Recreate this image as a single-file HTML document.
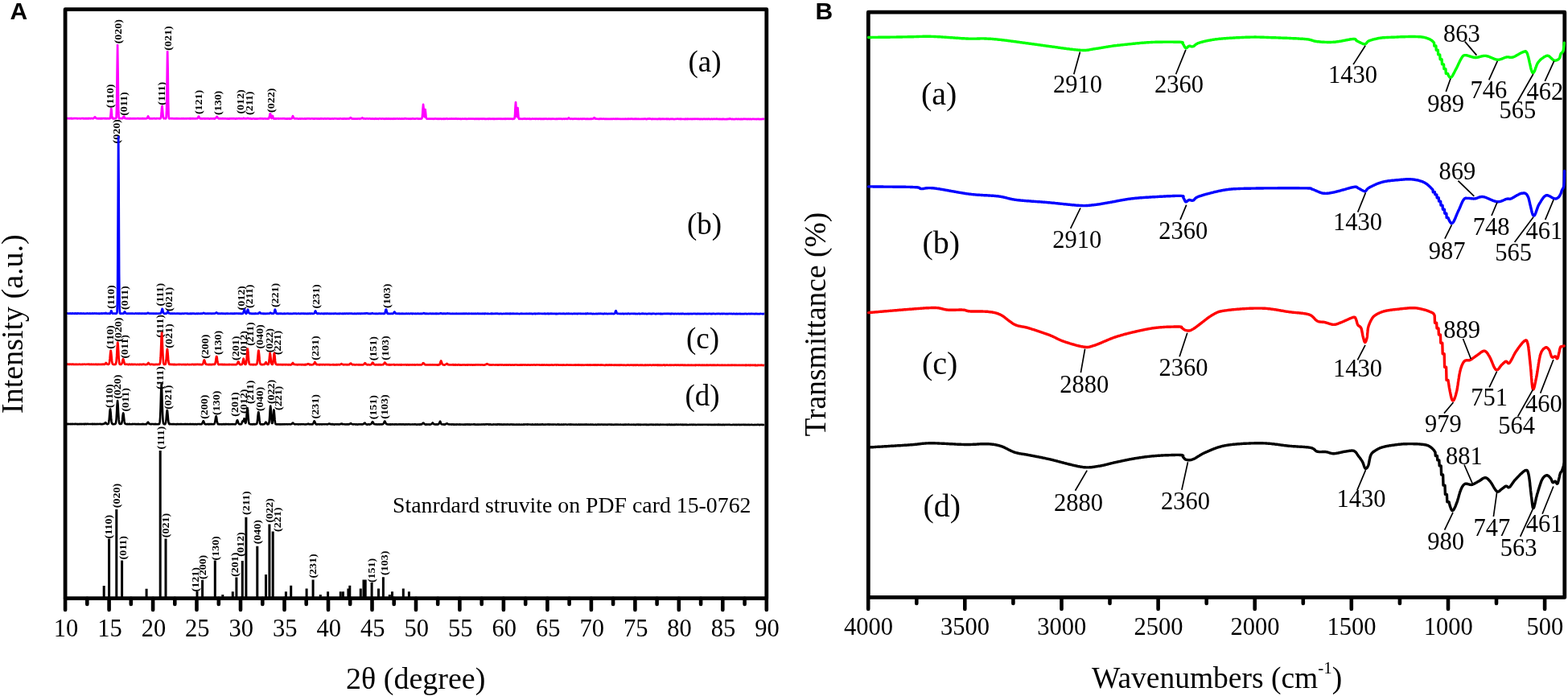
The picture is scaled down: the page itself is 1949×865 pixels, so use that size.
<!DOCTYPE html>
<html><head><meta charset="utf-8"><title>XRD and FTIR</title><style>html,body{margin:0;padding:0;background:#fff;overflow:hidden}svg{display:block}</style></head><body>
<svg width="1949" height="865" viewBox="0 0 1949 865">
<rect width="100%" height="100%" fill="#fff"/>
<g style="font-family:'Liberation Serif','Times New Roman',serif;font-size:14px;font-weight:bold" fill="#000"><text transform="translate(141 134.2) rotate(-90) scale(1 0.9)">(110)</text><text transform="translate(150.8 54.3) rotate(-90) scale(1 0.9)">(020)</text><text transform="translate(158.2 143.8) rotate(-90) scale(1 0.9)">(011)</text><text transform="translate(204.6 130.7) rotate(-90) scale(1 0.9)">(111)</text><text transform="translate(212.6 62.7) rotate(-90) scale(1 0.9)">(021)</text><text transform="translate(251.4 142.1) rotate(-90) scale(1 0.9)">(121)</text><text transform="translate(274.6 143) rotate(-90) scale(1 0.9)">(130)</text><text transform="translate(302.9 141.6) rotate(-90) scale(1 0.9)">(012)</text><text transform="translate(314.2 143) rotate(-90) scale(1 0.9)">(211)</text><text transform="translate(340.6 139.9) rotate(-90) scale(1 0.9)">(022)</text><text transform="translate(148.9 178.5) rotate(-90) scale(1 0.9)">(020)</text><text transform="translate(142.3 383.8) rotate(-90) scale(1 0.9)">(110)</text><text transform="translate(159.3 384.9) rotate(-90) scale(1 0.9)">(011)</text><text transform="translate(203.1 380.5) rotate(-90) scale(1 0.9)">(111)</text><text transform="translate(214.1 387) rotate(-90) scale(1 0.9)">(021)</text><text transform="translate(303.7 385.5) rotate(-90) scale(1 0.9)">(012)</text><text transform="translate(314.3 383) rotate(-90) scale(1 0.9)">(211)</text><text transform="translate(345.6 382.1) rotate(-90) scale(1 0.9)">(221)</text><text transform="translate(397.3 383.5) rotate(-90) scale(1 0.9)">(231)</text><text transform="translate(485 382.9) rotate(-90) scale(1 0.9)">(103)</text><text transform="translate(141.3 433.8) rotate(-90) scale(1 0.9)">(110)</text><text transform="translate(151.2 424.8) rotate(-90) scale(1 0.9)">(020)</text><text transform="translate(159.3 445.6) rotate(-90) scale(1 0.9)">(011)</text><text transform="translate(203.3 419.8) rotate(-90) scale(1 0.9)">(111)</text><text transform="translate(214.2 432.7) rotate(-90) scale(1 0.9)">(021)</text><text transform="translate(258.5 445.8) rotate(-90) scale(1 0.9)">(200)</text><text transform="translate(274.6 441.1) rotate(-90) scale(1 0.9)">(130)</text><text transform="translate(297 447.9) rotate(-90) scale(1 0.9)">(201)</text><text transform="translate(306.8 441.4) rotate(-90) scale(1 0.9)">(012)</text><text transform="translate(315.4 429.8) rotate(-90) scale(1 0.9)">(211)</text><text transform="translate(327.1 433.6) rotate(-90) scale(1 0.9)">(040)</text><text transform="translate(339.1 438.3) rotate(-90) scale(1 0.9)">(022)</text><text transform="translate(348.5 441.1) rotate(-90) scale(1 0.9)">(221)</text><text transform="translate(396 447.7) rotate(-90) scale(1 0.9)">(231)</text><text transform="translate(468.4 448.3) rotate(-90) scale(1 0.9)">(151)</text><text transform="translate(483.4 447.7) rotate(-90) scale(1 0.9)">(103)</text><text transform="translate(140.3 506.9) rotate(-90) scale(1 0.9)">(110)</text><text transform="translate(150.4 495.8) rotate(-90) scale(1 0.9)">(020)</text><text transform="translate(159.8 511.6) rotate(-90) scale(1 0.9)">(011)</text><text transform="translate(203 484.1) rotate(-90) scale(1 0.9)">(111)</text><text transform="translate(213.1 508.8) rotate(-90) scale(1 0.9)">(021)</text><text transform="translate(258.4 520.8) rotate(-90) scale(1 0.9)">(200)</text><text transform="translate(272.8 515.9) rotate(-90) scale(1 0.9)">(130)</text><text transform="translate(296.2 517.7) rotate(-90) scale(1 0.9)">(201)</text><text transform="translate(306.6 513.9) rotate(-90) scale(1 0.9)">(012)</text><text transform="translate(315.3 502.1) rotate(-90) scale(1 0.9)">(211)</text><text transform="translate(326.7 511.1) rotate(-90) scale(1 0.9)">(040)</text><text transform="translate(341.3 502.1) rotate(-90) scale(1 0.9)">(022)</text><text transform="translate(349.9 510) rotate(-90) scale(1 0.9)">(221)</text><text transform="translate(396.1 520.4) rotate(-90) scale(1 0.9)">(231)</text><text transform="translate(467.8 521.3) rotate(-90) scale(1 0.9)">(151)</text><text transform="translate(481.9 520.7) rotate(-90) scale(1 0.9)">(103)</text><text transform="translate(139.3 669.4) rotate(-90) scale(1 0.9)">(110)</text><text transform="translate(148.6 631.2) rotate(-90) scale(1 0.9)">(020)</text><text transform="translate(157.2 695.5) rotate(-90) scale(1 0.9)">(011)</text><text transform="translate(203.8 558.5) rotate(-90) scale(1 0.9)">(111)</text><text transform="translate(210.2 668.2) rotate(-90) scale(1 0.9)">(021)</text><text transform="translate(247.4 735.4) rotate(-90) scale(1 0.9)">(121)</text><text transform="translate(255.9 720) rotate(-90) scale(1 0.9)">(200)</text><text transform="translate(271.7 696.5) rotate(-90) scale(1 0.9)">(130)</text><text transform="translate(296 716.8) rotate(-90) scale(1 0.9)">(201)</text><text transform="translate(302.9 691.7) rotate(-90) scale(1 0.9)">(012)</text><text transform="translate(309.8 639.9) rotate(-90) scale(1 0.9)">(211)</text><text transform="translate(324.3 676.3) rotate(-90) scale(1 0.9)">(040)</text><text transform="translate(339.3 649.6) rotate(-90) scale(1 0.9)">(022)</text><text transform="translate(348.6 660.9) rotate(-90) scale(1 0.9)">(221)</text><text transform="translate(393.3 718.6) rotate(-90) scale(1 0.9)">(231)</text><text transform="translate(466.3 724.1) rotate(-90) scale(1 0.9)">(151)</text><text transform="translate(482.1 714.9) rotate(-90) scale(1 0.9)">(103)</text></g>
<polyline fill="none" stroke="#ff00ff" stroke-width="2.7" stroke-linejoin="round" points="81.6,147.2 82.1,147.2 82.6,147.4 83.1,147.2 83.6,147.2 84.1,147.2 84.6,147.1 85.1,147.2 85.6,147.3 86.1,147.3 86.6,147 87.1,147.1 87.6,147 88.1,147.3 88.6,147.3 89.1,147 89.6,147.4 90.1,147.4 90.6,147.3 91.1,147.3 91.6,147.1 92.1,147 92.6,147.2 93.1,147 93.6,147.1 94.1,147.1 94.6,147 95.1,147.2 95.6,147.2 96.1,147.4 96.6,147.2 97.1,147.3 97.6,147.2 98.1,147.3 98.6,147.2 99.1,147.1 99.6,147.4 100.1,147.4 100.6,147.4 101.1,147.3 101.6,147.1 102.1,147.1 102.6,147.1 103.1,147 103.6,147.3 104.1,147.2 104.6,147.4 105.1,147.2 105.6,147.4 106.1,147.4 106.6,147 107.1,147.1 107.6,147.4 108.1,147.2 108.6,147.4 109.1,147.2 109.6,147 110.1,147.3 110.6,147.3 111.1,147.1 111.6,147 112.1,147.2 112.6,147.4 113.1,147.3 113.6,147.1 114.1,147.1 114.6,147.1 115.1,147 115.6,147.4 116.1,147 116.6,147 117.1,146.4 117.6,145.6 118,145.6 118.1,145.4 118.6,146.1 119.1,146.5 119.6,147.1 120.1,147.1 120.6,147.1 121.1,147.4 121.6,147.4 122.1,147.2 122.6,147.4 123.1,147.1 123.6,147.2 124.1,147.4 124.6,147.3 125.1,147.1 125.6,147.5 126.1,147.1 126.6,147.1 127.1,147.4 127.6,147.2 128.1,147.2 128.6,147.1 129.1,147.1 129.6,147.3 130.1,147.1 130.6,147.3 131.1,147.2 131.5,147.2 131.6,147.4 132.1,147.2 132.6,147.3 133.1,147.4 133.6,147.1 134.1,147.1 134.6,147.4 135.1,147.4 135.6,147.1 136.1,147.1 136.6,147.3 137.1,146.8 137.6,142.6 138.1,136.1 138.3,135.1 138.6,137 139.1,143.9 139.6,146.7 140.1,147 140.6,147.5 141.1,147.1 141.6,147.3 142.1,147.1 142.6,147.4 143.1,147.3 143.6,147.2 144.1,147.1 144.6,145.9 145.1,132.5 145.6,89.4 146.1,56 146.6,89.7 147.1,132.7 147.6,145.7 148.1,147.4 148.6,147.1 149.1,147 149.6,147.2 150.1,147.2 150.6,147.1 151.1,147.1 151.6,147.2 152.1,147.3 152.6,146.8 153.1,146.1 153.6,145 153.9,144.7 154.1,144.7 154.6,145.9 155.1,146.9 155.6,147.1 156.1,147.1 156.6,147.1 157.1,147.5 157.6,147.4 158.1,147.5 158.6,147.1 159.1,147.3 159.6,147.3 160.1,147.4 160.6,147.2 161.1,147.5 161.6,147.1 162.1,147.3 162.6,147.4 163.1,147.5 163.6,147.4 164.1,147.4 164.6,147.4 165.1,147.5 165.6,147.2 166.1,147.4 166.6,147.5 167.1,147.4 167.6,147.2 168.1,147.4 168.6,147.4 169.1,147.3 169.6,147.3 170.1,147.2 170.6,147.3 171.1,147.3 171.6,147.1 172.1,147.3 172.6,147.5 173.1,147.5 173.6,147.4 174.1,147.2 174.6,147.4 175.1,147.3 175.6,147.3 176.1,147.4 176.6,147.1 177.1,147.4 177.6,147.1 178.1,147.3 178.6,147.3 179.1,147.2 179.6,147.4 180.1,147.3 180.6,147.3 181.1,147.5 181.6,147.2 182.1,147.1 182.6,147.1 183.1,146.8 183.6,145.3 184.1,144.4 184.6,145.6 185.1,146.8 185.6,147.2 186.1,147.5 186.6,147.2 187.1,147.4 187.6,147.2 188.1,147.3 188.6,147.4 189.1,147.5 189.6,147.5 190.1,147.2 190.6,147.3 191.1,147.2 191.6,147.1 192.1,147.3 192.6,147.5 193.1,147.5 193.6,147.4 194.1,147.5 194.6,147.2 195.1,147.2 195.6,147.3 196.1,147.2 196.6,147.2 197.1,147.3 197.6,147.4 198.1,147.3 198.6,147.2 199.1,147.4 199.6,147.3 200.1,145.7 200.6,141 201.1,134.2 201.5,132 201.6,131.8 202.1,137.1 202.6,143.5 203.1,146.4 203.6,147.3 204.1,147.1 204.6,147.2 205.1,147.3 205.6,147.1 206.1,147.4 206.6,146 207.1,135.9 207.6,101.2 208.1,65.5 208.2,64.1 208.6,83.5 209.1,125.6 209.6,144.2 210.1,147.3 210.6,147.4 211.1,147.2 211.6,147.3 212.1,147.2 212.6,147.1 213.1,147.3 213.6,147.4 214.1,147.2 214.6,147.2 215.1,147.3 215.6,147.4 216.1,147.3 216.6,147.4 217.1,147.4 217.6,147.3 218.1,147.5 218.6,147.5 219.1,147.1 219.6,147.5 220.1,147.4 220.6,147.2 221.1,147.3 221.6,147.4 222.1,147.5 222.6,147.3 223.1,147.4 223.6,147.5 224.1,147.5 224.6,147.5 225.1,147.3 225.6,147.4 226.1,147.2 226.6,147.4 227.1,147.5 227.6,147.4 228.1,147.4 228.6,147.2 229.1,147.5 229.6,147.5 230.1,147.5 230.6,147.4 231.1,147.5 231.6,147.3 232.1,147.5 232.6,147.5 233.1,147.3 233.6,147.2 234.1,147.3 234.6,147.4 235.1,147.5 235.6,147.3 236.1,147.1 236.6,147.5 237.1,147.2 237.6,147.5 238.1,147.2 238.6,147.3 239.1,147.5 239.6,147.2 240.1,147.2 240.6,147.4 241.1,147.4 241.6,147.5 242.1,147.4 242.6,147.5 243.1,147.3 243.6,147.5 244.1,147.2 244.6,147.2 245.1,147.3 245.6,147 246.1,146.4 246.6,145.1 247,144.6 247.1,144.8 247.6,145.6 248.1,146.6 248.6,147.2 249.1,147.5 249.6,147.5 250.1,147.2 250.6,147.5 251.1,147.6 251.6,147.4 252.1,147.4 252.6,147.2 253.1,147.4 253.6,147.4 254.1,147.4 254.6,147.2 255.1,147.6 255.6,147.4 256.1,147.3 256.6,147.5 257.1,147.4 257.6,147.4 258.1,147.4 258.6,147.2 259.1,147.4 259.6,147.3 260.1,147.6 260.6,147.6 261.1,147.3 261.6,147.4 262.1,147.2 262.6,147.3 263.1,147.5 263.6,147.5 264.1,147.4 264.6,147.3 265.1,147.2 265.6,147.4 266.1,147.6 266.6,147.2 267.1,147.5 267.6,147.1 268.1,146.9 268.6,146.3 269.1,145.6 269.6,145 270.1,145.5 270.6,146.4 271.1,146.9 271.6,147.4 272.1,147.2 272.6,147.4 273.1,147.3 273.6,147.2 274.1,147.4 274.6,147.3 275.1,147.3 275.6,147.3 276.1,147.4 276.6,147.2 277.1,147.2 277.6,147.4 278.1,147.4 278.6,147.4 279.1,147.5 279.6,147.4 280.1,147.5 280.6,147.3 281.1,147.5 281.6,147.5 282.1,147.6 282.6,147.3 283.1,147.3 283.6,147.6 284.1,147.3 284.6,147.6 285.1,147.6 285.6,147.2 286.1,147.3 286.6,147.5 287.1,147.3 287.6,147.2 288.1,147.5 288.6,147.4 289.1,147.5 289.6,147.2 290.1,147.3 290.6,147.5 291.1,147.2 291.6,147.3 292.1,147.5 292.6,147.6 293.1,147.6 293.6,147.2 294.1,147.4 294.6,147.5 295.1,147.4 295.6,147.5 296.1,147.3 296.6,147.2 297.1,147.2 297.6,147.2 298.1,147.4 298.6,147.4 299.1,147.4 299.6,147.2 300.1,147.3 300.6,147.3 301.1,147.5 301.6,147.5 302.1,147.4 302.6,146.9 303,146.8 303.1,147.2 303.6,147.1 304.1,147.4 304.6,147.3 305.1,147.4 305.6,147.4 306.1,147.3 306.6,147.4 307.1,147 307.6,147.1 308,147.2 308.1,146.9 308.6,147.1 309.1,147.3 309.6,147.3 310.1,147.3 310.6,147.3 311.1,147.4 311.6,147.2 312.1,147.6 312.6,147.5 313.1,147.5 313.6,147.6 314.1,147.5 314.6,147.4 315.1,147.5 315.6,147.4 316.1,147.6 316.6,147.6 317.1,147.3 317.6,147.6 318.1,147.5 318.6,147.5 319.1,147.6 319.6,147.4 320,147.6 320.1,147.6 320.6,147.5 321.1,147.5 321.6,147.5 322.1,147.4 322.6,147.5 323.1,147.2 323.6,147.4 324.1,147.4 324.6,147.2 325.1,147.4 325.6,147.5 326.1,147.5 326.6,147.3 327.1,147.6 327.6,147.5 328.1,147.4 328.6,147.5 329.1,147.5 329.6,147.4 330.1,147.4 330.6,147.6 331.1,147.5 331.6,147.5 332.1,147.5 332.6,147.6 333.1,147.2 333.6,147.5 334.1,147.4 334.6,146.4 335.1,144.4 335.6,141.6 335.9,141.1 336.1,141.4 336.6,143.7 337.1,146.1 337.6,147 338.1,145.8 338.6,143.9 338.8,143.9 339.1,144.2 339.6,146.4 340.1,147.3 340.6,147.6 341.1,147.3 341.6,147.5 342.1,147.6 342.6,147.2 343.1,147.6 343.6,147.3 344.1,147.4 344.6,147.3 345.1,147.4 345.6,147.5 346.1,147.2 346.6,147.6 347.1,147.4 347.6,147.5 348.1,147.5 348.6,147.4 349.1,147.4 349.6,147.5 350.1,147.5 350.6,147.4 351.1,147.5 351.6,147.4 352.1,147.2 352.6,147.3 353.1,147.2 353.6,147.3 354.1,147.6 354.6,147.4 355.1,147.6 355.6,147.6 356.1,147.3 356.6,147.7 357.1,147.6 357.6,147.3 358.1,147.6 358.6,147.4 359.1,147.4 359.6,147.7 360.1,147.3 360.6,147.5 361.1,147.6 361.6,147.6 362.1,147.4 362.6,147.3 363.1,146.4 363.6,145 364,144.2 364.1,144.5 364.6,145.4 365.1,146.6 365.6,147.1 366.1,147.5 366.6,147.3 367.1,147.4 367.6,147.5 368.1,147.4 368.6,147.4 369.1,147.5 369.6,147.4 370.1,147.6 370.6,147.5 371.1,147.7 371.6,147.7 372.1,147.6 372.6,147.4 373.1,147.3 373.6,147.6 374.1,147.6 374.6,147.5 375.1,147.4 375.6,147.4 376.1,147.6 376.6,147.5 377.1,147.5 377.6,147.5 378.1,147.6 378.6,147.3 379.1,147.4 379.6,147.7 380.1,147.7 380.6,147.6 381.1,147.3 381.6,147.3 382.1,147.4 382.6,147.4 383.1,147.5 383.6,147.3 384.1,147.5 384.6,147.3 385.1,147.3 385.6,147.6 386.1,147.5 386.6,147.5 387.1,147.4 387.6,147.5 388.1,147.4 388.6,147.4 389.1,147.6 389.6,147.6 390.1,147.3 390.6,147.3 391,147.6 391.1,147.5 391.6,147.6 392.1,147.4 392.6,147.5 393.1,147.4 393.6,147.6 394.1,147.4 394.6,147.6 395.1,147.7 395.6,147.4 396.1,147.5 396.6,147.6 397.1,147.7 397.6,147.5 398.1,147.4 398.6,147.3 399.1,147.7 399.6,147.3 400.1,147.3 400.6,147.5 401.1,147.5 401.6,147.6 402.1,147.4 402.6,147.6 403.1,147.3 403.6,147.4 404.1,147.6 404.6,147.3 405.1,147.4 405.6,147.6 406.1,147.6 406.6,147.4 407.1,147.3 407.6,147.4 408.1,147.6 408.6,147.4 409.1,147.3 409.6,147.6 410,147.5 410.1,147.7 410.6,147.7 411.1,147.7 411.6,147.5 412.1,147.6 412.6,147.4 413.1,147.4 413.6,147.5 414.1,147.7 414.6,147.7 415.1,147.4 415.6,147.4 416.1,147.4 416.6,147.4 417.1,147.5 417.6,147.5 418.1,147.4 418.6,147.5 419.1,147.6 419.6,147.5 420.1,147.7 420.6,147.5 421.1,147.4 421.6,147.6 422.1,147.7 422.6,147.4 423.1,147.3 423.6,147.5 424.1,147.5 424.6,147.5 425.1,147.7 425.6,147.6 426.1,147.7 426.6,147.3 427.1,147.5 427.6,147.6 428.1,147.3 428.6,147.3 429.1,147.6 429.6,147.7 430.1,147.3 430.6,147.6 431.1,147.4 431.6,147.6 432.1,147.6 432.6,147.4 433.1,147.4 433.6,147.6 434.1,147.5 434.6,147.3 435.1,146.7 435.6,146.2 435.8,146.4 436.1,146.4 436.6,146.8 437.1,147.3 437.6,147.6 438.1,147.6 438.6,147.7 439.1,147.5 439.6,147.7 440.1,147.6 440.6,147.7 441.1,147.7 441.6,147.7 442.1,147.7 442.6,147.7 443.1,147.6 443.6,147.5 444.1,147.6 444.6,147.7 445.1,147.5 445.6,147.5 446.1,147.4 446.6,147.6 447.1,147.8 447.6,147.5 448.1,147.4 448.6,147.4 449.1,147.4 449.6,146.9 450.1,146.8 450.4,146.3 450.6,146.5 451.1,146.8 451.6,147.4 452.1,147.6 452.6,147.4 453.1,147.3 453.6,147.5 454.1,147.6 454.6,147.7 455.1,147.3 455.6,147.4 456.1,147.4 456.6,147.4 457.1,147.4 457.6,147.6 458.1,147.6 458.6,147.4 459.1,147.4 459.6,147.5 460.1,147.4 460.6,147.7 461.1,147.5 461.6,147.6 462.1,147.7 462.6,147.5 463.1,147.4 463.6,147.7 464.1,147.7 464.6,147.5 465.1,147.6 465.6,147.8 466.1,147.5 466.6,147.4 467.1,147.4 467.6,147.8 468.1,147.7 468.6,147.5 469.1,147.6 469.6,147.6 470.1,147.5 470.6,147.8 471.1,147.6 471.6,147.4 472.1,147.3 472.6,147.5 473.1,147.5 473.6,147.7 474.1,147.7 474.6,147.6 475,147.4 475.1,147.4 475.6,147.5 476.1,147.5 476.6,147.7 477.1,147.6 477.6,147.6 478.1,147.8 478.6,147.5 479.1,147.6 479.6,147.4 480.1,147.7 480.6,147.3 481.1,147.7 481.6,147.7 482.1,147.7 482.6,147.4 483.1,147.5 483.6,147.7 484.1,147.4 484.6,147.6 485.1,147.6 485.6,147.8 486.1,147.6 486.6,147.7 487.1,147.5 487.6,147.7 488.1,147.5 488.6,147.8 489.1,147.4 489.6,147.7 490.1,147.4 490.6,147.6 491.1,147.6 491.6,147.4 492.1,147.7 492.6,147.5 493.1,147.5 493.6,147.4 494.1,147.5 494.6,147.6 495.1,147.7 495.6,147.5 496.1,147.7 496.6,147.4 497.1,147.5 497.6,147.6 498.1,147.8 498.6,147.7 499.1,147.7 499.6,147.4 500.1,147.5 500.6,147.7 501.1,147.5 501.6,147.6 502.1,147.5 502.6,147.3 503.1,147.6 503.6,147.3 503.8,147.1 504.1,147.3 504.6,147.3 505.1,147.5 505.6,147.6 506.1,147.5 506.6,147.5 507.1,147.5 507.6,147.7 508.1,147.5 508.6,147.5 509.1,147.7 509.6,147.5 510.1,147.8 510.6,147.6 511.1,147.7 511.6,147.5 512.1,147.7 512.6,147.4 513.1,147.4 513.6,147.4 514.1,147.7 514.6,147.7 515.1,147.5 515.6,147.6 516.1,147.7 516.6,147.6 517.1,147.4 517.6,147.5 518.1,147.5 518.6,147.4 519.1,147.6 519.6,147.4 520.1,147.8 520.6,147.6 521.1,147.6 521.6,147.7 522.1,147.7 522.6,147.7 523.1,147.6 523.6,147.5 524.1,147.5 524.6,146.6 525.1,143 525.6,134.9 526.1,129.8 526.6,134.9 527.1,143 527.6,145.3 528.1,140.5 528.6,136.1 529.1,140.7 529.6,146.2 530.1,147.3 530.6,147.6 531.1,147.6 531.6,147.7 532.1,147.8 532.6,147.7 533.1,147.5 533.6,147.7 534.1,147.8 534.6,147.6 535.1,147.6 535.6,147.6 536.1,147.5 536.6,147.7 537.1,147.8 537.6,147.6 538.1,147.7 538.6,147.8 539.1,147.5 539.6,147.8 540.1,147.7 540.6,147.5 541.1,147.4 541.6,147.5 542.1,147.7 542.6,147.7 543.1,147.5 543.6,147.8 544.1,147.6 544.6,147.6 545,147.5 545.1,147.8 545.6,147.5 546.1,147.8 546.6,147.6 547.1,147.7 547.6,147.7 548.1,147.5 548.6,147.8 549.1,147.8 549.6,147.8 550.1,147.7 550.6,147.5 551.1,147.8 551.6,147.5 552.1,147.8 552.6,147.5 553.1,147.7 553.6,147.8 554.1,147.5 554.6,147.7 555.1,147.4 555.6,147.4 556.1,147.5 556.6,147.9 557.1,147.8 557.6,147.7 558.1,147.6 558.6,147.7 559.1,147.7 559.6,147.6 560.1,147.7 560.6,147.8 561.1,147.4 561.6,147.5 562.1,147.6 562.6,147.5 563.1,147.6 563.6,147.7 564.1,147.5 564.6,147.7 565.1,147.5 565.6,147.7 566.1,147.6 566.6,147.7 567.1,147.4 567.6,147.7 568.1,147.5 568.6,147.8 569.1,147.7 569.6,147.6 570.1,147.6 570.6,147.7 571.1,147.7 571.6,147.8 572.1,147.8 572.6,147.6 573.1,147.9 573.6,147.8 574.1,147.8 574.6,147.6 575.1,147.6 575.6,147.7 576.1,147.8 576.6,147.7 577.1,147.7 577.6,147.6 578.1,147.8 578.6,147.6 579.1,147.5 579.6,147.8 580.1,147.8 580.6,147.8 581.1,147.7 581.6,147.8 582,147.6 582.1,147.7 582.6,147.5 583.1,147.5 583.6,147.6 584.1,147.7 584.6,147.6 585.1,147.5 585.6,147.7 586.1,147.7 586.6,147.5 587.1,147.6 587.6,147.6 588.1,147.5 588.6,147.5 589.1,147.8 589.6,147.9 590.1,147.7 590.6,147.8 591.1,147.6 591.6,147.8 592.1,147.5 592.6,147.8 593.1,147.7 593.6,147.8 594.1,147.5 594.6,147.8 595.1,147.5 595.6,147.7 596.1,147.9 596.6,147.5 597.1,147.6 597.6,147.6 598.1,147.6 598.6,147.5 599.1,147.8 599.6,147.8 600.1,147.6 600.6,147.6 601.1,147.7 601.6,147.5 602.1,147.5 602.6,147.9 603.1,147.6 603.6,147.7 604.1,147.9 604.6,147.9 605.1,147.7 605.6,147.6 606.1,147.6 606.6,147.9 607.1,147.9 607.6,147.5 608.1,147.8 608.6,147.6 609.1,147.7 609.6,147.5 610.1,147.9 610.6,147.9 611.1,147.6 611.6,147.7 612.1,147.6 612.6,147.9 613.1,147.5 613.6,147.5 614.1,147.8 614.6,147.6 615.1,147.9 615.6,147.9 616.1,147.8 616.6,147.5 617.1,147.8 617.6,147.9 618.1,147.7 618.6,147.5 619.1,147.6 619.6,147.6 620.1,147.8 620.6,147.6 621.1,147.6 621.6,147.6 622.1,147.8 622.6,147.8 623.1,147.6 623.6,147.8 624.1,147.9 624.6,147.7 625.1,147.6 625.6,147.6 626.1,147.9 626.6,147.8 627.1,147.6 627.6,147.8 628.1,147.5 628.6,147.9 629.1,147.7 629.6,147.7 630.1,147.7 630.6,147.5 631.1,147.7 631.6,147.6 632.1,147.6 632.6,147.8 633.1,147.5 633.6,147.6 634.1,147.8 634.6,147.6 635.1,147.6 635.6,147.7 636.1,147.6 636.6,147.9 637.1,147.9 637.6,147.5 638.1,147.7 638.6,147.8 639.1,147.6 639.6,147.1 640.1,142.3 640.6,131.8 641,127.2 641.1,127.6 641.6,136.3 642.1,144.8 642.6,145 643.1,138 643.5,134.2 643.6,134.6 644.1,141.3 644.6,146.6 645.1,147.8 645.6,147.6 646.1,147.8 646.6,147.6 647.1,147.8 647.6,147.6 648.1,147.7 648.6,147.8 649.1,147.8 649.6,147.8 650.1,147.6 650.6,147.7 651.1,147.5 651.6,147.6 652,147.5 652.1,147.3 652.6,147.6 653.1,147.7 653.6,147.7 654.1,147.9 654.6,147.6 655.1,147.6 655.6,147.5 656.1,147.7 656.6,147.7 657.1,147.7 657.6,147.6 658.1,147.9 658.6,147.5 659.1,147.9 659.6,147.8 660.1,147.8 660.6,147.9 661.1,147.6 661.6,147.6 662.1,147.7 662.6,147.5 663.1,147.7 663.6,147.8 664.1,147.7 664.6,147.6 665.1,147.8 665.6,147.6 666.1,147.9 666.6,147.6 667.1,147.6 667.6,147.6 668.1,147.8 668.6,147.9 669.1,147.9 669.6,147.5 670.1,147.7 670.6,147.7 671.1,147.6 671.6,147.9 672.1,147.5 672.6,147.7 673.1,147.9 673.6,148 674.1,147.6 674.6,147.7 675.1,147.9 675.6,147.5 676.1,147.6 676.6,147.9 677.1,147.6 677.6,147.7 678.1,147.7 678.6,147.7 679.1,147.6 679.6,147.5 680.1,148 680.6,147.9 681.1,147.9 681.6,147.6 682.1,147.6 682.6,147.8 683.1,147.6 683.6,147.7 684.1,147.9 684.6,147.7 685.1,147.7 685.6,148 686.1,147.8 686.6,147.6 687.1,147.7 687.6,147.8 688.1,147.6 688.6,147.7 689.1,147.8 689.6,147.9 690.1,147.8 690.6,147.9 691.1,147.7 691.6,147.7 692.1,147.9 692.6,147.7 693.1,147.9 693.6,147.6 694.1,147.7 694.6,147.6 695.1,147.8 695.6,147.6 696.1,147.6 696.6,147.6 697.1,147.8 697.6,147.7 698.1,147.7 698.6,148 699.1,147.8 699.6,147.9 700.1,147.6 700.6,147.7 701.1,147.6 701.6,147.9 702.1,147.7 702.6,147.7 703.1,147.6 703.6,147.6 704.1,147.7 704.6,147.7 705.1,147.9 705.6,147.8 706.1,147.2 706.6,146.8 707,146.5 707.1,146.9 707.6,147 708.1,147.6 708.6,147.8 709.1,147.9 709.6,147.6 710.1,147.7 710.6,147.7 711.1,147.6 711.6,147.9 712.1,147.7 712.6,147.9 713.1,147.8 713.6,147.6 714.1,147.7 714.6,147.7 715.1,147.6 715.6,147.6 716.1,147.8 716.6,147.6 717.1,147.7 717.6,147.8 718.1,147.8 718.6,147.6 719.1,147.9 719.6,147.7 720.1,147.9 720.6,147.9 721.1,147.6 721.6,147.7 722.1,147.7 722.6,147.9 723.1,147.7 723.6,147.7 724.1,148 724.6,147.7 725.1,147.7 725.6,147.7 726.1,147.7 726.6,147.6 727.1,147.6 727.6,147.9 728.1,147.8 728.6,147.9 729.1,148 729.6,147.7 730.1,147.9 730.6,148 731.1,147.7 731.6,147.9 732.1,147.9 732.6,148 733.1,148 733.6,147.7 734.1,147.9 734.6,147.6 735.1,147.8 735.6,147.8 736.1,147.6 736.6,147.7 737.1,147.6 737.6,147.5 738.1,146.8 738.6,146.3 738.8,146.4 739.1,146.5 739.6,146.9 740.1,147.6 740.6,147.6 741.1,147.6 741.6,147.7 742.1,147.8 742.6,147.7 743.1,147.8 743.6,147.9 744.1,147.8 744.6,147.9 745.1,147.6 745.6,147.8 746.1,147.8 746.6,147.6 747.1,147.8 747.6,147.6 748.1,147.8 748.6,147.9 749.1,147.8 749.6,147.7 750.1,147.7 750.6,147.6 751.1,147.7 751.6,148 752.1,147.8 752.6,147.7 753.1,147.9 753.6,147.7 754.1,147.8 754.6,147.9 755.1,148 755.6,147.8 756.1,147.9 756.6,148 757.1,147.9 757.6,147.9 758.1,147.9 758.6,147.8 759.1,147.8 759.6,147.7 760.1,148 760.6,148 761.1,147.8 761.6,148 762.1,147.6 762.6,147.7 763.1,147.8 763.6,147.7 764.1,147.8 764.6,148 765.1,147.7 765.6,147.7 766.1,147.7 766.6,147.9 767.1,147.7 767.6,147.6 768.1,147.8 768.6,147.8 769.1,147.7 769.6,147.8 770.1,147.9 770.6,147.9 771.1,147.9 771.6,147.9 772.1,148 772.6,148 773.1,147.8 773.6,147.8 774.1,148 774.6,147.8 775.1,147.9 775.6,147.9 776.1,147.9 776.6,148 777.1,148 777.6,147.7 778.1,147.9 778.6,147.8 779.1,147.9 779.6,147.8 780.1,147.7 780.6,148 781.1,147.9 781.6,147.7 782.1,147.7 782.6,147.8 783.1,147.7 783.6,147.9 784.1,147.7 784.6,147.7 785.1,147.7 785.6,147.7 786.1,147.9 786.6,147.7 787.1,147.8 787.6,148 788.1,147.8 788.6,147.7 789.1,148 789.6,148 790.1,147.7 790.6,147.7 791.1,147.9 791.6,148 792.1,147.8 792.6,147.9 793.1,147.7 793.6,147.9 794.1,147.8 794.6,147.8 795.1,148 795.6,148 796.1,148 796.6,147.9 797.1,147.8 797.6,147.9 798.1,147.9 798.6,148 799.1,148 799.6,147.7 800.1,147.8 800.6,147.9 801.1,147.7 801.6,147.7 802.1,147.6 802.6,147.9 803.1,148.1 803.6,148.1 804.1,147.7 804.6,147.9 805.1,147.7 805.6,147.7 806.1,147.5 806.4,147.7 806.6,147.7 807.1,147.4 807.6,147.8 808.1,147.7 808.6,147.7 809.1,147.8 809.6,148 810.1,148.1 810.6,147.7 811.1,147.8 811.6,147.7 812.1,147.9 812.6,147.9 813.1,147.8 813.6,147.8 814.1,148 814.6,148 815.1,147.8 815.6,147.8 816.1,147.9 816.6,148 817.1,148.1 817.6,147.8 818.1,148 818.6,147.9 819.1,148 819.6,147.7 820.1,147.7 820.6,147.7 821.1,148.1 821.6,147.8 822.1,147.9 822.6,147.7 823.1,147.8 823.6,147.7 824.1,147.9 824.6,147.7 825.1,147.9 825.6,147.8 826.1,147.8 826.6,147.9 827.1,147.8 827.6,147.8 828.1,147.7 828.6,147.7 829.1,148.1 829.6,147.8 830.1,147.7 830.6,147.7 831.1,147.9 831.6,148.1 832.1,147.8 832.6,148.1 833.1,147.9 833.6,147.9 834.1,148 834.6,147.8 835.1,147.7 835.6,147.9 836.1,148 836.6,147.9 837.1,147.8 837.6,148.1 838.1,148.1 838.6,148.1 839.1,147.9 839.6,148 840.1,148 840.6,147.8 841.1,147.7 841.6,147.8 842.1,147.7 842.6,147.7 843.1,147.8 843.6,148 844.1,147.8 844.6,147.9 845.1,147.7 845.6,147.8 846.1,148.1 846.6,147.7 847.1,147.9 847.6,148 848.1,148 848.6,148 849.1,147.9 849.6,148 850.1,148 850.6,148 851.1,148.1 851.6,147.7 852.1,148.1 852.6,147.9 853.1,148 853.6,147.8 854.1,148.1 854.6,147.7 855.1,147.9 855.6,147.8 856.1,147.9 856.6,147.9 857.1,148 857.6,148 858.1,147.9 858.6,148 859.1,147.8 859.6,147.8 860.1,148.1 860.6,147.8 861.1,147.7 861.6,147.8 862.1,148 862.6,147.8 863.1,148 863.6,147.9 864.1,148 864.6,147.8 865.1,147.7 865.6,147.8 866.1,147.9 866.6,147.9 867.1,147.7 867.6,147.9 868.1,147.9 868.6,147.8 869.1,147.9 869.6,148.1 870.1,147.8 870.6,148.1 871.1,147.8 871.6,148 872.1,147.8 872.6,148.1 873.1,147.9 873.6,148.1 874.1,147.8 874.6,147.9 875.1,148 875.6,147.8 876.1,147.8 876.6,148 877.1,148.1 877.6,147.9 878.1,147.8 878.6,147.9 879.1,148.1 879.6,147.8 880.1,148 880.6,147.9 881.1,148 881.6,147.8 882.1,148 882.6,148.1 883.1,148.1 883.6,148 884.1,147.9 884.6,148 885.1,147.8 885.6,148.1 886.1,148 886.6,147.9 887.1,148 887.6,147.9 888.1,147.9 888.6,147.8 889.1,148 889.6,148 890.1,147.9 890.6,147.7 891.1,148 891.6,147.9 892.1,148 892.6,148 893.1,148.1 893.6,147.8 894.1,147.9 894.6,148.2 895.1,148.1 895.6,147.9 896.1,148.1 896.6,148.2 897.1,147.9 897.6,148.1 898.1,147.8 898.6,148.2 899.1,147.9 899.6,147.8 900.1,148.1 900.6,148 901.1,148.1 901.6,148.1 902.1,148.1 902.6,148 903.1,148.2 903.6,147.8 904.1,148.1 904.6,148 905.1,147.8 905.6,148 906.1,147.7 906.6,147.5 906.8,147.7 907.1,147.4 907.6,147.6 908.1,147.9 908.6,147.8 909.1,148 909.6,148.1 910.1,148 910.6,147.8 911.1,148.1 911.6,148.1 912.1,148.1 912.6,148 913.1,148.1 913.6,148.1 914.1,147.8 914.6,147.9 915.1,147.8 915.6,147.8 916.1,147.9 916.6,148.1 917.1,148.1 917.6,147.8 918.1,147.8 918.6,147.9 919.1,148.1 919.6,148 920.1,148.1 920.6,147.8 921.1,148.2 921.6,147.8 922.1,148 922.6,148.1 923.1,148.1 923.6,147.8 924.1,148 924.6,147.9 925.1,147.8 925.6,147.9 926.1,147.9 926.6,148 927.1,147.9 927.6,148 928.1,148.1 928.6,147.8 929.1,147.8 929.6,148.1 930.1,148 930.6,147.8 931.1,147.8 931.6,148.2 932.1,148 932.6,147.9 933.1,147.8 933.6,148.2 934.1,148.1 934.6,148.1 935.1,147.9 935.6,147.9 936.1,147.9 936.6,147.8 937.1,148 937.6,148 938.1,148.1 938.6,147.9 939.1,148 939.6,148 940.1,148.2 940.6,147.9 941.1,148.1 941.6,147.9 942.1,148 942.6,147.9 943.1,148.2 943.6,147.9 944.1,148.1 944.6,148.1 945.1,148 945.6,148.2 946.1,147.9 946.6,148.1 947.1,148 947.6,148 948.1,147.8 948.6,148 949.1,147.9 949.6,148 950.1,148.2"/>
<polyline fill="none" stroke="#0000ff" stroke-width="2.7" stroke-linejoin="round" points="81.6,389.6 82.1,389.7 82.6,389.7 83.1,389.4 83.6,389.4 84.1,389.5 84.6,389.5 85.1,389.7 85.6,389.7 86.1,389.6 86.6,389.6 87.1,389.7 87.6,389.4 88.1,389.6 88.6,389.5 89.1,389.8 89.6,389.4 90.1,389.7 90.6,389.4 91.1,389.7 91.6,389.5 92.1,389.6 92.6,389.8 93.1,389.4 93.6,389.4 94.1,389.8 94.6,389.6 95.1,389.4 95.6,389.8 96.1,389.8 96.6,389.4 97.1,389.6 97.6,389.4 98.1,389.5 98.6,389.7 99.1,389.5 99.6,389.7 100.1,389.4 100.6,389.5 101.1,389.7 101.6,389.6 102.1,389.6 102.6,389.7 103.1,389.6 103.6,389.6 104.1,389.4 104.6,389.7 105.1,389.8 105.6,389.8 106.1,389.7 106.6,389.5 107.1,389.6 107.6,389.7 108.1,389.7 108.6,389.4 109.1,389.5 109.6,389.6 110.1,389.6 110.6,389.7 111.1,389.6 111.6,389.4 112.1,389.8 112.6,389.6 113.1,389.6 113.6,389.5 114.1,389.6 114.6,389.6 115.1,389.7 115.6,389.4 116.1,389.6 116.6,389.5 117.1,389.7 117.6,389.4 118.1,389.5 118.6,389.5 119.1,389.7 119.6,389.4 120.1,389.6 120.6,389.5 121.1,389.5 121.6,389.6 122.1,389.8 122.6,389.6 123.1,389.8 123.6,389.5 124.1,389.8 124.6,389.6 125.1,389.5 125.6,389.7 126.1,389.8 126.6,389.4 127.1,389.5 127.6,389.7 128.1,389.6 128.6,389.5 129.1,389.4 129.6,389.4 130.1,389.7 130.6,389.7 131.1,389.5 131.5,389.2 131.6,389 132.1,389.3 132.6,389.7 133.1,389.8 133.6,389.7 134.1,389.5 134.6,389.6 135.1,389.6 135.6,389.7 136.1,389.5 136.6,389.8 137.1,389.5 137.6,388 138.1,386.3 138.3,386.4 138.6,386.6 139.1,388.6 139.6,389.4 140.1,389.7 140.6,389.7 141.1,389.5 141.6,389.5 142.1,389.5 142.6,389.7 143.1,389.7 143.6,389.5 144.1,389.8 144.6,389.6 145.1,389.4 145.6,387.6 146.1,365.9 146.6,276 147.1,173.8 147.2,170 147.6,225.8 148.1,339.9 148.6,383.5 149.1,389.4 149.6,389.8 150.1,389.8 150.6,389.7 151.1,389.6 151.6,389.6 152.1,389.7 152.6,389.7 153.1,389.4 153.6,389.6 154.1,389 154.6,387.8 155,387.4 155.1,387.4 155.6,388.2 156.1,389.3 156.6,389.5 157.1,389.5 157.6,389.6 158.1,389.6 158.6,389.8 159.1,389.7 159.6,389.7 160.1,389.7 160.6,389.5 161.1,389.7 161.6,389.7 162.1,389.6 162.6,389.5 163.1,389.6 163.6,389.6 164.1,389.7 164.6,389.5 165.1,389.5 165.6,389.6 166.1,389.7 166.6,389.8 167.1,389.7 167.6,389.8 168.1,389.6 168.6,389.4 169.1,389.6 169.6,389.6 170.1,389.5 170.6,389.7 171.1,389.6 171.6,389.5 172.1,389.6 172.6,389.8 173.1,389.4 173.6,389.6 174.1,389.5 174.6,389.5 175.1,389.6 175.6,389.5 176.1,389.8 176.6,389.6 177.1,389.7 177.6,389.5 178.1,389.6 178.6,389.7 179.1,389.8 179.6,389.5 180.1,389.6 180.6,389.8 181.1,389.8 181.6,389.5 182.1,389.7 182.6,389.7 183.1,389.4 183.6,389 184,388.8 184.1,388.9 184.6,389.1 185.1,389.6 185.6,389.6 186.1,389.7 186.6,389.6 187.1,389.6 187.6,389.6 188.1,389.6 188.6,389.5 189.1,389.5 189.6,389.7 190.1,389.5 190.6,389.5 191.1,389.8 191.6,389.6 192.1,389.8 192.6,389.7 193.1,389.6 193.6,389.8 194.1,389.8 194.6,389.6 195.1,389.5 195.6,389.7 196.1,389.8 196.6,389.7 197.1,389.8 197.6,389.6 198.1,389.7 198.6,389.5 199.1,389.6 199.6,389.5 200.1,389.1 200.6,387.8 201.1,385.7 201.6,383.8 201.7,383.8 202.1,384.6 202.6,387.3 203.1,388.8 203.6,389.3 204.1,389.8 204.6,389.8 205.1,389.8 205.6,389.6 206.1,389.8 206.6,389.6 207.1,389.4 207.6,389.2 208.1,388.1 208.6,387.1 209.1,388.1 209.6,388.8 210.1,389.5 210.6,389.4 211.1,389.5 211.6,389.5 212.1,389.8 212.6,389.6 213.1,389.5 213.6,389.5 214.1,389.6 214.6,389.8 215.1,389.7 215.6,389.5 216.1,389.7 216.6,389.7 217.1,389.6 217.6,389.7 218.1,389.7 218.6,389.8 219.1,389.7 219.6,389.7 220.1,389.6 220.6,389.7 221.1,389.6 221.6,389.6 222.1,389.7 222.6,389.8 223.1,389.6 223.6,389.9 224.1,389.7 224.6,389.8 225.1,389.7 225.6,389.9 226.1,389.7 226.6,389.6 227.1,389.6 227.6,389.7 228.1,389.8 228.6,389.8 229.1,389.5 229.6,389.5 230.1,389.5 230.6,389.5 231.1,389.5 231.6,389.5 232.1,389.6 232.6,389.5 233.1,389.8 233.6,389.7 234.1,389.9 234.6,389.9 235.1,389.8 235.6,389.9 236.1,389.5 236.6,389.6 237.1,389.9 237.6,389.7 238.1,389.5 238.6,389.8 239.1,389.6 239.6,389.7 240.1,389.6 240.6,389.6 241.1,389.5 241.6,389.7 242.1,389.9 242.6,389.9 243.1,389.8 243.6,389.9 244.1,389.6 244.6,389.6 245.1,389.9 245.6,389.7 246.1,389.8 246.6,389.5 247.1,389.6 247.6,389.7 248.1,389.8 248.6,389.8 249.1,389.8 249.6,389.6 250.1,389.6 250.6,389.8 251.1,389.9 251.6,389.6 252.1,389.3 252.6,389.2 253,389 253.1,388.9 253.6,389.1 254.1,389.5 254.6,389.7 255.1,389.5 255.6,389.7 256.1,389.9 256.6,389.8 257.1,389.6 257.6,389.6 258.1,389.5 258.6,389.8 259.1,389.7 259.6,389.5 260.1,389.7 260.6,389.7 261.1,389.7 261.6,389.6 262.1,389.6 262.6,389.6 263.1,389.9 263.6,389.6 264.1,389.7 264.6,389.7 265.1,389.5 265.6,389.6 266.1,389.6 266.6,389.6 267.1,389.6 267.6,389.4 268.1,389.3 268.6,388.6 269,388.4 269.1,388.6 269.6,388.8 270.1,389.3 270.6,389.7 271.1,389.5 271.6,389.8 272.1,389.5 272.6,389.6 273.1,389.8 273.6,389.9 274.1,389.8 274.6,389.5 275.1,389.7 275.6,389.6 276.1,389.8 276.6,389.6 277.1,389.6 277.6,389.8 278.1,389.8 278.6,389.7 279.1,389.7 279.6,389.9 280.1,389.7 280.6,389.9 281.1,389.6 281.6,389.7 282.1,389.6 282.6,389.8 283.1,389.8 283.6,389.6 284.1,389.7 284.6,389.8 285.1,389.7 285.6,389.8 286.1,389.7 286.6,389.8 287.1,389.6 287.6,389.6 288.1,389.5 288.6,389.9 289.1,389.8 289.6,389.6 290.1,389.9 290.6,389.9 291.1,389.5 291.6,389.8 292.1,389.7 292.6,389.6 293.1,389.6 293.6,389.7 294.1,389.5 294.6,389.5 295.1,389.5 295.6,389.6 296.1,389.5 296.6,389.5 297.1,389.8 297.6,389.6 298.1,389.7 298.6,389.7 299.1,389.9 299.6,389.5 300.1,389.6 300.6,389.9 301.1,389.9 301.6,389.8 302.1,389.4 302.6,388.4 303.1,386.4 303.6,385 303.8,384.7 304.1,385.1 304.6,387.1 305.1,388.6 305.6,389.5 306.1,389.8 306.6,389.1 307.1,388.1 307.6,385.7 308.1,384.7 308.6,386 309.1,388.1 309.6,389.3 310.1,389.4 310.6,389.7 311.1,389.6 311.6,389.7 312.1,389.5 312.6,389.9 313.1,389.7 313.6,389.7 314.1,389.9 314.6,389.9 315.1,389.7 315.6,389.7 316.1,389.9 316.6,389.7 317.1,389.9 317.6,389.5 318.1,389.8 318.6,389.7 319.1,389.8 319.6,389.9 320.1,389.6 320.6,389.7 321.1,389.8 321.6,389.4 322.1,388.6 322.6,388.1 322.7,388.1 323.1,388.4 323.6,389.1 324.1,389.5 324.6,389.6 325.1,389.5 325.6,389.5 326.1,389.5 326.6,389.9 327.1,389.6 327.6,389.8 328.1,389.6 328.6,389.9 329.1,389.7 329.6,389.6 330.1,389.9 330.6,389.9 331.1,389.9 331.6,389.6 332.1,389.7 332.6,389.8 333.1,389.6 333.6,389.7 334.1,389.8 334.6,389.7 335.1,389.5 335.6,389 336,388.6 336.1,388.8 336.6,389 337.1,389.3 337.6,389.5 338.1,389.8 338.6,389.7 339.1,389.5 339.6,389.7 340.1,389.6 340.6,388.9 341.1,387.3 341.6,385.1 341.9,384.6 342.1,385 342.6,387 343.1,388.7 343.6,389.7 344.1,389.6 344.6,389.9 345.1,389.5 345.6,389.6 346.1,389.9 346.6,389.8 347.1,389.8 347.6,389.6 348.1,389.6 348.6,389.9 349.1,389.5 349.6,389.6 350.1,389.7 350.6,389.9 351.1,389.8 351.6,389.9 352.1,389.8 352.6,389.7 353.1,389.9 353.6,389.6 354.1,389.5 354.6,389.9 355.1,389.9 355.6,389.8 356.1,389.7 356.6,389.6 357.1,389.6 357.6,389.5 358.1,389.5 358.6,389.7 359.1,389.9 359.6,389.9 360.1,389.7 360.6,389.8 361.1,389.7 361.6,389.9 362.1,389.8 362.6,389.9 363.1,389.9 363.6,389.8 364.1,389.8 364.6,389.6 365.1,389.7 365.6,389.7 366.1,389.6 366.6,389.6 367.1,389.7 367.6,389.6 368.1,389.8 368.6,389.7 369.1,389.9 369.6,389.8 370.1,389.7 370.6,389.7 371.1,389.7 371.6,389.6 372.1,389.9 372.6,389.9 373.1,389.8 373.6,389.8 374.1,389.6 374.6,389.8 375.1,389.6 375.6,389.7 376.1,389.8 376.6,389.6 377.1,389.6 377.6,389.8 378.1,389.7 378.6,389.9 379.1,389.6 379.6,389.6 380.1,389.9 380.6,389.8 381.1,389.8 381.6,389.8 382.1,389.6 382.6,389.9 383.1,389.7 383.6,389.9 384.1,389.6 384.6,389.6 385.1,389.8 385.6,389.6 386.1,389.9 386.6,389.6 387.1,389.6 387.6,389.6 388.1,389.6 388.6,389.9 389.1,389.9 389.6,389.8 390.1,389.7 390.6,389.3 391.1,388.9 391.6,387.1 392.1,386.4 392.6,387.3 393.1,388.9 393.6,389.4 394.1,389.5 394.6,389.9 395.1,389.5 395.6,389.8 396.1,389.6 396.6,389.7 397.1,389.6 397.6,389.7 398.1,389.9 398.6,389.9 399.1,389.8 399.6,389.6 400.1,389.6 400.6,389.7 401.1,389.9 401.6,389.9 402.1,389.5 402.6,389.7 403.1,390 403.6,389.6 404.1,389.6 404.6,389.6 405.1,389.9 405.6,389.6 406.1,389.8 406.6,389.6 407.1,389.8 407.6,389.6 408.1,389.8 408.6,389.9 409.1,389.9 409.6,389.7 410.1,390 410.6,389.7 411.1,389.9 411.6,389.9 412.1,390 412.6,389.6 413.1,389.7 413.6,389.8 414.1,389.9 414.6,389.6 415.1,389.9 415.6,389.7 416.1,389.5 416.6,389.6 417.1,389.5 417.6,389.6 418.1,389.9 418.6,389.8 419.1,389.9 419.6,389.9 420.1,389.7 420.6,389.8 421.1,389.8 421.6,389.8 422.1,389.6 422.6,389.9 423.1,389.6 423.6,389.7 424.1,389.8 424.6,389.9 425.1,389.9 425.6,389.7 426.1,389.7 426.6,389.9 427.1,389.6 427.6,389.9 428.1,389.7 428.6,389.7 429.1,389.7 429.6,389.9 430.1,389.6 430.6,389.6 431.1,389.6 431.6,389.6 432.1,389.8 432.6,390 433.1,389.5 433.6,389.7 434.1,389.7 434.6,389.7 435.1,389.7 435.6,389.6 436.1,389.7 436.6,389.7 437.1,389.6 437.6,389.6 438.1,390 438.6,389.9 439.1,390 439.6,389.9 440.1,389.9 440.6,389.6 441.1,389.6 441.6,390 442.1,389.8 442.6,389.9 443.1,389.6 443.6,389.9 444.1,389.8 444.6,389.6 445.1,389.6 445.6,390 446.1,389.8 446.6,389.6 447.1,389.6 447.6,389.9 448.1,389.7 448.6,389.8 449.1,389.6 449.6,389.6 450.1,389.8 450.6,389.7 451.1,389.6 451.6,389.6 452.1,389.7 452.6,389.6 453.1,389.6 453.6,389.7 454.1,389.4 454.6,389.6 455.1,389.4 455.5,389.3 455.6,389.4 456.1,389.2 456.6,389.5 457.1,389.6 457.6,389.6 458.1,389.9 458.6,389.6 459.1,390 459.6,389.9 460.1,390 460.6,389.6 461.1,389.9 461.6,389.7 462.1,389.5 462.6,389.2 462.7,389.3 463.1,389.3 463.6,389.6 464.1,389.7 464.6,389.8 465.1,389.7 465.6,389.8 466.1,389.8 466.6,390 467.1,389.9 467.6,389.7 468.1,389.9 468.6,389.7 469.1,389.8 469.6,389.8 470.1,389.9 470.6,389.6 471.1,389.6 471.6,389.6 472.1,389.8 472.6,389.6 473.1,389.8 473.6,389.9 474.1,389.7 474.6,389.7 475.1,389.8 475.6,389.7 476.1,389.8 476.6,389.6 477.1,389.9 477.6,389.7 478.1,389.7 478.6,388.4 479.1,386.5 479.6,384.7 479.8,384.5 480.1,384.6 480.6,387 481.1,388.6 481.6,389.8 482.1,389.9 482.6,389.7 483.1,389.9 483.6,389.8 484.1,389.8 484.6,389.8 485.1,389.8 485.6,389.9 486.1,389.9 486.6,389.6 487.1,389.8 487.6,389.9 488.1,389.9 488.6,389.7 489.1,389.4 489.6,388.4 490.1,387.7 490.3,387.9 490.6,387.7 491.1,389 491.6,389.3 492.1,389.7 492.6,389.8 493.1,389.6 493.6,389.8 494.1,389.9 494.6,389.7 495.1,389.6 495.6,389.6 496.1,390 496.6,389.6 497.1,389.9 497.6,389.9 498.1,389.7 498.6,389.8 499.1,389.9 499.6,389.7 500.1,389.7 500.6,390 501.1,389.7 501.6,389.8 502.1,389.8 502.6,389.9 503.1,390 503.6,389.9 504.1,389.8 504.6,389.8 505.1,389.6 505.6,389.8 506.1,389.8 506.6,389.9 507.1,389.7 507.6,389.6 508.1,389.7 508.6,389.9 509.1,389.8 509.6,389.9 510.1,389.6 510.6,389.7 511.1,389.7 511.6,389.8 512.1,389.6 512.6,390 513.1,389.7 513.6,389.6 514.1,389.7 514.6,389.8 515.1,389.9 515.6,389.9 516.1,389.6 516.6,390 517.1,390 517.6,389.8 518.1,389.9 518.6,389.7 519.1,389.6 519.6,389.6 520.1,390 520.6,390 521.1,389.8 521.6,389.8 522.1,389.8 522.6,389.9 523.1,389.6 523.6,389.9 524.1,389.7 524.6,389.8 525.1,389.8 525.6,389.7 526.1,389.4 526.6,389.1 526.7,389.3 527.1,389.2 527.6,389.5 528.1,389.8 528.6,390 529.1,389.6 529.6,389.8 530.1,389.7 530.6,390 531.1,389.8 531.6,390 532.1,389.9 532.6,389.8 533.1,389.9 533.6,389.9 534.1,389.6 534.6,389.7 535.1,389.6 535.6,390 536.1,389.8 536.6,389.7 537.1,389.9 537.6,390 538.1,389.7 538.6,389.9 539.1,389.7 539.6,389.9 540.1,389.9 540.6,389.9 541.1,389.8 541.6,389.6 542.1,390 542.6,389.6 543.1,389.8 543.6,390 544.1,389.7 544.6,389.8 545.1,389.9 545.6,389.9 546.1,389.7 546.6,389.7 547.1,389.7 547.6,389.4 548,389.1 548.1,389.3 548.6,389.5 549.1,389.7 549.6,389.9 550.1,389.7 550.6,389.7 551.1,390 551.6,389.7 552.1,389.7 552.6,389.7 553.1,390 553.6,390 554.1,389.7 554.6,389.9 555.1,389.6 555.6,389.7 556.1,389.3 556.6,389.5 557.1,389.7 557.6,389.7 558.1,389.8 558.6,389.6 559.1,389.8 559.6,389.9 560.1,389.8 560.6,389.9 561.1,389.9 561.6,390 562.1,389.9 562.6,389.7 563.1,390 563.6,390 564.1,389.8 564.6,389.9 565.1,389.8 565.6,389.9 566.1,389.7 566.6,389.8 567.1,389.7 567.6,390 568.1,389.9 568.6,389.9 569.1,389.8 569.6,389.8 570.1,389.7 570.6,389.9 571.1,389.8 571.6,389.8 572.1,389.8 572.6,389.7 573.1,389.9 573.6,390 574.1,389.8 574.6,389.7 575.1,390 575.6,389.9 576.1,389.7 576.6,389.6 577.1,389.9 577.6,389.7 578.1,390 578.4,389.9 578.6,389.7 579.1,389.8 579.6,389.6 580.1,389.7 580.6,389.9 581.1,390 581.6,389.8 582.1,390 582.6,389.7 583.1,389.7 583.6,390 584.1,389.8 584.6,389.7 585.1,389.8 585.6,389.9 586.1,389.7 586.6,389.7 587.1,389.9 587.6,389.9 588.1,389.9 588.6,389.7 589.1,390 589.6,389.8 590.1,389.9 590.6,390 591.1,389.7 591.6,389.8 592.1,389.8 592.6,389.9 593.1,389.7 593.6,389.7 594.1,389.7 594.6,389.9 595.1,389.7 595.6,390 596.1,390 596.6,389.9 597.1,389.8 597.6,390 598.1,389.9 598.6,390 599.1,390 599.6,389.7 600.1,390 600.6,390 601.1,389.8 601.6,389.8 602.1,389.6 602.6,390 603.1,389.7 603.6,389.6 604.1,389.7 604.6,389.8 605.1,389.9 605.6,390 606.1,389.9 606.6,389.7 607.1,390 607.6,390 608.1,390 608.6,390 609.1,390 609.6,389.9 610.1,390 610.6,389.6 611.1,390.1 611.6,389.6 612.1,389.8 612.6,389.9 613.1,389.8 613.6,389.8 614.1,389.8 614.6,389.8 615.1,389.9 615.6,389.6 616.1,389.8 616.6,389.9 617.1,389.8 617.6,389.6 618.1,389.8 618.6,390 619.1,389.9 619.6,389.9 620.1,389.8 620.6,390.1 621.1,389.9 621.6,390 622.1,389.9 622.6,390 623.1,389.8 623.6,390 624.1,390.1 624.6,390 625.1,390 625.6,389.8 626.1,389.8 626.6,390 627.1,390 627.6,389.9 628.1,389.9 628.6,389.6 629.1,389.9 629.6,389.7 630.1,389.9 630.6,389.7 631.1,389.9 631.6,389.7 632.1,389.8 632.6,390 633.1,389.9 633.6,389.7 634.1,390.1 634.6,389.6 635.1,389.8 635.6,389.9 636.1,389.9 636.6,389.9 637.1,390 637.6,389.7 638.1,389.9 638.6,389.7 639.1,389.9 639.6,389.8 640.1,389.9 640.6,390 641.1,389.9 641.6,389.8 642.1,389.9 642.6,389.7 643.1,390 643.6,389.8 644.1,389.9 644.6,390 645.1,390 645.6,390.1 646.1,390 646.6,389.9 647.1,389.8 647.6,390 648.1,389.9 648.6,389.6 649.1,389.9 649.6,389.9 650.1,389.8 650.6,390 651.1,390 651.6,390 652.1,389.8 652.6,389.9 653.1,389.9 653.6,389.8 654.1,389.8 654.6,389.7 655.1,390 655.6,389.8 656.1,389.8 656.6,389.8 657.1,389.9 657.6,389.9 658.1,390 658.6,389.7 659.1,389.8 659.6,390 660.1,390 660.6,389.7 661.1,389.8 661.6,390.1 662.1,390.1 662.6,389.8 663.1,390 663.6,389.8 664.1,389.7 664.6,390 665.1,389.7 665.6,390.1 666.1,389.8 666.6,390 667.1,389.9 667.6,390 668.1,390 668.6,389.7 669.1,389.7 669.6,389.7 670.1,389.9 670.6,389.7 671.1,389.7 671.6,389.8 672.1,389.7 672.6,389.8 673.1,389.9 673.6,389.8 674.1,390 674.6,389.8 675.1,389.8 675.6,389.8 676.1,390 676.6,389.7 677.1,390 677.6,389.7 678.1,390.1 678.6,389.9 679.1,390 679.6,389.9 680.1,389.9 680.6,390 681.1,389.7 681.6,389.7 682.1,390.1 682.6,389.8 683.1,389.8 683.6,389.7 684.1,390 684.6,390 685.1,389.7 685.6,390 686.1,389.7 686.6,389.9 687.1,389.9 687.6,389.8 688.1,389.8 688.6,389.9 689.1,390 689.6,389.8 690.1,389.8 690.6,390.1 691.1,389.8 691.6,389.7 692.1,390.1 692.6,390.1 693.1,389.8 693.6,389.9 694.1,390 694.6,389.8 695.1,389.8 695.6,389.7 696.1,389.7 696.6,389.9 697.1,389.9 697.6,390 698.1,389.9 698.6,389.8 699.1,389.8 699.6,389.7 700.1,389.9 700.6,390 701.1,389.7 701.6,389.9 702.1,390.1 702.6,390 703.1,389.8 703.6,389.9 704.1,389.7 704.6,389.6 705.1,389.9 705.6,389.8 705.8,389.8 706.1,389.7 706.6,389.7 707.1,390 707.6,389.9 708.1,390 708.6,390 709.1,389.8 709.6,390 710.1,389.8 710.6,389.9 711.1,390 711.6,390.1 712.1,389.9 712.6,389.8 713.1,389.7 713.6,390 714.1,389.8 714.6,389.7 715.1,389.9 715.6,389.9 716.1,390 716.6,389.8 717.1,389.9 717.6,390.1 718.1,389.7 718.6,389.8 719.1,389.8 719.6,389.7 720.1,389.7 720.6,389.8 721.1,389.9 721.6,389.7 722.1,390 722.6,389.8 723.1,389.8 723.6,390 724.1,390 724.6,389.9 725.1,389.8 725.6,389.9 726.1,390 726.6,390 727.1,390 727.6,389.7 728.1,389.7 728.6,390.1 729.1,389.8 729.6,389.7 730,389.5 730.1,389.8 730.6,389.9 731.1,389.7 731.6,389.8 732.1,389.7 732.6,389.8 733.1,389.9 733.6,389.9 734.1,389.7 734.6,389.7 735.1,389.8 735.6,390 736.1,390.1 736.6,390.1 737.1,389.9 737.6,389.8 738.1,390.1 738.6,390 739.1,390 739.6,390 740.1,390.1 740.6,389.9 741.1,389.8 741.6,390 742.1,390.1 742.6,389.8 743.1,389.9 743.6,390 744.1,390 744.6,389.7 745.1,390 745.6,389.8 746.1,389.7 746.6,389.7 747.1,389.9 747.6,389.9 748.1,389.8 748.6,390 749.1,389.8 749.6,390.1 750.1,390.1 750.6,389.8 751.1,389.7 751.6,389.7 752.1,389.9 752.6,389.8 753.1,390 753.6,389.9 754.1,389.8 754.6,389.8 755.1,390.1 755.6,390 756.1,390 756.6,389.8 757.1,389.9 757.6,390 758.1,390 758.6,389.8 759.1,389.8 759.6,390 760.1,389.7 760.6,390 761.1,390 761.6,389.9 762.1,389.9 762.6,390.1 763.1,389.8 763.6,390 764.1,389.6 764.6,388.6 765.1,386.6 765.5,386.3 765.6,386.2 766.1,387.3 766.6,389.2 767.1,389.6 767.6,389.9 768.1,389.8 768.6,389.7 769.1,389.8 769.6,390 770.1,390 770.6,390 771.1,389.8 771.6,389.8 772.1,390.1 772.6,389.9 773.1,390 773.6,389.9 774.1,389.9 774.6,389.7 775.1,390.1 775.6,390.1 776.1,390 776.6,389.8 777.1,390 777.6,390 778.1,389.8 778.6,389.9 779.1,390.1 779.6,389.8 780.1,390 780.6,389.7 781.1,389.7 781.6,389.7 782.1,389.8 782.6,390.1 783.1,390 783.6,389.9 784.1,389.8 784.6,389.9 785.1,389.8 785.6,389.7 786.1,389.8 786.6,389.8 787.1,390 787.6,389.9 788.1,390 788.4,389.8 788.6,389.9 789.1,389.7 789.6,389.8 790.1,390.1 790.6,390 791.1,389.9 791.6,390 792.1,390.1 792.6,390.1 793.1,389.9 793.6,389.8 794.1,389.7 794.6,389.7 795.1,390.1 795.6,390.1 796.1,390 796.6,390 797.1,389.8 797.6,390 798.1,389.7 798.6,389.7 799.1,390 799.6,389.7 800.1,389.9 800.6,389.9 801.1,390.1 801.6,389.9 802.1,389.8 802.6,390 803.1,389.8 803.6,390.1 804.1,390.1 804.6,390.1 805.1,390 805.6,389.8 806.1,389.8 806.6,390 807.1,389.9 807.6,390 808.1,389.8 808.6,390 809.1,390.1 809.6,389.8 810.1,390.1 810.6,389.8 811.1,390 811.6,389.7 812.1,389.8 812.6,389.7 813.1,389.8 813.6,389.9 814.1,390.1 814.6,390.1 815.1,390.1 815.6,389.8 816.1,390.1 816.6,389.9 817.1,390 817.6,390 818.1,389.8 818.6,389.8 819.1,389.9 819.6,389.9 820.1,390 820.6,390.1 821.1,390 821.6,389.7 822.1,390.1 822.6,390.1 823.1,390.2 823.6,389.8 824.1,390.1 824.6,389.9 825.1,390 825.6,389.8 826.1,389.8 826.6,389.9 827.1,390 827.6,389.8 828.1,390 828.6,389.9 829.1,389.8 829.6,390 830.1,389.9 830.6,389.7 831.1,389.8 831.6,389.9 832.1,390 832.6,389.8 833.1,390.1 833.6,389.8 834.1,390.1 834.6,389.7 835.1,389.9 835.6,389.9 836.1,390 836.6,389.8 837.1,389.8 837.6,390.1 838.1,390.1 838.6,389.8 839.1,389.8 839.6,389.9 840.1,389.9 840.6,390 841.1,390.1 841.6,390 842.1,389.9 842.6,389.8 843.1,389.8 843.6,389.8 844.1,390.1 844.6,390.1 845.1,389.9 845.6,389.8 846.1,390.1 846.6,389.8 847.1,389.9 847.6,390.1 848.1,389.7 848.6,389.9 849.1,389.8 849.6,389.9 850.1,390.1 850.6,390.2 851.1,390.1 851.6,390.1 852.1,389.9 852.6,390.1 853.1,390.1 853.6,390.1 854.1,389.9 854.6,390.1 855.1,389.8 855.6,390 856.1,390.2 856.6,390.1 857.1,390.1 857.6,389.8 858.1,389.9 858.6,390 859.1,390.1 859.6,389.8 860.1,390 860.6,390.1 861.1,390 861.6,389.9 862.1,389.8 862.6,389.9 863.1,389.8 863.6,390 864.1,390 864.6,389.8 865.1,390.2 865.6,390.1 866.1,389.8 866.6,389.9 867.1,390.2 867.6,389.8 868.1,389.8 868.6,389.9 869.1,390.1 869.6,389.8 870.1,390 870.6,390.1 871.1,390 871.6,389.9 872.1,390 872.6,390.1 873.1,390 873.6,389.9 874.1,390 874.6,390.1 875.1,389.8 875.6,390 876.1,389.9 876.6,389.8 877.1,389.9 877.6,389.8 878.1,390.1 878.6,390 879.1,389.9 879.6,390.1 880.1,390.1 880.6,389.9 881.1,389.8 881.6,390 882.1,389.8 882.6,390 883.1,389.8 883.6,390.1 884.1,390.1 884.6,389.8 885.1,390.1 885.6,389.8 886.1,389.8 886.6,390 887.1,389.9 887.6,389.9 888.1,389.9 888.6,390.1 889.1,390.1 889.6,390.1 890.1,389.9 890.6,389.9 891.1,390.1 891.6,389.9 892.1,389.8 892.6,390 893.1,389.9 893.6,390 894.1,389.9 894.6,389.8 895.1,390.1 895.6,390.1 896.1,389.8 896.6,389.8 897.1,390 897.6,389.8 898.1,390.2 898.6,389.9 899.1,389.8 899.6,389.8 900.1,389.9 900.6,389.9 901.1,390 901.6,390.1 902.1,389.9 902.6,390 903.1,390.2 903.6,390 904,389.9 904.1,390.1 904.6,390.1 905.1,389.9 905.6,390.1 906.1,389.9 906.6,389.8 907.1,389.9 907.6,389.9 908.1,390.1 908.6,389.9 909.1,389.8 909.6,389.8 910.1,390.1 910.6,390 911.1,390.2 911.6,389.9 912.1,389.8 912.6,389.8 913.1,390.1 913.6,390 914.1,390.1 914.6,390.2 915.1,390 915.6,389.8 916.1,390.1 916.6,390.2 917.1,390 917.6,390 918.1,390.1 918.6,389.9 919.1,389.8 919.6,390.2 920.1,390 920.6,389.9 921.1,390.2 921.6,390.2 922.1,390 922.6,390.1 923.1,390.2 923.6,390 924.1,390 924.6,390.2 925.1,389.8 925.6,390.1 926.1,389.9 926.6,389.9 927.1,390.1 927.6,389.8 928.1,390.2 928.6,390.1 929.1,390.2 929.6,390.1 930.1,390 930.6,389.9 931.1,389.8 931.6,390.2 932.1,390.1 932.6,389.9 933.1,389.9 933.6,390.2 934.1,389.9 934.6,389.8 935.1,389.9 935.6,390.1 936.1,390.1 936.6,389.9 937.1,390.1 937.6,390 938.1,390.1 938.6,389.8 939.1,390.1 939.6,389.8 940.1,389.8 940.6,390 941.1,390.2 941.6,390.1 942.1,390.2 942.6,390.2 943.1,390.1 943.6,390.2 944.1,390.2 944.6,390.1 945.1,389.8 945.6,389.9 946.1,390 946.6,390 947.1,390 947.6,390.2 948.1,390.1 948.6,390.2 949.1,390.2 949.6,389.8 950.1,389.9"/>
<polyline fill="none" stroke="#ff0000" stroke-width="2.7" stroke-linejoin="round" points="81.6,452.7 82.1,452.9 82.6,452.9 83.1,453 83.6,452.7 84.1,452.7 84.6,452.6 85.1,452.7 85.6,452.9 86.1,452.6 86.6,452.8 87.1,452.7 87.6,452.7 88.1,452.8 88.6,453 89.1,452.9 89.6,452.6 90.1,452.7 90.6,452.7 91.1,453 91.6,452.9 92.1,452.9 92.6,453 93.1,452.9 93.6,453 94.1,452.9 94.6,452.7 95.1,453 95.6,452.8 96.1,452.9 96.6,452.8 97.1,452.8 97.6,452.8 98.1,452.8 98.6,452.7 99.1,452.7 99.6,453 100.1,453 100.6,453 101.1,452.9 101.6,452.8 102.1,452.9 102.6,452.7 103.1,452.9 103.6,452.8 104.1,452.7 104.6,452.7 105.1,452.8 105.6,452.7 106.1,452.8 106.6,452.9 107.1,452.8 107.6,452.7 108.1,452.8 108.6,452.7 109.1,452.7 109.6,452.7 110.1,452.8 110.6,452.6 111.1,452.9 111.6,453 112.1,452.8 112.6,452.9 113.1,453 113.6,452.6 114.1,452.7 114.6,453 115.1,453 115.6,452.9 116.1,452.7 116.6,452.8 117.1,453 117.6,453 118.1,453 118.6,452.7 119.1,453 119.6,452.8 120.1,452.9 120.6,452.7 121.1,453.1 121.6,452.9 122.1,452.9 122.6,452.7 123.1,452.9 123.6,452.9 124.1,452.9 124.6,452.8 125.1,453 125.6,452.8 126.1,452.8 126.6,452.7 127.1,452.9 127.6,452.7 128.1,452.7 128.6,452.7 129.1,452.9 129.6,452.9 130.1,452.7 130.6,452.2 131.1,451.7 131.6,451.1 131.7,451 132.1,451.2 132.6,452.3 133.1,452.5 133.6,452.7 134.1,452.8 134.6,452.9 135.1,452.5 135.6,452.1 136.1,450 136.6,445.7 137.1,439.4 137.6,435.8 137.7,435.8 138.1,437.8 138.6,443.2 139.1,448.5 139.6,451.6 140.1,452.5 140.6,452.6 141.1,452.9 141.6,453.1 142.1,453 142.6,452.8 143.1,452.9 143.6,452.9 144.1,451.9 144.6,449.3 145.1,442.9 145.6,433.5 146.1,426.4 146.3,425.6 146.6,427.3 147.1,435.3 147.6,444.5 148.1,449.9 148.6,452.3 149.1,452.8 149.6,452.7 150.1,453 150.6,452.7 151.1,452.5 151.6,451.5 152.1,449.5 152.6,447.2 153.1,446.2 153.6,447.1 154.1,449.7 154.6,451.3 155.1,452.6 155.6,452.7 156.1,452.8 156.6,452.8 157.1,452.7 157.6,452.7 158.1,452.8 158.6,452.9 159.1,453.1 159.6,453.1 160.1,452.7 160.6,452.9 161.1,452.7 161.6,453 162.1,452.8 162.6,453.1 163.1,452.9 163.6,452.7 164.1,452.7 164.6,452.8 165.1,453.1 165.6,452.8 166.1,452.9 166.6,452.9 167.1,452.8 167.6,453 168.1,452.8 168.6,453 169.1,453 169.6,453.1 170.1,452.9 170.6,453.1 171.1,452.9 171.6,452.9 172.1,453 172.6,453.1 173.1,453.1 173.6,452.7 174.1,452.8 174.6,452.9 175.1,453.1 175.6,452.9 176.1,452.8 176.6,453.1 177.1,452.8 177.6,452.7 178.1,452.7 178.6,452.7 179.1,453 179.6,452.8 180.1,453 180.6,453.1 181.1,453.1 181.6,453.1 182.1,452.9 182.6,452.9 183.1,452.7 183.6,452.1 184.1,451.3 184.5,451.3 184.6,451 185.1,451.6 185.6,452.5 186.1,452.7 186.6,452.8 187.1,453.1 187.6,452.9 188.1,452.7 188.6,452.7 189.1,452.8 189.6,452.9 190.1,453.1 190.6,452.8 191.1,453.1 191.6,453.1 192.1,452.9 192.6,453.2 193.1,453.1 193.6,452.9 194.1,452.8 194.6,452.9 195.1,453.1 195.6,453 196.1,452.8 196.6,452.9 197.1,452.9 197.6,452.8 198.1,452.9 198.6,452.2 199.1,450.7 199.6,444.7 200.1,433.2 200.6,420 201.1,413.5 201.6,420.1 202.1,433.4 202.6,444.8 203.1,450.7 203.6,452.3 204.1,453 204.6,453 205.1,452.8 205.6,452.7 206.1,450.8 206.6,447.3 207.1,440.7 207.6,435.3 207.9,433.8 208.1,434.3 208.6,439.5 209.1,446.2 209.6,450.3 210.1,452.3 210.6,452.9 211.1,452.8 211.6,453 212.1,452.7 212.6,452.9 213.1,453.1 213.6,452.9 214.1,452.8 214.6,452.8 215.1,453.1 215.6,452.9 216.1,453.2 216.6,453.1 217.1,452.8 217.6,453.2 218.1,453.2 218.6,453.1 219.1,453.1 219.6,453.1 220.1,453.1 220.6,453 221.1,453 221.6,452.9 222.1,452.8 222.6,453.1 223.1,453 223.6,452.8 224.1,453 224.6,453 225.1,453 225.6,453.1 226.1,453.1 226.6,452.9 227.1,453.1 227.6,453 228.1,453 228.6,452.9 229.1,453.2 229.6,453 230.1,453.2 230.6,452.9 231.1,453.1 231.6,453.2 232.1,453.1 232.6,452.9 233.1,452.8 233.6,453 234.1,453 234.6,453.1 235.1,453.1 235.6,453.2 236.1,453 236.6,453 237.1,453 237.6,453.1 238.1,452.8 238.6,452.9 239.1,452.8 239.6,452.9 240.1,452.9 240.6,453.2 241.1,452.9 241.6,453.2 242.1,452.9 242.6,452.9 243.1,453.2 243.6,452.8 244.1,452.8 244.6,452.8 245.1,452.8 245.6,453 246.1,452.9 246.6,452.9 247.1,452.8 247.6,453.1 248.1,452.8 248.6,452.9 249.1,453 249.6,453.2 250.1,453.1 250.6,453.1 251.1,453.1 251.6,453 252.1,452.6 252.6,451.1 253.1,449.2 253.6,447.8 253.9,447.4 254.1,447.6 254.6,449.2 255.1,450.8 255.6,452.4 256.1,452.8 256.6,453 257.1,452.9 257.6,452.9 258.1,453.1 258.6,453 259.1,453.2 259.6,452.9 260.1,453.1 260.6,452.8 261.1,453.1 261.6,452.9 262.1,453.2 262.6,453.2 263.1,452.9 263.6,453.2 264.1,452.9 264.6,452.9 265.1,452.9 265.6,453 266.1,452.8 266.6,453 267.1,452.6 267.6,451.3 268.1,448.8 268.6,445.1 269.1,443 269.2,442.9 269.6,443.8 270.1,447.5 270.6,450.3 271.1,452.1 271.6,453 272.1,453.2 272.6,453 273.1,453 273.6,452.9 274.1,452.8 274.6,453.1 275.1,452.9 275.6,452.9 276.1,453.2 276.6,452.8 277.1,453 277.6,453.2 278.1,453.2 278.6,452.9 279.1,453.2 279.6,453.1 280.1,453.1 280.6,453.2 281.1,453.2 281.6,453.1 282.1,453.2 282.6,453.1 283.1,453.1 283.6,453.2 284.1,453.1 284.6,453 285.1,452.8 285.6,453.2 286.1,453 286.6,453 287.1,453 287.6,453.1 288.1,453 288.6,453.2 289.1,453.1 289.6,453.1 290.1,453.2 290.6,453 291.1,453.1 291.6,453.2 292.1,453.2 292.6,453.2 293.1,453.2 293.6,453.1 294.1,452.9 294.6,452.3 295.1,451.4 295.6,450.3 296.1,449.5 296.2,449.7 296.6,449.7 297.1,451 297.6,452.3 298.1,452.8 298.6,453.2 299.1,452.9 299.6,453.2 300.1,453 300.6,453 301.1,452.3 301.6,450.8 302.1,448 302.6,445.9 302.7,445.7 303.1,446.7 303.6,449.5 304.1,452.1 304.6,452.8 305.1,453 305.6,452.5 306.1,450.5 306.6,446.2 307.1,439.2 307.6,434.5 307.8,433.6 308.1,435.2 308.6,440.8 309.1,447.2 309.6,451.3 310.1,452.6 310.6,453 311.1,452.9 311.6,453.2 312.1,453.2 312.6,453 313.1,452.9 313.6,453.1 314.1,453.3 314.6,453.3 315.1,453.1 315.6,452.9 316.1,453.2 316.6,453 317.1,453.2 317.6,453.1 318.1,453.3 318.6,452.9 319.1,452.8 319.6,451.4 320.1,447.5 320.6,441.9 321.1,436.5 321.4,435.6 321.6,436.2 322.1,440.7 322.6,446.7 323.1,450.8 323.6,452.4 324.1,453 324.6,452.9 325.1,453.2 325.6,452.9 326.1,453.1 326.6,453 327.1,453.1 327.6,452.9 328.1,452.9 328.6,453 329.1,452.6 329.6,451.8 330.1,450.6 330.5,450.4 330.6,450.1 331.1,451 331.6,452.1 332.1,452.6 332.6,452.9 333.1,452.9 333.6,452.7 334.1,451.5 334.6,448 335.1,442.6 335.6,438.8 335.7,439 336.1,440.7 336.6,445.7 337.1,450.3 337.6,452.3 338.1,452.9 338.6,452.9 339.1,452.2 339.6,449.4 340.1,444.7 340.6,439.8 340.9,439 341.1,439.5 341.6,443.5 342.1,448.9 342.6,451.8 343.1,452.7 343.6,453 344.1,453.1 344.6,453.3 345.1,453.2 345.6,452.9 346.1,453.3 346.6,453.2 347.1,453.1 347.6,453 348.1,453.1 348.6,453.2 349.1,453 349.6,453 350.1,453.3 350.6,453.1 351.1,453 351.6,453.3 352.1,453 352.6,453.1 353.1,453.2 353.6,453.2 354.1,453.3 354.6,453 355.1,453.2 355.6,453.3 356.1,453.1 356.6,453.2 357.1,453.1 357.6,453.2 358.1,453.4 358.6,453.1 359.1,453.3 359.6,453.1 360.1,453.3 360.6,453.3 361.1,453.3 361.6,453.3 362.1,453 362.6,452.9 363.1,451.9 363.6,451.4 364,451 364.1,451.3 364.6,451.7 365.1,452.2 365.6,453 366.1,453 366.6,453 367.1,453 367.6,453.2 368.1,453.1 368.6,453 369.1,453.1 369.6,453.4 370.1,453.2 370.6,453.2 371.1,453.1 371.6,453 372.1,453.2 372.6,453 373.1,453 373.6,453.2 374.1,453.2 374.6,453 375.1,453.4 375.6,453 376.1,453 376.6,453.1 377.1,453.3 377.6,453.3 378.1,453.3 378.6,453.1 379.1,453.4 379.6,453 380.1,453.4 380.6,453 381.1,452.9 381.6,453 382.1,452.7 382.6,452.4 383,452.1 383.1,452.4 383.6,452.4 384.1,452.6 384.6,452.8 385.1,453.4 385.6,453 386.1,453.1 386.6,453.1 387.1,453.4 387.6,453.3 388.1,453.3 388.6,453.2 389.1,452.9 389.6,453 390.1,452.1 390.6,451.5 391.1,450.6 391.4,450 391.6,450.4 392.1,451 392.6,451.9 393.1,453 393.6,453.1 394.1,453.1 394.6,453.2 395.1,453 395.6,453.2 396.1,453.3 396.6,453.4 397.1,453 397.6,453.4 398.1,453 398.6,453.1 399.1,453.1 399.6,453.1 400.1,453 400.6,453.3 401.1,453.2 401.6,453.1 402.1,453.2 402.6,453 403.1,453.3 403.6,453.4 404.1,453.2 404.6,453.2 405.1,453.2 405.6,453.2 406.1,453.2 406.6,453.1 407.1,453.1 407.6,453.3 408.1,453.2 408.6,453 409.1,453.1 409.6,453.4 410.1,453.2 410.6,453.4 411.1,453.3 411.6,453.3 412.1,453.2 412.6,453.3 413.1,453.2 413.6,453.2 414.1,453.4 414.6,453 415.1,453.1 415.6,453.4 416.1,453.4 416.6,453.4 417.1,453.4 417.6,453.1 418.1,453.3 418.6,453.1 419.1,453.4 419.6,453.2 420.1,453.2 420.6,453.2 421.1,453.1 421.6,453.3 422.1,453.4 422.6,453.1 423.1,452.9 423.6,452.6 424.1,452.2 424.5,452.1 424.6,452.4 425.1,452.6 425.6,452.7 426.1,453 426.6,453.1 427.1,453.4 427.6,453.1 428.1,453.1 428.6,453.2 429.1,453.1 429.6,453.1 430.1,453.1 430.6,453.3 431.1,453.4 431.6,453.1 432.1,453.2 432.6,453.3 433.1,453 433.6,453 434.1,453.1 434.6,452.7 435.1,452.1 435.6,451.7 435.9,451.5 436.1,451.6 436.6,452 437.1,452.5 437.6,452.8 438.1,453.3 438.6,453 439.1,453.2 439.6,453.1 440.1,453.1 440.6,453.4 441.1,453.5 441.6,453.5 442.1,453.2 442.6,453.3 443.1,453.2 443.6,453.1 444.1,453.2 444.6,453.3 445.1,453.2 445.6,453.4 446.1,453.2 446.6,453.2 447.1,453.4 447.6,453.3 448.1,453.2 448.6,453.4 449.1,453.3 449.6,453.3 450.1,453.3 450.6,453.4 451.1,453.4 451.6,453.1 452.1,452.9 452.6,452.5 453.1,451.8 453.6,451.3 453.7,451.4 454.1,451.4 454.6,452.1 455.1,452.7 455.6,453 456.1,453.1 456.6,453.5 457.1,453.3 457.6,453.1 458.1,453.1 458.6,453.2 459.1,453.4 459.6,453.4 460.1,453.4 460.6,453.2 461.1,453.1 461.6,453 462.1,452.1 462.6,451.4 463.1,450.6 463.3,450.7 463.6,450.8 464.1,451.7 464.6,452.6 465.1,453 465.6,453.1 466.1,453.4 466.6,453.5 467.1,453.1 467.6,453.3 468.1,453.3 468.6,453.2 469.1,453.2 469.6,453.4 470.1,453.2 470.6,453.3 471.1,453.1 471.6,453.3 472.1,453.5 472.6,453.1 473.1,453.1 473.6,453.5 474.1,453.5 474.6,453.3 475.1,453.2 475.6,453.2 476.1,453.3 476.6,452.9 477.1,452.3 477.6,451.7 478.1,450.7 478.5,450.7 478.6,450.9 479.1,451.3 479.6,451.9 480.1,452.8 480.6,453.2 481.1,453.2 481.6,453.1 482.1,453.1 482.6,453.4 483.1,453.2 483.6,453.3 484.1,453.1 484.6,453.5 485.1,453.2 485.6,453.4 486.1,453.4 486.6,453.2 487.1,453.2 487.6,453.3 488.1,453.2 488.6,453.1 489.1,453.2 489.6,453.1 490.1,453.5 490.6,453.2 491.1,453.5 491.6,453.4 492.1,453.5 492.6,453.3 493.1,453.2 493.6,453.1 494.1,453.4 494.6,453.4 495.1,453.4 495.6,453.5 496.1,453.1 496.6,453.4 497.1,453.4 497.6,453.5 498.1,453.2 498.6,453.5 499.1,453.1 499.6,453.4 500.1,453.3 500.6,453.3 501.1,453.2 501.6,453.3 502.1,453.3 502.6,453.3 503.1,453.3 503.6,453.2 504.1,453.2 504.6,453.3 505.1,453.6 505.6,453.5 506.1,453.2 506.6,453.4 507.1,453.2 507.6,453.3 508.1,453.6 508.6,453.3 509.1,453.2 509.6,453.4 510.1,453.4 510.6,453.3 511.1,453.5 511.6,453.3 512.1,453.3 512.6,453.2 513.1,453.4 513.6,453.5 514.1,453.3 514.6,453.3 515.1,453.2 515.6,453.5 516.1,453.6 516.6,453.4 517.1,453.4 517.6,453.3 518.1,453.2 518.6,453.2 519.1,453.4 519.6,453.5 520.1,453.4 520.6,453.4 521.1,453.5 521.6,453.3 522.1,453.3 522.6,453.2 523.1,453.5 523.6,453.4 524.1,453.2 524.6,452.9 525.1,452.4 525.6,451.4 526.1,451.1 526.2,451.2 526.6,451.5 527.1,451.8 527.6,452.6 528.1,453.1 528.6,453.2 529.1,453.4 529.6,453.2 530.1,453.3 530.6,453.4 531.1,453.5 531.6,453.4 532.1,453.4 532.6,453.4 533.1,453.4 533.6,453.3 534.1,453.3 534.6,453.2 535.1,453.5 535.6,453.5 536.1,453.4 536.6,453.5 537.1,453.3 537.6,453.2 538.1,453.4 538.6,453.4 539.1,453.4 539.6,453.5 540.1,453.3 540.6,453.3 541.1,453.5 541.6,453.5 542.1,453.4 542.6,453.4 543.1,453.6 543.6,453.6 544.1,453.2 544.6,453.6 545.1,453.2 545.6,453.4 546.1,453.3 546.6,453 547.1,451.4 547.6,449.5 548.1,448.6 548.2,448.4 548.6,449 549.1,450.8 549.6,452.3 550.1,452.9 550.6,453.4 551.1,453.3 551.6,453.4 552.1,453.6 552.6,453.6 553.1,453.3 553.6,453.2 554.1,452.9 554.6,452.8 555.1,452.1 555.6,451.8 556.1,452.4 556.6,452.7 557.1,453.3 557.6,453.2 558.1,453.2 558.6,453.4 559.1,453.5 559.6,453.3 560.1,453.4 560.6,453.4 561.1,453.4 561.6,453.3 562.1,453.4 562.6,453.2 563.1,453.2 563.6,453.2 564.1,453.6 564.6,453.3 565.1,453.5 565.6,453.2 566.1,453.6 566.6,453.2 567.1,453.5 567.6,453.4 568.1,453.6 568.6,453.6 569.1,453.2 569.6,453.2 570.1,453.3 570.6,453.2 571.1,453.6 571.6,453.3 572.1,453.5 572.6,453.6 573.1,453.5 573.6,453.6 574.1,453.5 574.6,453.4 575.1,453.6 575.6,453.3 576.1,453.4 576.6,453.4 577.1,453.4 577.6,453.3 578.1,453.6 578.6,453.6 579.1,453.5 579.6,453.4 580.1,453.6 580.6,453.6 581.1,453.2 581.6,453.6 582.1,453.3 582.6,453.3 583.1,453.3 583.6,453.4 584.1,453.4 584.6,453.6 585.1,453.3 585.6,453.5 586.1,453.4 586.6,453.3 587.1,453.7 587.6,453.6 588.1,453.4 588.6,453.6 589.1,453.4 589.6,453.5 590.1,453.6 590.6,453.5 591.1,453.4 591.6,453.2 592.1,453.4 592.6,453.5 593.1,453.3 593.6,453.5 594.1,453.2 594.6,453.3 595.1,453.4 595.6,453.4 596.1,453.5 596.6,453.3 597.1,453.4 597.6,453.6 598.1,453.4 598.6,453.3 599.1,453.5 599.6,453.4 600.1,453.5 600.6,453.7 601.1,453.7 601.6,453.6 602.1,453.6 602.6,453.5 603.1,453.2 603.6,453.2 604.1,452.7 604.6,452.5 605.1,452.4 605.4,452.2 605.6,452.5 606.1,452.6 606.6,452.6 607.1,453.1 607.6,453 608.1,453.3 608.6,453.3 609.1,453.6 609.6,453.3 610.1,453.4 610.6,453.6 611.1,453.4 611.6,453.6 612.1,453.3 612.6,453.3 613.1,453.3 613.6,453.5 614.1,453.5 614.6,453.5 615.1,453.5 615.6,453.6 616.1,453.4 616.6,453.3 617.1,453.4 617.6,453.6 618.1,453.6 618.6,453.3 619.1,453.3 619.6,453.7 620.1,453.7 620.6,453.4 621.1,453.5 621.6,453.3 622.1,453.5 622.6,453.3 623.1,453.6 623.6,453.3 624.1,453.5 624.6,453.4 625.1,453.5 625.6,453.7 626.1,453.5 626.6,453.7 627.1,453.6 627.6,453.4 628.1,453.4 628.6,453.6 629.1,453.6 629.6,453.3 630.1,453.6 630.6,453.4 631.1,453.5 631.6,453.7 632.1,453.7 632.6,453.4 633.1,453.3 633.6,453.4 634.1,453.5 634.6,453.7 635.1,453.6 635.6,453.6 636.1,453.6 636.6,453.5 637.1,453.4 637.6,453.6 638.1,453.6 638.6,453.7 639.1,453.7 639.6,453.5 640.1,453.4 640.6,453.3 641.1,453.5 641.6,453.4 642.1,453.4 642.6,453.5 643.1,453.6 643.6,453.6 644.1,453.5 644.6,453.6 645.1,453.6 645.6,453.7 646.1,453.6 646.6,453.7 647.1,453.4 647.6,453.7 648.1,453.3 648.6,453.7 649.1,453.3 649.6,453.6 650.1,453.4 650.6,453.4 651.1,453.6 651.6,453.4 652.1,453.6 652.6,453.3 653.1,453.4 653.6,453.5 654.1,453.6 654.6,453.6 655.1,453.5 655.6,453.7 656.1,453.3 656.6,453.4 657.1,453.5 657.6,453.6 658.1,453.6 658.6,453.7 659.1,453.5 659.6,453.6 660.1,453.6 660.6,453.4 661.1,453.5 661.6,453.5 662.1,453.6 662.6,453.5 663.1,453.4 663.6,453.4 664.1,453.5 664.6,453.4 665.1,453.7 665.6,453.7 666.1,453.6 666.6,453.4 667.1,453.5 667.6,453.3 668,453.4 668.1,453.4 668.6,453.5 669.1,453.5 669.6,453.5 670.1,453.4 670.6,453.5 671.1,453.7 671.6,453.7 672.1,453.5 672.6,453.5 673.1,453.7 673.6,453.3 674.1,453.6 674.6,453.4 675.1,453.7 675.6,453.6 676.1,453.4 676.6,453.4 677.1,453.7 677.6,453.5 678.1,453.6 678.6,453.6 679.1,453.5 679.6,453.4 680.1,453.7 680.6,453.5 681.1,453.5 681.6,453.7 682.1,453.8 682.6,453.5 683.1,453.5 683.6,453.7 684.1,453.5 684.6,453.7 685.1,453.5 685.6,453.4 686.1,453.5 686.6,453.7 687.1,453.6 687.6,453.8 688.1,453.7 688.6,453.6 689.1,453.4 689.6,453.5 690.1,453.4 690.6,453.5 691.1,453.4 691.6,453.8 692.1,453.4 692.6,453.5 693.1,453.4 693.6,453.4 694.1,453.7 694.6,453.5 695.1,453.6 695.6,453.7 696.1,453.7 696.6,453.5 697.1,453.7 697.6,453.7 698.1,453.6 698.6,453.6 699.1,453.8 699.6,453.6 700.1,453.4 700.6,453.7 701.1,453.7 701.6,453.5 702.1,453.7 702.6,453.8 703.1,453.7 703.6,453.6 704.1,453.7 704.6,453.4 705.1,453.4 705.6,453.5 706.1,453.6 706.6,453.7 707.1,453.7 707.6,453.6 708.1,453.5 708.6,453.7 709.1,453.6 709.6,453.5 710.1,453.6 710.6,453.6 711.1,453.7 711.6,453.7 712.1,453.8 712.6,453.7 713.1,453.6 713.6,453.7 714.1,453.5 714.6,453.6 715.1,453.8 715.6,453.4 716.1,453.6 716.6,453.6 717.1,453.7 717.6,453.5 718.1,453.7 718.6,453.4 719.1,453.8 719.6,453.4 720.1,453.7 720.6,453.7 721.1,453.6 721.6,453.5 722.1,453.5 722.6,453.8 723.1,453.6 723.6,453.6 724.1,453.8 724.6,453.6 725.1,453.8 725.6,453.7 726.1,453.8 726.6,453.7 727.1,453.5 727.6,453.5 728.1,453.5 728.6,453.5 729.1,453.7 729.6,453.6 730.1,453.6 730.6,453.4 731.1,453.8 731.6,453.6 732.1,453.5 732.6,453.7 733.1,453.4 733.6,453.5 734.1,453.8 734.6,453.7 735,453.6 735.1,453.5 735.6,453.7 736.1,453.5 736.6,453.6 737.1,453.5 737.6,453.7 738.1,453.5 738.6,453.4 739.1,453.8 739.6,453.6 740.1,453.5 740.6,453.4 741.1,453.8 741.6,453.6 742.1,453.7 742.6,453.8 743.1,453.4 743.6,453.5 744.1,453.5 744.6,453.7 745.1,453.5 745.6,453.7 746.1,453.8 746.6,453.6 747.1,453.7 747.6,453.4 748.1,453.6 748.6,453.6 749.1,453.7 749.6,453.6 750.1,453.7 750.6,453.8 751.1,453.8 751.6,453.8 752.1,453.7 752.6,453.9 753.1,453.6 753.6,453.4 754.1,453.8 754.6,453.6 755.1,453.6 755.6,453.8 756.1,453.6 756.6,453.5 757.1,453.8 757.6,453.4 758.1,453.5 758.6,453.7 759.1,453.5 759.6,453.8 760.1,453.4 760.6,453.6 761.1,453.6 761.6,453.7 762.1,453.8 762.6,453.7 763.1,453.5 763.6,453.8 764.1,453.5 764.6,453.6 765.1,453.5 765.6,453.8 766.1,453.7 766.6,453.6 767.1,453.9 767.6,453.6 768.1,453.7 768.6,453.8 769.1,453.5 769.6,453.8 770.1,453.6 770.6,453.8 771.1,453.8 771.6,453.6 772.1,453.6 772.6,453.6 773.1,453.5 773.6,453.7 774.1,453.8 774.6,453.9 775.1,453.7 775.6,453.7 776.1,453.7 776.6,453.8 777.1,453.8 777.6,453.9 778.1,453.8 778.6,453.9 779.1,453.7 779.6,453.7 780.1,453.5 780.6,453.7 781.1,453.7 781.6,453.6 782.1,453.9 782.6,453.9 783.1,453.8 783.6,453.6 784.1,453.7 784.6,453.8 785.1,453.6 785.6,453.7 786.1,453.6 786.6,453.9 787.1,453.7 787.6,453.7 788.1,453.9 788.6,453.6 789.1,453.7 789.6,453.7 790.1,453.9 790.6,453.7 791,453.9 791.1,453.8 791.6,453.5 792.1,453.7 792.6,453.7 793.1,453.5 793.6,453.9 794.1,453.8 794.6,453.9 795.1,453.7 795.6,453.5 796.1,453.8 796.6,453.9 797.1,453.6 797.6,453.8 798.1,453.7 798.6,453.7 799.1,453.9 799.6,453.8 800.1,453.9 800.6,453.8 801.1,453.9 801.6,453.6 802.1,453.8 802.6,453.5 803.1,453.8 803.6,453.8 804.1,453.7 804.6,453.7 805.1,453.9 805.6,453.8 806.1,453.6 806.6,453.9 807.1,453.8 807.6,453.6 808.1,453.7 808.6,453.6 809.1,453.7 809.6,453.9 810.1,453.7 810.6,453.9 811.1,453.6 811.6,453.7 812.1,453.6 812.6,453.8 813.1,453.6 813.6,453.6 814.1,453.9 814.6,453.8 815.1,453.6 815.6,453.7 816.1,453.5 816.6,453.9 817.1,453.9 817.6,453.5 818.1,453.9 818.6,453.6 819.1,453.9 819.6,453.6 820.1,453.9 820.6,453.6 821.1,453.8 821.6,453.8 822.1,453.9 822.6,453.7 823.1,453.9 823.6,453.9 824.1,453.8 824.6,453.5 825.1,453.7 825.6,453.6 826.1,454 826.6,453.7 827.1,453.9 827.6,453.7 828.1,453.6 828.6,453.6 829.1,453.8 829.6,453.6 830.1,453.7 830.6,453.8 831.1,453.9 831.6,453.9 832.1,453.6 832.6,453.7 833.1,453.7 833.6,453.9 834.1,453.6 834.6,453.8 835.1,453.7 835.6,453.8 836.1,453.7 836.6,453.6 837.1,453.9 837.6,453.9 838.1,453.7 838.6,453.7 839.1,453.6 839.6,453.7 840.1,453.7 840.6,453.6 841.1,453.9 841.6,453.7 842.1,453.7 842.6,453.7 843.1,453.6 843.6,453.8 844.1,453.7 844.6,453.9 845.1,453.7 845.6,453.6 846.1,453.6 846.6,453.9 847.1,453.6 847.6,453.6 848.1,453.6 848.6,453.8 849.1,453.7 849.6,453.9 850.1,453.7 850.6,453.9 851.1,453.7 851.6,453.7 852.1,453.9 852.6,453.9 853.1,453.9 853.6,453.9 854.1,453.8 854.6,453.7 855.1,454 855.6,453.7 856.1,453.7 856.6,453.9 857.1,453.8 857.6,454 858.1,453.7 858.6,453.9 859.1,453.9 859.6,453.6 860.1,454 860.6,453.9 861.1,454 861.6,453.8 862.1,454 862.6,453.8 863.1,454 863.6,453.9 864.1,453.7 864.6,454 865.1,453.6 865.6,453.8 866.1,453.7 866.6,453.8 867.1,453.7 867.6,453.7 868.1,453.9 868.6,453.7 869.1,453.8 869.6,453.6 870.1,453.6 870.6,453.9 871.1,453.8 871.6,453.8 872.1,454 872.6,453.6 873.1,453.7 873.6,454 874.1,453.9 874.6,453.9 875.1,453.6 875.6,453.8 876.1,454 876.6,454 877.1,453.9 877.6,454 878.1,453.7 878.6,453.9 879.1,454 879.6,453.7 880.1,453.9 880.6,453.7 881.1,453.8 881.6,454 882.1,453.8 882.6,453.6 883.1,453.8 883.6,453.9 884.1,453.7 884.6,453.9 885.1,453.7 885.6,453.8 886.1,453.8 886.6,453.6 887.1,454 887.6,453.9 888.1,453.7 888.6,454 889.1,453.9 889.6,453.9 890.1,453.8 890.6,453.9 891.1,453.7 891.6,453.8 892.1,453.6 892.6,453.6 893.1,453.9 893.6,453.8 894.1,454 894.6,453.9 895.1,453.9 895.6,453.9 896.1,453.8 896.6,453.9 897.1,453.7 897.6,454 898.1,453.9 898.6,453.8 899.1,453.9 899.6,453.8 900.1,453.7 900.6,453.9 901.1,454 901.6,453.9 902.1,454 902.6,453.8 903.1,454 903.6,454 904.1,454 904.6,453.7 905.1,454 905.6,453.9 906.1,453.8 906.6,454 907.1,453.9 907.6,454 908.1,453.9 908.6,453.7 909.1,454 909.6,453.7 910.1,453.9 910.6,453.7 911.1,453.7 911.6,453.8 912.1,453.8 912.6,453.7 913.1,454 913.6,453.9 914.1,453.9 914.6,453.7 915.1,453.8 915.6,454 916.1,453.9 916.6,453.8 917.1,453.8 917.6,454 918.1,453.8 918.6,453.7 919.1,453.9 919.6,453.9 920.1,454 920.6,453.8 921.1,453.8 921.6,453.8 922.1,453.7 922.6,453.9 923.1,453.9 923.6,453.9 924.1,454 924.6,453.8 925.1,453.9 925.6,454 926.1,454 926.6,453.7 927.1,454.1 927.6,453.7 928.1,453.7 928.6,453.9 929.1,453.8 929.6,453.8 930.1,453.7 930.6,454 931.1,453.7 931.6,453.8 932.1,454.1 932.6,453.7 933.1,454 933.6,453.9 934.1,453.8 934.6,453.9 935.1,453.7 935.6,454 936.1,454 936.6,454 937.1,453.7 937.6,453.8 938.1,453.7 938.6,454.1 939.1,453.7 939.6,454 940.1,454.1 940.6,454.1 941.1,453.8 941.6,454.1 942.1,453.7 942.6,453.9 943.1,454 943.6,453.9 944.1,453.8 944.6,453.9 945.1,453.8 945.6,454 946.1,454 946.6,453.7 947.1,454 947.6,453.8 948.1,453.8 948.6,454.1 949.1,454.1 949.6,453.9 950.1,454.1"/>
<polyline fill="none" stroke="#000000" stroke-width="2.6" stroke-linejoin="round" points="81.6,526.8 82.1,527.1 82.6,527.1 83.1,527.2 83.6,526.9 84.1,526.9 84.6,527.1 85.1,527.1 85.6,526.9 86.1,527.1 86.6,527 87.1,527.1 87.6,526.8 88.1,526.9 88.6,527.2 89.1,526.9 89.6,526.9 90.1,527.1 90.6,527.1 91.1,526.9 91.6,527 92.1,527.1 92.6,526.9 93.1,527.1 93.6,526.8 94.1,526.9 94.6,526.8 95.1,526.9 95.6,527.2 96.1,527 96.6,527.2 97.1,527 97.6,527.1 98.1,527.2 98.6,527.1 99.1,526.8 99.6,527.1 100.1,527.1 100.6,526.9 101.1,526.8 101.6,527.2 102.1,527 102.6,526.9 103.1,527 103.6,526.9 104.1,527.2 104.6,527 105.1,526.8 105.6,527.2 106.1,526.8 106.6,526.9 107.1,526.8 107.6,527.1 108.1,526.9 108.6,527 109.1,526.8 109.6,527 110.1,527.1 110.6,527 111.1,527 111.6,527 112.1,527 112.6,527.1 113.1,526.9 113.6,527 114.1,526.9 114.6,527.2 115.1,527.2 115.6,526.8 116.1,526.9 116.6,527.1 117.1,527.1 117.6,526.8 118.1,527.1 118.6,527.2 119.1,527 119.6,527 120.1,527.1 120.6,527.2 121.1,526.9 121.6,527 122.1,526.9 122.6,527.1 123.1,527 123.6,526.9 124.1,527 124.6,526.8 125.1,527 125.6,527.3 126.1,527.1 126.6,527 127.1,527.2 127.6,527 128.1,526.9 128.6,526.8 129.1,526.9 129.6,526.7 130.1,526.2 130.6,525.8 131.1,525.1 131.6,525.5 132.1,526.4 132.6,527 133.1,526.9 133.6,527.2 134.1,526.9 134.6,526.7 135.1,525.6 135.6,522.5 136.1,516.5 136.6,510.2 137,508.4 137.1,508.3 137.6,512.4 138.1,519.2 138.6,523.9 139.1,526.3 139.6,526.8 140.1,527.2 140.6,527.1 141.1,527 141.6,527.3 142.1,527 142.6,527 143.1,526.9 143.6,526.5 144.1,525.2 144.6,521.1 145.1,512.5 145.6,502.6 146.1,498 146.6,502.7 147.1,512.6 147.6,521.2 148.1,525.2 148.6,526.6 149.1,527 149.6,526.9 150.1,526.9 150.6,526.8 151.1,526.5 151.6,524.6 152.1,521.2 152.6,516.2 153.1,513.5 153.2,513.4 153.6,514.7 154.1,519.5 154.6,523.7 155.1,526 155.6,526.6 156.1,527 156.6,527 157.1,527.1 157.6,527.3 158.1,527.2 158.6,526.9 159.1,527.2 159.6,527.3 160.1,527.1 160.6,526.9 161.1,527.2 161.6,527.1 162.1,527.3 162.6,527.2 163.1,527.2 163.6,527.3 164.1,526.9 164.6,527.2 165.1,527 165.6,526.9 166.1,527 166.6,527.1 167.1,526.9 167.6,527.1 168.1,527.2 168.6,527.1 169.1,527.1 169.6,527 170.1,527.3 170.6,527 171.1,527.2 171.6,527.2 172.1,526.9 172.6,527.3 173.1,527 173.6,527.3 174.1,527.3 174.6,527.3 175.1,527.3 175.6,527.1 176.1,527.1 176.6,527 177.1,527.3 177.6,526.9 178.1,526.9 178.6,527.3 179.1,527.2 179.6,527.2 180.1,527.3 180.6,527.1 181.1,527.2 181.6,527.1 182.1,527.2 182.6,526.4 183.1,525.8 183.6,525 184,524.8 184.1,524.7 184.6,525.4 185.1,526.4 185.6,526.8 186.1,526.9 186.6,526.9 187.1,527.3 187.6,527.1 188.1,527.1 188.6,527.1 189.1,526.9 189.6,527 190.1,527 190.6,527 191.1,527.3 191.6,527 192.1,526.9 192.6,527.3 193.1,527.1 193.6,526.9 194.1,527.2 194.6,527.2 195.1,527.2 195.6,527.2 196.1,527.1 196.6,527 197.1,527.2 197.6,527.1 198.1,526.8 198.6,524.7 199.1,518.8 199.6,506 200.1,488.6 200.6,478 200.7,477.6 201.1,483 201.6,499 202.1,514.6 202.6,523.3 203.1,526.2 203.6,526.8 204.1,527.2 204.6,527 205.1,527.2 205.6,526.4 206.1,525 206.6,520.8 207.1,514.7 207.6,510.3 207.8,509.9 208.1,510.9 208.6,516.1 209.1,521.8 209.6,525.5 210.1,526.6 210.6,527.2 211.1,526.9 211.6,527.1 212.1,526.9 212.6,527 213.1,527.2 213.6,527.3 214.1,527.1 214.6,527.1 215.1,527.1 215.6,527.2 216.1,527.1 216.6,527.1 217.1,527.3 217.6,527.2 218.1,527.1 218.6,527.3 219.1,527.4 219.6,527.1 220.1,526.9 220.6,527.1 221.1,527.3 221.6,527 222.1,527 222.6,527.3 223.1,527 223.6,527.3 224.1,527 224.6,527.1 225.1,527.2 225.6,527 226.1,527.3 226.6,527.1 227.1,527.3 227.6,527.3 228.1,527 228.6,527.3 229.1,527.3 229.6,527 230.1,527.2 230.6,527 231.1,527.2 231.6,527.3 232.1,527.1 232.6,527.2 233.1,527 233.6,527.3 234.1,527.2 234.6,527.3 235.1,527 235.6,527.3 236.1,527 236.6,527.2 237.1,527 237.6,527.3 238.1,527 238.6,527.2 239.1,527.2 239.6,527.1 240.1,527 240.6,527.2 241.1,527.4 241.6,527.1 242.1,527.3 242.6,527.1 243.1,527.1 243.6,527.1 244.1,527.4 244.6,527.3 245.1,527.2 245.6,527 246.1,527.1 246.6,527 247.1,527 247.6,527.1 248.1,527.1 248.6,527 249.1,527.2 249.6,527.3 250.1,527.3 250.6,527.2 251.1,526.6 251.6,525.6 252.1,524.6 252.6,523.3 252.8,523.1 253.1,523.6 253.6,524.7 254.1,526.2 254.6,526.9 255.1,527.3 255.6,527 256.1,527.4 256.6,527.2 257.1,527.3 257.6,527.1 258.1,527.1 258.6,527.1 259.1,527 259.6,527.4 260.1,527 260.6,527.1 261.1,527.2 261.6,527.1 262.1,527.1 262.6,527.1 263.1,527.1 263.6,527 264.1,527.3 264.6,527.3 265.1,527.1 265.6,527.3 266.1,527.1 266.6,526.5 267.1,525.3 267.6,522.1 268.1,518.9 268.6,517.3 269.1,518.6 269.6,522.4 270.1,525.1 270.6,526.6 271.1,527.3 271.6,527.2 272.1,527.1 272.6,527 273.1,527.4 273.6,527.2 274.1,527.3 274.6,527.3 275.1,527.4 275.6,527.4 276.1,527.4 276.6,527.2 277.1,527.4 277.6,527.1 278.1,527 278.6,527.3 279.1,527 279.6,527.4 280.1,527.1 280.6,527.2 281.1,527.1 281.6,527.1 282.1,527.2 282.6,527.3 283.1,527 283.6,527.1 284.1,527.1 284.6,527.4 285.1,527.2 285.6,527.2 286.1,527.4 286.6,527.2 287.1,527.2 287.6,527.2 288.1,527.1 288.6,527.3 289.1,527.1 289.6,527.2 290.1,527.2 290.6,527.3 291.1,527.3 291.6,527.2 292.1,527.4 292.6,527.3 293.1,527 293.6,526 294.1,524.4 294.6,522.7 295,522.4 295.1,522.2 295.6,523.4 296.1,525 296.6,526.3 297.1,526.8 297.6,527.3 298.1,527.1 298.6,527.2 299.1,527.3 299.6,527.3 300.1,526.9 300.6,525.7 301.1,524.1 301.5,523.8 301.6,523.4 302.1,523.9 302.6,523.7 303.1,521.6 303.6,520.2 304.1,521.9 304.6,524.4 305.1,525.9 305.6,525.4 306.1,522.3 306.6,515.6 307.1,509.2 307.5,507.1 307.6,507.1 308.1,511.7 308.6,518.4 309.1,523.7 309.6,526.5 310.1,526.8 310.6,527.1 311.1,527.2 311.6,527.4 312.1,527.2 312.6,527.3 313.1,527.4 313.6,527.3 314.1,527.4 314.6,527 315.1,527.3 315.6,527 316.1,527.4 316.6,527 317.1,527.1 317.6,527.2 318.1,527.3 318.6,526.9 319.1,526.8 319.6,525.1 320.1,521.6 320.6,516.2 321.1,512.5 321.3,512.1 321.6,513.1 322.1,517.4 322.6,522.5 323.1,525.9 323.6,527 324.1,527.4 324.6,527.2 325.1,527.4 325.6,527.3 326.1,527.4 326.6,527.3 327.1,527.4 327.6,527.3 328.1,527.1 328.6,527.1 329.1,526.5 329.6,526 330.1,524.9 330.5,524.6 330.6,524.8 331.1,525.4 331.6,526.2 332.1,527.1 332.6,527.4 333.1,527.2 333.6,527.2 334.1,526.4 334.6,524.4 335.1,519.1 335.6,510.5 336.1,505.1 336.2,504.5 336.6,507.3 337.1,515.5 337.6,522.5 338.1,526 338.6,526 339.1,522.9 339.6,516.8 340.1,510.7 340.4,509.4 340.6,509.9 341.1,515.3 341.6,521.7 342.1,525.8 342.6,527 343.1,527.2 343.6,527.4 344.1,527.2 344.6,527.4 345.1,527.4 345.6,527.3 346.1,527.3 346.6,527.3 347.1,527.5 347.6,527.5 348.1,527.3 348.6,527.5 349.1,527.2 349.6,527.5 350.1,527.4 350.6,527.3 351.1,527.1 351.6,527.4 352.1,527.2 352.6,527.2 353.1,527.5 353.6,527.1 354.1,527.3 354.6,527.2 355.1,527.4 355.6,527.2 356.1,527.1 356.6,527.3 357.1,527.3 357.6,527.4 358.1,527.2 358.6,527.2 359.1,527.2 359.6,527.3 360.1,527.1 360.6,527.3 361.1,527.4 361.6,527.3 362.1,527.1 362.6,526.9 363.1,526.2 363.6,525.9 364,525.8 364.1,525.5 364.6,526.1 365.1,526.8 365.6,526.9 366.1,527.1 366.6,527.4 367.1,527.1 367.6,527.2 368.1,527.3 368.6,527.3 369.1,527.2 369.6,527.2 370.1,527.3 370.6,527.5 371.1,527.2 371.6,527.4 372.1,527.3 372.6,527.2 373.1,527.3 373.6,527.4 374.1,527.1 374.6,527.3 375.1,527.3 375.6,527.1 376.1,527.3 376.6,527.2 377.1,527.3 377.6,527.1 378.1,527.3 378.6,527.4 379.1,527.5 379.6,527.5 380.1,527.2 380.6,527.4 381.1,527.2 381.6,527.3 382.1,527 382.6,526.9 383,526.7 383.1,526.9 383.6,526.8 384.1,527.2 384.6,527.1 385.1,527.4 385.6,527.2 386.1,527.3 386.6,527.3 387.1,527.4 387.6,527.3 388.1,527.2 388.6,527.4 389.1,526.6 389.6,525.9 390.1,524.4 390.6,523.3 390.8,523.3 391.1,523.8 391.6,524.6 392.1,526.2 392.6,527 393.1,527.4 393.6,527.5 394.1,527.2 394.6,527.5 395.1,527.2 395.6,527.2 396.1,527.2 396.6,527.4 397.1,527.4 397.6,527.4 398.1,527.2 398.6,527.3 399.1,527.3 399.6,527.5 400.1,527.4 400.6,527.4 401.1,527.3 401.6,527.2 402.1,527.2 402.6,527.2 403.1,527.4 403.6,527.2 404.1,527.3 404.6,527.3 405.1,527.2 405.6,527.3 406.1,527.3 406.6,527.5 407.1,527.4 407.6,527.2 408.1,527 408.6,526.7 409.1,526.6 409.2,526.7 409.6,527 410.1,526.8 410.6,527 411.1,527.2 411.6,527.4 412.1,527.1 412.6,527.1 413.1,527.4 413.6,527.1 414.1,527.5 414.6,527.4 415.1,527.3 415.6,527.6 416.1,527.3 416.6,527.5 417.1,527.2 417.6,527.2 418.1,527.3 418.6,527.4 419.1,527.4 419.6,527.2 420.1,527.4 420.6,527.3 421.1,527.5 421.6,527.5 422.1,527.5 422.6,527.1 423.1,527.1 423.6,526.9 424.1,526.9 424.6,526.5 424.8,526.5 425.1,526.5 425.6,527.2 426.1,527.1 426.6,527.2 427.1,527.2 427.6,527.3 428.1,527.2 428.6,527.5 429.1,527.5 429.6,527.5 430.1,527.2 430.6,527.4 431.1,527.5 431.6,527.3 432.1,527.5 432.6,527.1 433.1,527.4 433.6,527.4 434.1,527.2 434.6,526.8 435.1,526.9 435.6,526.4 436,526.1 436.1,526.3 436.6,526.3 437.1,526.9 437.6,527.2 438.1,527.3 438.6,527.3 439.1,527.5 439.6,527.3 440.1,527.2 440.6,527.2 441.1,527.2 441.6,527.5 442.1,527.2 442.6,527.6 443.1,527.4 443.6,527.2 444.1,527.6 444.6,527.6 445.1,527.3 445.6,527.4 446.1,527.3 446.6,527.2 447.1,527.2 447.6,527.5 448.1,527.3 448.6,527.2 449.1,527.2 449.6,527.3 450.1,527.6 450.6,527.2 451.1,527.2 451.6,527 452.1,526.9 452.6,526 453.1,525.9 453.3,525.9 453.6,525.7 454.1,526.3 454.6,527 455.1,527.2 455.6,527.3 456.1,527.6 456.6,527.6 457.1,527.3 457.6,527.5 458.1,527.2 458.6,527.5 459.1,527.3 459.6,527.6 460.1,527.2 460.6,527.2 461.1,527.1 461.6,526.6 462.1,525.8 462.6,524.6 463.1,524.1 463.6,524.6 464.1,525.5 464.6,526.8 465.1,527.1 465.6,527.2 466.1,527.3 466.6,527.3 467.1,527.4 467.6,527.3 468.1,527.5 468.6,527.3 469.1,527.5 469.6,527.6 470.1,527.5 470.6,527.2 471.1,527.4 471.6,527.5 472.1,527.2 472.6,527.6 473.1,527.2 473.6,527.2 474.1,527.2 474.6,527.6 475.1,527.2 475.6,527.3 476.1,527.1 476.6,526.4 477.1,525.7 477.6,524.4 478.1,523.5 478.2,523.7 478.6,523.8 479.1,525.2 479.6,526 480.1,526.9 480.6,527.2 481.1,527.3 481.6,527.4 482.1,527.3 482.6,527.5 483.1,527.5 483.6,527.6 484.1,527.6 484.6,527.2 485.1,527.6 485.6,527.3 486.1,527.6 486.6,527.5 487.1,527.3 487.6,527.4 488.1,527.4 488.6,527.4 489.1,527.4 489.6,527.5 490.1,527.4 490.6,527.6 491.1,527.4 491.6,527.4 492.1,527.2 492.6,527.5 493.1,527.2 493.6,527.6 494.1,527.4 494.6,527.5 495.1,527.4 495.6,527.5 496.1,527.3 496.6,527.3 497.1,527.4 497.6,527.3 498.1,527.4 498.6,527.4 499.1,527.6 499.6,527.5 500.1,527.2 500.6,527.5 501.1,527.4 501.6,527.3 502.1,527.4 502.6,527.6 503.1,527.6 503.6,527.4 504.1,527.6 504.6,527.4 505.1,527.3 505.6,527.5 506.1,527.6 506.6,527.5 507.1,527.3 507.6,527.4 508.1,527.3 508.6,527.3 509.1,527.3 509.6,527.6 510.1,527.5 510.6,527.4 511.1,527.5 511.6,527.5 512.1,527.4 512.6,527.3 513.1,527.4 513.6,527.5 514.1,527.4 514.6,527.3 515.1,527.5 515.6,527.5 516.1,527.3 516.6,527.3 517.1,527.6 517.6,527.7 518.1,527.6 518.6,527.6 519.1,527.6 519.6,527.4 520.1,527.5 520.6,527.4 521.1,527.7 521.6,527.3 522.1,527.7 522.6,527.3 523.1,527.3 523.6,527.4 524.1,527.4 524.6,527 525.1,526.4 525.6,525.9 526,525.8 526.1,525.6 526.6,525.8 527.1,526.6 527.6,526.9 528.1,527.3 528.6,527.5 529.1,527.7 529.6,527.3 530.1,527.6 530.6,527.3 531.1,527.5 531.6,527.6 532.1,527.5 532.6,527.4 533.1,527.6 533.6,527.3 534.1,527.6 534.6,527.7 535.1,527.6 535.6,527.2 536.1,527.2 536.6,526.6 537.1,526.1 537.6,525.7 537.8,525.5 538.1,525.8 538.6,526.5 539.1,527 539.6,527.2 540.1,527.3 540.6,527.3 541.1,527.6 541.6,527.4 542.1,527.5 542.6,527.3 543.1,527.6 543.6,527.3 544.1,527.5 544.6,527.4 545.1,527.3 545.6,526.6 546.1,525.7 546.6,524.5 547,523.7 547.1,523.6 547.6,524.6 548.1,526 548.6,527.2 549.1,527.2 549.6,527.3 550.1,527.5 550.6,527.5 551.1,527.4 551.6,527.6 552.1,527.4 552.6,527.7 553.1,527.3 553.6,527.4 554.1,527 554.6,526.6 555.1,526.5 555.5,526.4 555.6,526.3 556.1,526.5 556.6,527 557.1,527.2 557.6,527.3 558.1,527.4 558.6,527.4 559.1,527.4 559.6,527.5 560.1,527.4 560.6,527.4 561.1,527.6 561.6,527.6 562.1,527.4 562.6,527.5 563.1,527.3 563.6,527.6 564.1,527.6 564.6,527.4 565.1,527.7 565.6,527.5 566.1,527.7 566.6,527.4 567.1,527.3 567.6,527.6 568.1,527.6 568.6,527.4 569.1,527.5 569.6,527.4 570.1,527.5 570.6,527.7 571.1,527.4 571.6,527.4 572.1,527.7 572.6,527.7 573.1,527.5 573.6,527.5 574.1,527.5 574.6,527.6 575.1,527.7 575.6,527.7 576.1,527.5 576.6,527.5 577.1,527.7 577.6,527.6 578.1,527.7 578.6,527.3 579.1,527.6 579.6,527.6 580.1,527.4 580.6,527.3 581.1,527.4 581.6,527.7 582.1,527.6 582.6,527.4 583.1,527.7 583.6,527.3 584.1,527.6 584.6,527.5 585.1,527.7 585.6,527.4 586.1,527.5 586.6,527.5 587.1,527.5 587.6,527.5 588.1,527.4 588.6,527.5 589.1,527.3 589.6,527.6 590.1,527.7 590.6,527.4 591.1,527.5 591.6,527.7 592.1,527.7 592.6,527.6 593.1,527.6 593.6,527.7 594.1,527.5 594.6,527.6 595.1,527.7 595.6,527.5 596.1,527.5 596.6,527.6 597.1,527.6 597.6,527.6 598.1,527.5 598.6,527.4 599.1,527.7 599.6,527.6 600.1,527.5 600.6,527.4 601.1,527.3 601.6,527.5 602.1,527.7 602.6,527.6 603.1,527.5 603.6,527.3 604.1,527.4 604.6,527.4 605,527.1 605.1,527.2 605.6,527.2 606.1,527.2 606.6,527.4 607.1,527.3 607.6,527.7 608.1,527.7 608.6,527.4 609.1,527.4 609.6,527.4 610.1,527.7 610.6,527.5 611.1,527.7 611.6,527.8 612.1,527.5 612.6,527.7 613.1,527.4 613.6,527.3 614.1,527.6 614.6,527.5 615.1,527.4 615.6,527.6 616.1,527.7 616.6,527.5 617.1,527.6 617.6,527.7 618.1,527.4 618.6,527.6 619.1,527.4 619.6,527.4 620.1,527.4 620.6,527.4 621.1,527.7 621.6,527.3 622.1,527.6 622.6,527.4 623.1,527.3 623.6,527.7 624.1,527.6 624.6,527.7 625.1,527.6 625.6,527.6 626.1,527.7 626.6,527.3 627.1,527.4 627.6,527.6 628.1,527.8 628.6,527.4 629.1,527.5 629.6,527.6 630.1,527.6 630.6,527.7 631.1,527.4 631.6,527.5 632.1,527.6 632.6,527.7 633.1,527.6 633.6,527.7 634.1,527.7 634.6,527.4 635.1,527.5 635.6,527.4 636.1,527.4 636.6,527.7 637.1,527.5 637.6,527.7 638.1,527.4 638.6,527.6 639.1,527.8 639.6,527.5 640.1,527.7 640.6,527.7 641.1,527.7 641.6,527.5 642.1,527.6 642.6,527.7 643.1,527.6 643.6,527.5 644.1,527.8 644.6,527.5 645.1,527.7 645.6,527.5 646.1,527.6 646.6,527.7 647.1,527.8 647.6,527.7 648.1,527.6 648.6,527.6 649.1,527.7 649.6,527.7 650.1,527.8 650.6,527.4 651.1,527.4 651.6,527.8 652.1,527.7 652.6,527.4 653.1,527.5 653.6,527.4 654.1,527.5 654.6,527.4 655.1,527.7 655.6,527.4 656.1,527.6 656.6,527.4 657.1,527.5 657.6,527.5 658.1,527.6 658.6,527.5 659.1,527.5 659.6,527.5 660.1,527.8 660.6,527.8 661.1,527.4 661.6,527.7 662.1,527.4 662.6,527.5 663.1,527.7 663.6,527.7 664.1,527.7 664.6,527.6 665.1,527.6 665.6,527.4 666.1,527.7 666.6,527.7 667.1,527.5 667.6,527.4 668,527.5 668.1,527.7 668.6,527.4 669.1,527.7 669.6,527.7 670.1,527.7 670.6,527.6 671.1,527.7 671.6,527.5 672.1,527.5 672.6,527.7 673.1,527.4 673.6,527.6 674.1,527.7 674.6,527.4 675.1,527.4 675.6,527.8 676.1,527.7 676.6,527.8 677.1,527.4 677.6,527.8 678.1,527.6 678.6,527.6 679.1,527.5 679.6,527.6 680.1,527.5 680.6,527.4 681.1,527.7 681.6,527.4 682.1,527.4 682.6,527.7 683.1,527.8 683.6,527.4 684.1,527.6 684.6,527.5 685.1,527.6 685.6,527.6 686.1,527.5 686.6,527.6 687.1,527.6 687.6,527.7 688.1,527.5 688.6,527.5 689.1,527.6 689.6,527.5 690.1,527.5 690.6,527.5 691.1,527.8 691.6,527.8 692.1,527.5 692.6,527.7 693.1,527.6 693.6,527.4 694.1,527.4 694.6,527.9 695.1,527.5 695.6,527.6 696.1,527.7 696.6,527.7 697.1,527.7 697.6,527.5 698.1,527.6 698.6,527.5 699.1,527.7 699.6,527.8 700.1,527.5 700.6,527.7 701.1,527.5 701.6,527.6 702.1,527.5 702.6,527.6 703.1,527.5 703.6,527.4 704.1,527.6 704.6,527.8 705.1,527.7 705.6,527.7 706.1,527.6 706.6,527.5 707.1,527.5 707.6,527.5 708.1,527.7 708.6,527.5 709.1,527.7 709.6,527.4 710.1,527.7 710.6,527.5 711.1,527.5 711.6,527.6 712.1,527.5 712.6,527.8 713.1,527.7 713.6,527.6 714.1,527.7 714.6,527.8 715.1,527.7 715.6,527.6 716.1,527.7 716.6,527.6 717.1,527.7 717.6,527.8 718.1,527.8 718.6,527.9 719.1,527.4 719.6,527.5 720.1,527.5 720.6,527.9 721.1,527.6 721.6,527.7 722.1,527.6 722.6,527.6 723.1,527.7 723.6,527.7 724.1,527.5 724.6,527.7 725.1,527.8 725.6,527.6 726.1,527.6 726.6,527.6 727.1,527.6 727.6,527.6 728.1,527.5 728.6,527.7 729.1,527.5 729.6,527.6 730.1,527.5 730.6,527.8 731.1,527.6 731.6,527.6 732.1,527.8 732.6,527.8 733.1,527.6 733.6,527.7 734.1,527.6 734.6,527.6 735,527.5 735.1,527.7 735.6,527.7 736.1,527.6 736.6,527.6 737.1,527.6 737.6,527.8 738.1,527.9 738.6,527.8 739.1,527.8 739.6,527.8 740.1,527.6 740.6,527.6 741.1,527.9 741.6,527.9 742.1,527.8 742.6,527.6 743.1,527.5 743.6,527.7 744.1,527.5 744.6,527.8 745.1,527.5 745.6,527.6 746.1,527.5 746.6,527.8 747.1,527.5 747.6,527.5 748.1,527.6 748.6,527.5 749.1,527.5 749.6,527.9 750.1,527.7 750.6,527.6 751.1,527.5 751.6,527.8 752.1,527.5 752.6,527.7 753.1,527.7 753.6,527.7 754.1,527.6 754.6,527.9 755.1,527.5 755.6,527.8 756.1,527.5 756.6,527.5 757.1,527.5 757.6,527.6 758.1,527.7 758.6,527.6 759.1,527.6 759.6,527.5 760.1,527.8 760.6,527.9 761.1,527.6 761.6,527.8 762.1,527.8 762.6,527.9 763.1,527.9 763.6,527.7 764.1,527.6 764.6,527.7 765.1,527.7 765.6,527.5 766.1,527.6 766.6,527.5 767.1,527.8 767.6,527.6 768.1,527.6 768.6,527.6 769.1,527.8 769.6,527.8 770.1,527.7 770.6,527.7 771.1,527.5 771.6,527.7 772.1,527.8 772.6,527.7 773.1,527.8 773.6,527.7 774.1,527.9 774.6,527.9 775.1,527.7 775.6,527.9 776.1,527.6 776.6,527.6 777.1,527.9 777.6,527.6 778.1,527.7 778.6,527.6 779.1,527.8 779.6,527.8 780.1,527.5 780.6,527.6 781.1,527.5 781.6,527.7 782.1,527.6 782.6,527.8 783.1,527.8 783.6,527.7 784.1,527.7 784.6,527.9 785.1,527.8 785.6,527.6 786.1,527.8 786.6,527.7 787.1,527.9 787.6,527.6 788.1,527.7 788.6,527.9 789.1,527.9 789.6,527.9 790.1,527.9 790.6,527.9 791,527.8 791.1,527.5 791.6,527.8 792.1,527.7 792.6,527.5 793.1,527.6 793.6,527.9 794.1,527.5 794.6,527.6 795.1,527.9 795.6,527.9 796.1,527.6 796.6,527.9 797.1,527.8 797.6,527.7 798.1,527.7 798.6,527.7 799.1,527.8 799.6,527.6 800.1,527.9 800.6,527.7 801.1,527.7 801.6,527.6 802.1,527.6 802.6,527.8 803.1,527.9 803.6,527.6 804.1,527.9 804.6,527.9 805.1,527.8 805.6,527.9 806.1,527.9 806.6,527.8 807.1,527.9 807.6,527.7 808.1,527.6 808.6,527.7 809.1,527.7 809.6,527.6 810.1,527.6 810.6,527.7 811.1,528 811.6,528 812.1,527.6 812.6,527.9 813.1,527.7 813.6,527.7 814.1,527.9 814.6,527.8 815.1,527.9 815.6,527.6 816.1,527.8 816.6,527.6 817.1,527.9 817.6,527.6 818.1,527.7 818.6,527.9 819.1,527.8 819.6,527.8 820.1,528 820.6,527.6 821.1,527.8 821.6,527.6 822.1,527.7 822.6,527.8 823.1,527.8 823.6,527.7 824.1,527.6 824.6,527.8 825.1,527.8 825.6,527.8 826.1,527.8 826.6,527.7 827.1,527.8 827.6,527.8 828.1,527.7 828.6,527.9 829.1,527.6 829.6,528 830.1,528 830.6,528 831.1,527.6 831.6,527.7 832.1,527.6 832.6,527.9 833.1,527.8 833.6,527.9 834.1,527.9 834.6,527.6 835.1,527.9 835.6,528 836.1,527.8 836.6,527.7 837.1,528 837.6,527.8 838.1,528 838.6,527.8 839.1,528 839.6,527.8 840.1,527.7 840.6,527.6 841.1,527.6 841.6,527.7 842.1,527.7 842.6,528 843.1,527.6 843.6,527.7 844.1,527.8 844.6,527.8 845.1,527.8 845.6,527.6 846.1,527.6 846.6,527.7 847.1,527.9 847.6,527.9 848.1,527.9 848.6,527.6 849.1,528 849.6,527.9 850.1,527.8 850.6,528 851.1,527.8 851.6,527.7 852.1,527.9 852.6,527.6 853.1,527.9 853.6,527.7 854.1,528 854.6,527.9 855.1,528 855.6,528 856.1,527.9 856.6,527.8 857.1,527.7 857.6,527.9 858.1,527.9 858.6,527.8 859.1,527.6 859.6,527.7 860.1,527.8 860.6,527.9 861.1,528 861.6,527.6 862.1,527.9 862.6,527.7 863.1,527.7 863.6,527.9 864.1,527.8 864.6,527.8 865.1,527.9 865.6,528 866.1,528 866.6,527.7 867.1,527.8 867.6,527.7 868.1,527.7 868.6,527.9 869.1,527.8 869.6,527.7 870.1,527.9 870.6,528 871.1,527.7 871.6,527.8 872.1,527.8 872.6,528 873.1,527.9 873.6,527.7 874.1,527.8 874.6,527.7 875.1,527.8 875.6,527.8 876.1,527.8 876.6,527.7 877.1,527.7 877.6,527.7 878.1,527.8 878.6,527.7 879.1,527.7 879.6,528 880.1,527.7 880.6,528 881.1,527.9 881.6,527.7 882.1,527.8 882.6,527.7 883.1,528 883.6,527.7 884.1,527.8 884.6,528 885.1,527.9 885.6,527.8 886.1,527.9 886.6,528 887.1,527.8 887.6,527.8 888.1,527.9 888.6,527.7 889.1,528 889.6,527.9 890.1,527.7 890.6,527.7 891.1,528 891.6,528 892.1,527.8 892.6,527.6 893.1,528 893.6,527.6 894.1,528 894.6,527.8 895.1,528 895.6,527.7 896.1,527.9 896.6,527.9 897.1,528 897.6,528.1 898.1,527.7 898.6,527.9 899.1,527.7 899.6,528 900.1,528.1 900.6,527.8 901.1,527.8 901.6,527.8 902.1,527.9 902.6,527.8 903.1,527.8 903.6,527.7 904.1,528 904.6,527.7 905.1,527.7 905.6,527.7 906.1,527.9 906.6,527.7 907.1,527.7 907.6,527.9 908.1,528 908.6,528 909.1,528 909.6,528 910.1,528 910.6,527.9 911.1,527.9 911.6,527.7 912.1,527.7 912.6,528 913.1,527.8 913.6,527.9 914.1,528 914.6,527.8 915.1,528 915.6,527.7 916.1,528.1 916.6,528 917.1,527.7 917.6,527.7 918.1,527.9 918.6,527.8 919.1,528 919.6,527.9 920.1,528.1 920.6,527.7 921.1,527.7 921.6,528 922.1,527.9 922.6,527.8 923.1,527.8 923.6,527.7 924.1,527.9 924.6,527.8 925.1,527.8 925.6,527.9 926.1,527.9 926.6,527.9 927.1,527.8 927.6,528 928.1,527.9 928.6,528 929.1,528 929.6,527.7 930.1,528 930.6,527.8 931.1,527.9 931.6,527.9 932.1,528.1 932.6,528 933.1,527.9 933.6,527.7 934.1,527.8 934.6,527.9 935.1,527.9 935.6,528 936.1,528 936.6,528.1 937.1,528 937.6,528.1 938.1,528 938.6,527.8 939.1,527.9 939.6,528 940.1,528 940.6,527.9 941.1,527.7 941.6,527.9 942.1,527.8 942.6,527.7 943.1,528 943.6,527.8 944.1,528.1 944.6,528.1 945.1,528 945.6,527.7 946.1,527.8 946.6,527.7 947.1,528.1 947.6,528 948.1,527.8 948.6,527.9 949.1,528 949.6,528 950.1,528"/>
<path d="M129.2 743.7V727.9 M135.6 743.7V669.4 M144.8 743.7V633 M151.6 743.7V696.6 M182.1 743.7V731.7 M199.2 743.7V560 M206 743.7V669.4 M245 743.7V734.7 M251.6 743.7V720.7 M267.3 743.7V696.6 M276.8 743.7V739 M289.3 743.7V735.2 M293.9 743.7V717.6 M301.3 743.7V696.9 M305.9 743.7V642.7 M319.8 743.7V678.8 M330.5 743.7V713.9 M334.9 743.7V651.4 M339.2 743.7V660.6 M355.4 743.7V735.2 M361.7 743.7V727.8 M381.1 743.7V731.5 M389.1 743.7V720.4 M398.3 743.7V738.9 M407.6 743.7V735.2 M423.3 743.7V735.2 M426.5 743.7V735.2 M432.9 743.7V731.5 M434.8 743.7V727.8 M448.3 743.7V731.5 M452 743.7V720.4 M454.2 743.7V720.4 M462.1 743.7V724 M470.5 743.7V731.5 M476.4 743.7V717.2 M484.3 743.7V738.9 M487.5 743.7V735.2 M501.3 743.7V731.5 M508.4 743.7V735.2" stroke="#000" stroke-width="3" fill="none"/>
<rect x="81.1" y="11.7" width="871.7" height="732" fill="none" stroke="#000" stroke-width="4.8" stroke-linejoin="round"/>
<path d="M81.1 743.7V758 M135.6 743.7V758 M190.1 743.7V758 M244.5 743.7V758 M299 743.7V758 M353.5 743.7V758 M408 743.7V758 M462.5 743.7V758 M517 743.7V758 M571.4 743.7V758 M625.9 743.7V758 M680.4 743.7V758 M734.9 743.7V758 M789.4 743.7V758 M843.8 743.7V758 M898.3 743.7V758 M952.8 743.7V758 M108.3 743.7V751 M162.8 743.7V751 M217.3 743.7V751 M271.8 743.7V751 M326.3 743.7V751 M380.7 743.7V751 M435.2 743.7V751 M489.7 743.7V751 M544.2 743.7V751 M598.7 743.7V751 M653.2 743.7V751 M707.6 743.7V751 M762.1 743.7V751 M816.6 743.7V751 M871.1 743.7V751 M925.6 743.7V751" stroke="#000" stroke-width="4.6" stroke-linecap="round" fill="none"/>
<g style="font-family:'Liberation Serif','Times New Roman',serif;font-size:30.5px" fill="#000"><text x="81.9" y="790.5" text-anchor="middle">10</text><text x="136.4" y="790.5" text-anchor="middle">15</text><text x="190.9" y="790.5" text-anchor="middle">20</text><text x="245.3" y="790.5" text-anchor="middle">25</text><text x="299.8" y="790.5" text-anchor="middle">30</text><text x="354.3" y="790.5" text-anchor="middle">35</text><text x="408.8" y="790.5" text-anchor="middle">40</text><text x="463.3" y="790.5" text-anchor="middle">45</text><text x="517.8" y="790.5" text-anchor="middle">50</text><text x="572.2" y="790.5" text-anchor="middle">55</text><text x="626.7" y="790.5" text-anchor="middle">60</text><text x="681.2" y="790.5" text-anchor="middle">65</text><text x="735.7" y="790.5" text-anchor="middle">70</text><text x="790.2" y="790.5" text-anchor="middle">75</text><text x="844.6" y="790.5" text-anchor="middle">80</text><text x="899.1" y="790.5" text-anchor="middle">85</text><text x="953.6" y="790.5" text-anchor="middle">90</text></g>
<rect x="1079.3" y="15.2" width="865.5" height="727.2" fill="none" stroke="#000" stroke-width="4.8" stroke-linejoin="round"/>
<path d="M1079.2 742.4V757 M1199.3 742.4V757 M1319.5 742.4V757 M1439.6 742.4V757 M1559.7 742.4V757 M1679.8 742.4V757 M1800 742.4V757 M1920.1 742.4V757 M1139.3 742.4V750 M1259.4 742.4V750 M1379.5 742.4V750 M1499.7 742.4V750 M1619.8 742.4V750 M1739.9 742.4V750 M1860 742.4V750" stroke="#000" stroke-width="4.6" stroke-linecap="round" fill="none"/>
<g style="font-family:'Liberation Serif','Times New Roman',serif;font-size:30.5px" fill="#000"><text x="1079.5" y="788.6" text-anchor="middle">4000</text><text x="1199.6" y="788.6" text-anchor="middle">3500</text><text x="1319.8" y="788.6" text-anchor="middle">3000</text><text x="1439.9" y="788.6" text-anchor="middle">2500</text><text x="1560" y="788.6" text-anchor="middle">2000</text><text x="1680.1" y="788.6" text-anchor="middle">1500</text><text x="1800.3" y="788.6" text-anchor="middle">1000</text><text x="1920.4" y="788.6" text-anchor="middle">500</text></g>
<polyline points="1079.5,46.5 1079.9,46.5 1080.2,46.5 1080.6,46.5 1081.1,46.5 1081.5,46.5 1082,46.5 1082.5,46.5 1083,46.5 1083.5,46.4 1084,46.4 1084.6,46.4 1085.2,46.4 1085.8,46.4 1086.4,46.4 1087,46.4 1087.7,46.4 1088.3,46.4 1089,46.4 1089.7,46.4 1090.4,46.4 1091.1,46.4 1091.8,46.3 1092.5,46.3 1093.3,46.3 1094,46.3 1094.8,46.3 1095.5,46.3 1096.3,46.3 1097.1,46.3 1097.9,46.3 1098.6,46.3 1099.4,46.2 1100.2,46.2 1101,46.2 1101.8,46.2 1102.7,46.2 1103.5,46.2 1104.3,46.2 1105.1,46.2 1105.9,46.2 1106.7,46.1 1107.5,46.1 1108.3,46.1 1109.2,46.1 1110,46.1 1110.8,46.1 1111.6,46.1 1112.4,46.1 1113.1,46.1 1113.9,46.1 1114.7,46 1115.5,46 1116.2,46 1117,46 1117.7,46 1118.5,46 1119.2,46 1119.9,46 1120.6,46 1121.3,46 1122,45.9 1122.7,45.9 1123.3,45.9 1124,45.9 1124.6,45.9 1125.2,45.9 1126,45.9 1126.8,45.9 1127.6,45.9 1128.3,45.8 1129.1,45.8 1129.8,45.8 1130.6,45.8 1131.3,45.8 1132,45.8 1132.7,45.7 1133.4,45.7 1134.1,45.7 1134.8,45.7 1135.5,45.7 1136.1,45.6 1136.8,45.6 1137.4,45.6 1138.1,45.6 1138.7,45.6 1139.4,45.5 1140,45.5 1140.7,45.5 1141.3,45.5 1142,45.5 1142.6,45.4 1143.2,45.4 1143.9,45.4 1144.5,45.4 1145.1,45.4 1145.8,45.4 1146.4,45.4 1147.1,45.3 1147.7,45.3 1148.4,45.3 1149,45.3 1149.7,45.3 1150.3,45.3 1151,45.3 1151.7,45.3 1152.4,45.3 1153.1,45.3 1153.8,45.3 1154.5,45.3 1155.2,45.3 1156,45.3 1156.7,45.3 1157.5,45.4 1158.2,45.4 1159,45.4 1159.6,45.4 1160.3,45.4 1160.9,45.5 1161.6,45.5 1162.2,45.5 1162.9,45.5 1163.6,45.6 1164.2,45.6 1164.9,45.6 1165.6,45.7 1166.3,45.7 1167,45.7 1167.8,45.8 1168.5,45.8 1169.2,45.9 1169.9,45.9 1170.7,46 1171.4,46 1172.1,46.1 1172.9,46.1 1173.6,46.1 1174.4,46.2 1175.1,46.2 1175.9,46.3 1176.6,46.4 1177.4,46.4 1178.1,46.5 1178.9,46.5 1179.7,46.6 1180.4,46.6 1181.2,46.7 1181.9,46.7 1182.7,46.8 1183.4,46.8 1184.2,46.9 1184.9,46.9 1185.6,47 1186.4,47 1187.1,47.1 1187.8,47.1 1188.6,47.2 1189.3,47.2 1190,47.3 1190.7,47.3 1191.4,47.4 1192.1,47.4 1192.8,47.5 1193.4,47.5 1194.1,47.6 1194.8,47.6 1195.4,47.7 1196.1,47.7 1196.7,47.7 1197.4,47.8 1198,47.8 1198.6,47.8 1199.2,47.9 1199.8,47.9 1200.3,47.9 1200.9,48 1201.5,48 1202,48 1203,48 1203.9,48.1 1204.8,48.1 1205.6,48.1 1206.5,48.1 1207.3,48.1 1208.1,48.1 1208.8,48.1 1209.6,48.1 1210.3,48.1 1211,48.1 1211.7,48.1 1212.3,48.1 1213,48.1 1213.6,48.1 1214.2,48.1 1214.8,48 1215.4,48 1216,48 1216.6,48 1217.2,48 1217.8,48 1218.4,47.9 1219,47.9 1219.6,47.9 1220.2,47.9 1220.8,47.9 1221.4,47.9 1222,47.9 1222.6,47.9 1223.2,47.9 1223.9,48 1224.5,48 1225.2,48 1225.9,48 1226.6,48.1 1227.2,48.1 1227.9,48.1 1228.5,48.2 1229.1,48.2 1229.7,48.2 1230.3,48.3 1230.9,48.3 1231.5,48.3 1232.1,48.4 1232.6,48.4 1233.2,48.4 1233.8,48.5 1234.4,48.5 1235,48.6 1235.6,48.6 1236.2,48.7 1236.9,48.8 1237.5,48.8 1238.2,48.9 1238.9,48.9 1239.6,49 1240.3,49.1 1241.1,49.2 1241.9,49.3 1242.7,49.4 1243.5,49.4 1244.4,49.5 1245.3,49.7 1246.3,49.8 1247.3,49.9 1248.3,50 1248.8,50.1 1249.4,50.1 1249.9,50.2 1250.4,50.3 1251,50.3 1251.6,50.4 1252.2,50.5 1252.7,50.5 1253.3,50.6 1253.9,50.7 1254.5,50.8 1255.2,50.9 1255.8,50.9 1256.4,51 1257.1,51.1 1257.7,51.2 1258.4,51.3 1259,51.4 1259.7,51.5 1260.3,51.5 1261,51.6 1261.7,51.7 1262.4,51.8 1263.1,51.9 1263.8,52 1264.5,52.1 1265.2,52.2 1265.9,52.3 1266.6,52.4 1267.3,52.5 1268,52.6 1268.8,52.7 1269.5,52.8 1270.2,52.9 1271,53 1271.7,53.1 1272.4,53.2 1273.2,53.3 1273.9,53.4 1274.7,53.5 1275.4,53.6 1276.1,53.7 1276.9,53.8 1277.6,53.9 1278.4,54 1279.1,54.1 1279.9,54.2 1280.6,54.3 1281.4,54.4 1282.1,54.5 1282.9,54.6 1283.6,54.7 1284.3,54.8 1285.1,54.9 1285.8,55 1286.6,55.1 1287.3,55.2 1288,55.3 1288.8,55.4 1289.5,55.5 1290.2,55.6 1290.9,55.7 1291.7,55.8 1292.4,55.9 1293.1,56 1293.8,56.1 1294.5,56.2 1295.2,56.3 1295.9,56.4 1296.6,56.5 1297.3,56.6 1298,56.7 1298.7,56.8 1299.4,56.9 1300.1,57 1300.9,57.1 1301.6,57.2 1302.3,57.3 1303.1,57.4 1303.8,57.5 1304.6,57.6 1305.3,57.7 1306.1,57.8 1306.8,57.9 1307.6,58 1308.3,58.1 1309.1,58.2 1309.9,58.3 1310.6,58.4 1311.4,58.5 1312.2,58.6 1312.9,58.7 1313.7,58.8 1314.4,58.9 1315.2,59.1 1316,59.2 1316.7,59.3 1317.5,59.4 1318.2,59.5 1319,59.6 1319.8,59.7 1320.5,59.8 1321.2,59.9 1322,60 1322.7,60.1 1323.5,60.2 1324.2,60.3 1324.9,60.4 1325.6,60.5 1326.3,60.6 1327.1,60.7 1327.8,60.7 1328.5,60.8 1329.2,60.9 1329.8,61 1330.5,61.1 1331.2,61.2 1331.8,61.3 1332.5,61.3 1333.2,61.4 1333.8,61.5 1334.4,61.6 1335,61.6 1335.7,61.7 1336.3,61.8 1336.9,61.8 1337.4,61.9 1338,61.9 1338.6,62 1339.1,62 1339.7,62.1 1340.2,62.1 1340.7,62.2 1341.2,62.2 1341.7,62.3 1342.2,62.3 1343.4,62.4 1344.5,62.4 1345.6,62.5 1346.6,62.5 1347.5,62.5 1348.3,62.5 1349.1,62.5 1349.8,62.5 1350.5,62.4 1351.2,62.3 1351.8,62.3 1352.3,62.2 1352.9,62.1 1353.4,62 1353.9,61.9 1354.4,61.8 1354.9,61.7 1355.4,61.6 1355.9,61.5 1356.4,61.4 1356.9,61.3 1357.5,61.2 1358.1,61.1 1358.7,61 1359.3,60.9 1360,60.8 1360.7,60.7 1361.3,60.6 1362,60.5 1362.7,60.4 1363.4,60.3 1364.1,60.2 1364.8,60.1 1365.6,60 1366.3,59.9 1367,59.7 1367.7,59.6 1368.4,59.5 1369.2,59.4 1369.9,59.2 1370.6,59.1 1371.3,59 1372,58.9 1372.7,58.8 1373.4,58.6 1374.1,58.5 1374.7,58.4 1375.4,58.3 1376,58.2 1376.7,58.1 1377.3,58 1377.9,57.9 1378.4,57.8 1379,57.7 1379.8,57.6 1380.6,57.5 1381.2,57.4 1381.7,57.3 1382.2,57.2 1382.6,57.1 1383,57.1 1383.5,57 1383.9,57 1384.4,56.9 1385,56.8 1385.6,56.7 1386.3,56.7 1387.2,56.6 1388.2,56.5 1389.4,56.3 1390.8,56.2 1391.3,56.2 1391.7,56.1 1392.2,56.1 1392.7,56 1393.3,55.9 1393.8,55.9 1394.3,55.8 1394.9,55.8 1395.5,55.7 1396.1,55.6 1396.7,55.6 1397.3,55.5 1397.9,55.4 1398.6,55.4 1399.2,55.3 1399.9,55.2 1400.6,55.2 1401.3,55.1 1401.9,55 1402.6,54.9 1403.4,54.9 1404.1,54.8 1404.8,54.7 1405.5,54.6 1406.2,54.6 1407,54.5 1407.7,54.4 1408.5,54.3 1409.2,54.2 1410,54.2 1410.7,54.1 1411.5,54 1412.3,53.9 1413,53.9 1413.8,53.8 1414.6,53.7 1415.3,53.7 1416.1,53.6 1416.9,53.5 1417.6,53.4 1418.4,53.4 1419.2,53.3 1419.9,53.3 1420.7,53.2 1421.4,53.1 1422.2,53.1 1422.9,53 1423.7,53 1424.4,52.9 1425.1,52.9 1425.8,52.8 1426.5,52.8 1427.2,52.7 1427.9,52.7 1428.6,52.6 1429.3,52.6 1430,52.6 1430.7,52.5 1431.5,52.5 1432.2,52.5 1433,52.4 1433.7,52.4 1434.5,52.4 1435.3,52.4 1436.1,52.3 1436.8,52.3 1437.6,52.3 1438.4,52.3 1439.2,52.3 1440,52.2 1440.8,52.2 1441.6,52.2 1442.4,52.2 1443.2,52.2 1444,52.2 1444.8,52.2 1445.6,52.1 1446.4,52.1 1447.2,52.1 1448,52.1 1448.8,52.1 1449.5,52.1 1450.3,52.1 1451.1,52.1 1451.8,52.1 1452.6,52.1 1453.3,52.1 1454,52.1 1454.8,52.1 1455.5,52.1 1456.2,52.1 1456.9,52.1 1457.5,52.1 1458.2,52.1 1458.9,52.2 1459.5,52.2 1460.1,52.2 1460.7,52.2 1461.3,52.2 1461.9,52.2 1462.4,52.2 1463,52.2 1463.5,52.2 1464,52.2 1464.5,52.2 1464.9,52.3 1465.4,52.3 1465.8,52.3 1466.2,52.3 1468.7,52.4 1469.9,52.6 1470.2,52.8 1470,53.1 1469.7,53.5 1470,54 1470.6,54.8 1471.3,55.9 1471.9,57.1 1472.6,58.3 1473.2,59.2 1473.9,59.7 1474.6,59.7 1475.2,59.4 1475.9,58.8 1476.6,58.1 1477.3,57.5 1478,57.2 1478.6,57.2 1479.1,57.2 1479.7,57.4 1480.3,57.6 1481,57.8 1481.6,57.9 1482.3,57.9 1483.1,57.7 1483.6,57.5 1484.1,57.2 1484.5,56.9 1484.9,56.5 1485.3,56.1 1485.8,55.7 1486.4,55.3 1487,54.8 1487.7,54.4 1488.6,53.9 1489.6,53.5 1490.8,53.1 1491.3,53 1491.7,52.8 1492.2,52.7 1492.7,52.5 1493.2,52.4 1493.8,52.3 1494.3,52.1 1494.8,52 1495.4,51.8 1496,51.7 1496.6,51.5 1497.2,51.4 1497.8,51.2 1498.4,51.1 1499.1,50.9 1499.8,50.8 1500.4,50.7 1501.1,50.5 1501.8,50.4 1502.5,50.2 1503.2,50.1 1504,50 1504.7,49.8 1505.5,49.7 1506.3,49.6 1507.1,49.4 1507.9,49.3 1508.7,49.2 1509.5,49.1 1510.4,48.9 1511.2,48.8 1512.1,48.7 1513,48.6 1513.9,48.5 1514.5,48.4 1515,48.4 1515.6,48.3 1516.2,48.3 1516.8,48.2 1517.4,48.1 1518.1,48.1 1518.7,48 1519.4,48 1520,47.9 1520.7,47.9 1521.4,47.8 1522.1,47.8 1522.8,47.7 1523.5,47.7 1524.2,47.6 1524.9,47.5 1525.7,47.5 1526.4,47.5 1527.1,47.4 1527.9,47.4 1528.6,47.3 1529.4,47.3 1530.1,47.2 1530.9,47.2 1531.6,47.1 1532.4,47.1 1533.1,47 1533.9,47 1534.7,47 1535.4,46.9 1536.2,46.9 1536.9,46.8 1537.7,46.8 1538.4,46.8 1539.2,46.7 1539.9,46.7 1540.6,46.7 1541.4,46.6 1542.1,46.6 1542.8,46.6 1543.5,46.5 1544.2,46.5 1544.9,46.5 1545.6,46.5 1546.3,46.4 1546.9,46.4 1547.6,46.4 1548.2,46.3 1548.9,46.3 1549.5,46.3 1550.1,46.3 1550.7,46.3 1551.3,46.2 1551.8,46.2 1552.4,46.2 1553.3,46.2 1554.2,46.1 1555,46.1 1555.8,46.1 1556.5,46.1 1557.2,46.1 1557.9,46.1 1558.6,46.1 1559.2,46 1559.8,46 1560.4,46 1561,46 1561.5,46.1 1562.1,46.1 1562.6,46.1 1563.2,46.1 1563.7,46.1 1564.3,46.1 1564.9,46.1 1565.5,46.1 1566,46.2 1566.7,46.2 1567.3,46.2 1568,46.2 1568.6,46.3 1569.4,46.3 1570.1,46.3 1570.9,46.3 1571.7,46.4 1572.6,46.4 1573.5,46.4 1574.5,46.5 1575.5,46.5 1576,46.5 1576.6,46.5 1577.1,46.6 1577.7,46.6 1578.3,46.6 1578.9,46.6 1579.5,46.6 1580.1,46.7 1580.8,46.7 1581.4,46.7 1582.1,46.7 1582.8,46.7 1583.5,46.8 1584.2,46.8 1584.9,46.8 1585.6,46.8 1586.3,46.9 1587.1,46.9 1587.8,46.9 1588.6,46.9 1589.3,47 1590.1,47 1590.8,47 1591.6,47 1592.4,47.1 1593.2,47.1 1594,47.1 1594.7,47.2 1595.5,47.2 1596.3,47.2 1597.1,47.2 1597.9,47.3 1598.7,47.3 1599.5,47.3 1600.3,47.4 1601.1,47.4 1601.8,47.4 1602.6,47.5 1603.4,47.5 1604.2,47.5 1605,47.6 1605.7,47.6 1606.5,47.6 1607.2,47.7 1608,47.7 1608.7,47.7 1609.5,47.8 1610.2,47.8 1610.9,47.8 1611.6,47.9 1612.3,47.9 1613,47.9 1613.7,48 1614.3,48 1615,48.1 1615.6,48.1 1616.3,48.1 1616.9,48.2 1617.5,48.2 1618.1,48.2 1618.6,48.3 1619.2,48.3 1619.7,48.3 1620.2,48.4 1620.7,48.4 1621.2,48.5 1621.7,48.5 1623,48.6 1624.2,48.7 1625.3,48.9 1626.3,49 1627.2,49.2 1627.9,49.3 1628.7,49.5 1629.3,49.6 1629.9,49.8 1630.4,50 1630.9,50.1 1631.4,50.3 1631.9,50.4 1632.3,50.6 1632.8,50.8 1633.3,50.9 1633.8,51 1634.3,51.2 1634.9,51.3 1635.5,51.4 1636.2,51.5 1637,51.6 1637.6,51.7 1638.2,51.7 1638.8,51.8 1639.4,51.8 1640,51.9 1640.7,52 1641.3,52 1641.9,52.1 1642.6,52.1 1643.2,52.2 1643.9,52.2 1644.6,52.3 1645.3,52.3 1645.9,52.3 1646.6,52.4 1647.3,52.4 1648,52.4 1648.7,52.4 1649.4,52.5 1650.1,52.5 1650.8,52.5 1651.5,52.5 1652.2,52.5 1652.9,52.5 1653.7,52.5 1654.4,52.5 1655.1,52.4 1655.8,52.4 1656.5,52.4 1657.3,52.3 1658,52.3 1658.7,52.2 1659.3,52.2 1660,52.1 1660.7,52 1661.4,51.9 1662.2,51.8 1662.9,51.7 1663.7,51.6 1664.4,51.5 1665.2,51.4 1666,51.2 1666.8,51.1 1667.5,51 1668.3,50.8 1669.1,50.7 1669.9,50.5 1670.6,50.4 1671.4,50.2 1672.2,50.1 1672.9,49.9 1673.7,49.8 1674.4,49.7 1675.1,49.5 1675.8,49.4 1676.5,49.3 1677.1,49.2 1677.8,49 1678.4,48.9 1679,48.8 1679.6,48.8 1680.1,48.7 1680.6,48.6 1681.1,48.6 1681.6,48.5 1682,48.5 1683.6,48.5 1684.6,48.7 1685.1,49 1685.3,49.4 1685.5,49.8 1685.8,50.3 1686.6,50.8 1687.1,51.1 1687.8,51.4 1688.4,51.7 1689.1,52.1 1689.9,52.5 1690.6,52.9 1691.4,53.2 1692.2,53.6 1693,54 1693.7,54.3 1694.4,54.5 1695.1,54.7 1695.7,54.9 1696.3,54.9 1697.1,54.8 1697.7,54.4 1698.2,53.9 1698.7,53.3 1699.2,52.7 1699.8,52 1700.6,51.3 1701.6,50.8 1702.1,50.6 1702.6,50.4 1703.2,50.2 1703.8,50 1704.4,49.8 1705,49.6 1705.7,49.4 1706.3,49.2 1707,49 1707.7,48.9 1708.5,48.7 1709.2,48.5 1709.9,48.3 1710.7,48.1 1711.4,48 1712.2,47.8 1712.9,47.7 1713.7,47.5 1714.4,47.4 1715.1,47.3 1715.7,47.2 1716.4,47.1 1717,47 1717.6,47 1718.2,46.9 1718.8,46.8 1719.3,46.8 1719.9,46.7 1720.5,46.7 1721.1,46.7 1721.8,46.6 1722.4,46.6 1723,46.6 1723.7,46.5 1724.4,46.5 1725.1,46.5 1725.8,46.5 1726.6,46.4 1727.4,46.4 1728.3,46.4 1729.2,46.3 1730.1,46.3 1730.7,46.3 1731.2,46.3 1731.8,46.2 1732.4,46.2 1733.1,46.2 1733.7,46.1 1734.4,46.1 1735.1,46.1 1735.8,46.1 1736.5,46 1737.2,46 1737.9,46 1738.7,45.9 1739.4,45.9 1740.2,45.9 1741,45.8 1741.7,45.8 1742.5,45.8 1743.3,45.8 1744,45.7 1744.8,45.7 1745.6,45.7 1746.3,45.7 1747.1,45.6 1747.9,45.6 1748.6,45.6 1749.4,45.6 1750.1,45.6 1750.8,45.5 1751.5,45.5 1752.2,45.5 1752.9,45.5 1753.6,45.5 1754.2,45.5 1754.9,45.5 1755.5,45.5 1756.1,45.5 1756.6,45.5 1757.2,45.5 1758.1,45.5 1759,45.5 1759.9,45.6 1760.7,45.6 1761.5,45.6 1762.3,45.6 1763,45.7 1763.7,45.7 1764.4,45.7 1765.1,45.8 1765.8,45.8 1766.4,45.9 1767,46 1767.6,46 1768.2,46.1 1768.8,46.2 1769.4,46.3 1769.9,46.4 1770.5,46.5 1771.1,46.7 1771.6,46.8 1772.2,47 1773,47.2 1773.8,47.5 1774.6,47.8 1775.3,48 1776.1,48.3 1776.8,48.6 1777.4,48.9 1778.1,49.3 1778.7,49.7 1779.4,50.1 1780,50.6 1780.6,51.1 1781.2,51.7 1781.8,52.3 1782.4,53 1782.5,53.1 1782.8,57 1784.9,57 1785.2,62.2 1787.3,62.2 1787.7,67.9 1789.7,67.9 1790.1,73.7 1792.1,73.7 1792.5,79.9 1794.5,79.9 1794.9,85.6 1796.9,85.6 1797.3,91.4 1799.3,91.4 1799.7,91.9 1799.5,91.9 1800,92.9 1800.7,94.3 1801.4,95.3 1802.1,96.1 1802.8,96.4 1803.5,96.3 1804.1,95.8 1804.8,95.1 1805.5,94.1 1806.1,92.9 1806.8,91.7 1807.5,90.3 1808.2,88.9 1808.8,87.6 1809.5,86.4 1810.2,85.2 1810.8,83.9 1811.5,82.5 1812.2,81 1812.9,79.6 1813.5,78.2 1814.2,76.8 1814.8,75.5 1815.4,74.4 1816,73.4 1816.7,72.2 1817.3,71.2 1817.8,70.4 1818.3,69.7 1818.9,69.2 1819.7,68.8 1820.8,68.6 1821.3,68.6 1821.8,68.6 1822.4,68.7 1823,68.8 1823.6,68.9 1824.3,69.1 1825,69.3 1825.7,69.5 1826.4,69.8 1827.1,70 1827.8,70.2 1828.6,70.5 1829.3,70.7 1830.1,70.9 1830.8,71.1 1831.6,71.2 1832.3,71.4 1833,71.5 1833.7,71.5 1834.4,71.5 1835.1,71.5 1835.7,71.4 1836.4,71.3 1837.1,71.1 1837.7,71 1838.4,70.8 1839.1,70.6 1839.8,70.4 1840.4,70.2 1841.1,70.1 1841.8,69.9 1842.5,69.7 1843.2,69.6 1843.9,69.5 1844.6,69.4 1845.3,69.4 1846,69.4 1846.7,69.4 1847.4,69.5 1848,69.6 1848.7,69.8 1849.4,70 1850.1,70.2 1850.9,70.5 1851.6,70.8 1852.3,71.1 1853,71.4 1853.7,71.7 1854.5,72 1855.2,72.3 1855.9,72.6 1856.6,72.9 1857.3,73.2 1858,73.5 1858.7,73.7 1859.4,73.9 1860,74 1860.7,74.1 1861.3,74.2 1862.1,74.2 1862.8,74.2 1863.5,74.1 1864.3,73.9 1865,73.7 1865.7,73.5 1866.3,73.3 1867,73 1867.7,72.8 1868.3,72.5 1869,72.2 1869.6,72 1870.2,71.7 1870.8,71.5 1871.4,71.3 1872,71.1 1872.6,71 1873.4,70.9 1874.1,70.9 1874.7,70.9 1875.4,71 1876,71.1 1876.6,71.2 1877.1,71.3 1877.8,71.4 1878.4,71.4 1879.1,71.3 1879.9,71.2 1880.7,71 1881.3,70.8 1881.9,70.5 1882.6,70.2 1883.2,69.9 1884,69.5 1884.7,69.1 1885.4,68.7 1886.2,68.3 1887,67.8 1887.7,67.4 1888.5,66.9 1889.2,66.5 1890,66.1 1890.7,65.7 1891.3,65.4 1892,65.1 1892.6,64.8 1893.1,64.6 1893.6,64.5 1894.6,64.2 1895.3,64 1896,63.8 1896.4,63.8 1896.9,64.1 1897.3,64.6 1897.9,65.5 1898.5,66.9 1898.9,67.9 1899.2,69.1 1899.6,70.5 1900,72.1 1900.4,73.9 1900.8,75.7 1901.2,77.6 1901.7,79.6 1902.1,81.4 1902.5,83.3 1902.9,85 1903.3,86.5 1903.8,87.9 1904.2,89 1904.6,89.9 1905,90.4 1905.6,90.6 1906.3,90.2 1906.9,89.2 1907.6,87.9 1908.2,86.2 1908.8,84.4 1909.5,82.6 1910.1,80.9 1910.8,79.4 1911.4,78.3 1912,77.4 1912.7,76.6 1913.3,75.8 1914,75.1 1914.6,74.4 1915.3,73.8 1915.9,73.3 1916.6,72.7 1917.2,72.3 1917.9,71.8 1918.5,71.4 1919.2,70.9 1919.8,70.5 1920.5,70.2 1921.1,69.8 1921.7,69.6 1922.4,69.4 1923,69.3 1923.7,69.3 1924.4,69.4 1925,69.6 1925.7,70 1926.4,70.6 1927,71.2 1927.7,71.8 1928.4,72.5 1929.1,73.2 1929.8,73.8 1930.4,74.3 1931.1,74.7 1931.7,75 1932.5,75.1 1933.2,75.2 1934,75.1 1934.7,74.9 1935.4,74.7 1936.1,74.3 1936.7,74 1937.3,73.5 1937.8,73.1 1938.5,72.1 1939,70.8 1939.3,69.3 1939.7,68 1940.1,66.8 1940.7,66 1941.3,65.5 1941.9,65 1942.5,64.4 1943,63.3 1943.3,62.1 1943.5,60.6 1943.7,58.9 1943.9,57.2 1944.1,55.5 1944.2,54.2 1944.3,53.2" fill="none" stroke="#00ff00" stroke-width="3.4" stroke-linejoin="round" stroke-linecap="round"/>
<polyline points="1079.5,231.9 1079.9,231.9 1080.2,231.9 1080.7,231.9 1081.1,231.9 1081.5,231.9 1082,231.9 1082.5,231.9 1083,231.9 1083.6,231.9 1084.1,231.9 1084.7,231.9 1085.3,232 1085.9,232 1086.5,232 1087.2,232 1087.8,232 1088.5,232 1089.2,232 1089.9,232 1090.6,232 1091.3,232 1092,232 1092.8,232 1093.6,232 1094.3,232 1095.1,232 1095.9,232 1096.7,232 1097.5,232 1098.3,232.1 1099.1,232.1 1100,232.1 1100.8,232.1 1101.6,232.1 1102.5,232.1 1103.3,232.1 1104.2,232.1 1105,232.1 1105.9,232.1 1106.7,232.1 1107.6,232.1 1108.5,232.1 1109.3,232.1 1110.2,232.2 1111,232.2 1111.9,232.2 1112.7,232.2 1113.6,232.2 1114.4,232.2 1115.3,232.2 1116.1,232.2 1116.9,232.2 1117.8,232.2 1118.6,232.2 1119.4,232.3 1120.2,232.3 1121,232.3 1121.8,232.3 1122.5,232.3 1123.3,232.3 1124.1,232.3 1124.8,232.3 1125.5,232.3 1126.3,232.4 1127,232.4 1127.7,232.4 1128.3,232.4 1129,232.4 1129.6,232.4 1130.3,232.4 1130.9,232.4 1131.5,232.5 1132.1,232.5 1132.6,232.5 1133.2,232.5 1133.7,232.5 1134.2,232.5 1134.7,232.6 1135.1,232.6 1135.6,232.6 1136,232.6 1138.1,232.7 1139.7,232.8 1141,233 1141.9,233.2 1142.5,233.3 1142.9,233.5 1143.2,233.7 1143.3,233.9 1143.4,234 1143.5,234.2 1143.7,234.3 1144,234.4 1144.5,234.5 1145.2,234.6 1145.7,234.6 1146.3,234.6 1146.8,234.6 1147.2,234.5 1147.7,234.5 1148.2,234.4 1148.6,234.3 1149.1,234.2 1149.6,234.1 1150.1,234 1150.7,233.9 1151.3,233.8 1151.9,233.7 1152.6,233.7 1153.3,233.6 1154.1,233.6 1155,233.6 1155.9,233.6 1157,233.6 1158.1,233.7 1159.3,233.8 1160.6,233.9 1161.1,234 1161.6,234 1162.1,234.1 1162.6,234.1 1163.1,234.2 1163.7,234.3 1164.3,234.4 1164.8,234.5 1165.4,234.6 1166,234.6 1166.7,234.7 1167.3,234.8 1167.9,234.9 1168.6,235 1169.2,235.2 1169.9,235.3 1170.6,235.4 1171.3,235.5 1172,235.6 1172.7,235.7 1173.4,235.9 1174.1,236 1174.9,236.1 1175.6,236.3 1176.3,236.4 1177.1,236.5 1177.8,236.7 1178.6,236.8 1179.3,236.9 1180.1,237.1 1180.9,237.2 1181.7,237.3 1182.4,237.5 1183.2,237.6 1184,237.8 1184.8,237.9 1185.5,238 1186.3,238.2 1187.1,238.3 1187.9,238.4 1188.6,238.6 1189.4,238.7 1190.2,238.9 1191,239 1191.7,239.1 1192.5,239.3 1193.3,239.4 1194,239.5 1194.8,239.6 1195.5,239.8 1196.3,239.9 1197,240 1197.7,240.1 1198.4,240.2 1199.2,240.3 1199.9,240.5 1200.6,240.6 1201.3,240.7 1201.9,240.8 1202.6,240.9 1203.3,240.9 1203.9,241 1204.6,241.1 1205.2,241.2 1206,241.3 1206.8,241.4 1207.5,241.5 1208.3,241.6 1209.1,241.6 1209.9,241.7 1210.6,241.8 1211.4,241.9 1212.2,241.9 1212.9,242 1213.7,242.1 1214.4,242.1 1215.2,242.2 1215.9,242.2 1216.7,242.3 1217.4,242.3 1218.1,242.4 1218.9,242.4 1219.6,242.5 1220.3,242.5 1221,242.5 1221.8,242.6 1222.5,242.6 1223.2,242.7 1223.9,242.7 1224.6,242.7 1225.3,242.8 1226,242.8 1226.7,242.8 1227.4,242.9 1228,242.9 1228.7,243 1229.4,243 1230.1,243 1230.7,243.1 1231.4,243.1 1232,243.1 1232.7,243.2 1233.3,243.2 1233.9,243.3 1234.6,243.3 1235.2,243.4 1235.8,243.4 1236.4,243.5 1237.1,243.5 1237.7,243.6 1238.3,243.6 1238.9,243.7 1239.4,243.8 1240,243.8 1240.6,243.9 1241.4,244 1242.3,244.1 1243,244.2 1243.8,244.4 1244.5,244.5 1245.2,244.6 1245.9,244.7 1246.6,244.9 1247.2,245 1247.8,245.2 1248.4,245.3 1249,245.4 1249.6,245.6 1250.2,245.7 1250.8,245.9 1251.4,246 1252,246.2 1252.5,246.3 1253.1,246.5 1253.7,246.6 1254.3,246.8 1254.9,246.9 1255.5,247.1 1256.2,247.2 1256.8,247.3 1257.5,247.5 1258.2,247.6 1258.9,247.8 1259.6,247.9 1260.4,248 1261.1,248.1 1262,248.3 1262.8,248.4 1263.7,248.5 1264.3,248.6 1264.8,248.6 1265.4,248.7 1266,248.8 1266.6,248.8 1267.2,248.9 1267.8,249 1268.4,249 1269,249.1 1269.6,249.1 1270.3,249.2 1270.9,249.3 1271.6,249.3 1272.2,249.4 1272.9,249.4 1273.5,249.5 1274.2,249.5 1274.9,249.6 1275.6,249.6 1276.3,249.7 1276.9,249.7 1277.6,249.8 1278.3,249.8 1279,249.9 1279.8,249.9 1280.5,250 1281.2,250 1281.9,250.1 1282.6,250.2 1283.3,250.2 1284.1,250.3 1284.8,250.3 1285.5,250.4 1286.2,250.4 1287,250.5 1287.7,250.5 1288.4,250.6 1289.2,250.6 1289.9,250.7 1290.6,250.7 1291.4,250.8 1292.1,250.8 1292.8,250.9 1293.6,250.9 1294.3,251 1295,251 1295.8,251.1 1296.5,251.1 1297.2,251.2 1297.9,251.2 1298.7,251.3 1299.4,251.4 1300.1,251.4 1300.8,251.5 1301.5,251.5 1302.2,251.6 1302.9,251.7 1303.6,251.7 1304.3,251.8 1305,251.9 1305.7,251.9 1306.4,252 1307.1,252.1 1307.8,252.1 1308.5,252.2 1309.3,252.3 1310,252.3 1310.8,252.4 1311.5,252.5 1312.2,252.6 1313,252.6 1313.7,252.7 1314.5,252.8 1315.2,252.9 1316,253 1316.7,253 1317.5,253.1 1318.3,253.2 1319,253.3 1319.8,253.4 1320.5,253.4 1321.3,253.5 1322,253.6 1322.8,253.7 1323.5,253.7 1324.2,253.8 1325,253.9 1325.7,254 1326.4,254 1327.2,254.1 1327.9,254.2 1328.6,254.3 1329.3,254.3 1330,254.4 1330.7,254.5 1331.4,254.5 1332.1,254.6 1332.7,254.7 1333.4,254.7 1334.1,254.8 1334.7,254.8 1335.3,254.9 1336,255 1336.6,255 1337.2,255.1 1337.8,255.1 1338.4,255.2 1339,255.2 1339.5,255.2 1340.1,255.3 1340.6,255.3 1341.2,255.3 1341.7,255.4 1342.2,255.4 1343.3,255.5 1344.3,255.5 1345.2,255.5 1346.1,255.6 1347,255.6 1347.8,255.6 1348.6,255.6 1349.3,255.6 1350,255.5 1350.6,255.5 1351.2,255.5 1351.8,255.5 1352.4,255.4 1353,255.4 1353.5,255.3 1354.1,255.3 1354.6,255.2 1355.2,255.2 1355.7,255.1 1356.3,255 1356.8,255 1357.4,254.9 1358,254.8 1358.7,254.7 1359.3,254.7 1360,254.6 1360.7,254.5 1361.3,254.5 1361.9,254.4 1362.6,254.3 1363.2,254.2 1363.8,254.1 1364.5,254 1365.1,254 1365.7,253.9 1366.4,253.8 1367,253.7 1367.6,253.6 1368.3,253.5 1368.9,253.3 1369.6,253.2 1370.2,253.1 1370.9,253 1371.6,252.9 1372.2,252.8 1372.9,252.6 1373.6,252.5 1374.4,252.4 1375.1,252.3 1375.8,252.1 1376.6,252 1377.4,251.9 1378.2,251.7 1379,251.6 1379.6,251.5 1380.2,251.4 1380.8,251.3 1381.4,251.2 1382.1,251.1 1382.7,250.9 1383.3,250.8 1384,250.7 1384.6,250.6 1385.3,250.5 1386,250.3 1386.6,250.2 1387.3,250.1 1388,249.9 1388.7,249.8 1389.4,249.7 1390.1,249.5 1390.8,249.4 1391.5,249.3 1392.2,249.1 1392.9,249 1393.7,248.9 1394.4,248.7 1395.1,248.6 1395.8,248.5 1396.6,248.4 1397.3,248.2 1398,248.1 1398.8,248 1399.5,247.9 1400.3,247.7 1401,247.6 1401.7,247.5 1402.5,247.4 1403.2,247.3 1404,247.2 1404.7,247.1 1405.5,247 1406.2,246.9 1406.9,246.8 1407.5,246.7 1408.2,246.7 1408.9,246.6 1409.5,246.5 1410.2,246.5 1410.9,246.4 1411.6,246.3 1412.3,246.3 1413,246.2 1413.6,246.1 1414.3,246.1 1415,246 1415.7,246 1416.4,245.9 1417.1,245.8 1417.8,245.8 1418.5,245.7 1419.3,245.7 1420,245.6 1420.7,245.6 1421.4,245.5 1422.1,245.5 1422.8,245.4 1423.5,245.4 1424.2,245.3 1424.9,245.3 1425.7,245.3 1426.4,245.2 1427.1,245.2 1427.8,245.1 1428.5,245.1 1429.2,245 1429.9,245 1430.6,245 1431.4,244.9 1432.1,244.9 1432.8,244.8 1433.5,244.8 1434.2,244.8 1434.9,244.7 1435.6,244.7 1436.3,244.6 1437,244.6 1437.7,244.6 1438.4,244.5 1439.2,244.5 1439.9,244.4 1440.6,244.4 1441.4,244.3 1442.2,244.3 1443,244.3 1443.7,244.2 1444.5,244.2 1445.3,244.1 1446.1,244.1 1446.9,244 1447.7,244 1448.5,244 1449.3,243.9 1450.1,243.9 1450.9,243.8 1451.7,243.8 1452.5,243.8 1453.3,243.7 1454.1,243.7 1454.8,243.7 1455.6,243.6 1456.4,243.6 1457.1,243.6 1457.8,243.5 1458.6,243.5 1459.3,243.5 1460,243.5 1460.6,243.4 1461.3,243.4 1462,243.4 1462.6,243.4 1463.2,243.4 1463.8,243.4 1464.4,243.4 1464.9,243.4 1465.4,243.4 1465.9,243.4 1466.4,243.4 1466.9,243.4 1467.3,243.4 1467.7,243.4 1470.1,243.6 1471,244.1 1471,244.6 1470.8,245.3 1471,246 1471.6,246.9 1472.1,248.1 1472.7,249.3 1473.2,250.3 1473.9,250.8 1474.5,250.8 1475.1,250.5 1475.8,249.9 1476.5,249.3 1477.2,248.8 1478,248.5 1478.6,248.5 1479.1,248.6 1479.7,248.7 1480.3,248.9 1481,249.1 1481.6,249.2 1482.3,249.2 1483.1,249 1483.6,248.8 1484,248.5 1484.3,248.2 1484.6,247.8 1485,247.4 1485.3,247 1485.8,246.5 1486.4,246 1487.2,245.5 1488.1,245 1489.3,244.4 1490.8,243.9 1491.2,243.8 1491.7,243.6 1492.2,243.4 1492.7,243.3 1493.3,243.1 1493.8,242.9 1494.4,242.8 1495,242.6 1495.6,242.4 1496.2,242.2 1496.9,242 1497.5,241.8 1498.2,241.6 1498.9,241.4 1499.6,241.2 1500.3,241.1 1501,240.9 1501.8,240.7 1502.5,240.5 1503.2,240.3 1504,240.1 1504.8,239.9 1505.5,239.7 1506.3,239.5 1507.1,239.3 1507.9,239.1 1508.6,238.9 1509.4,238.7 1510.2,238.5 1511,238.3 1511.8,238.1 1512.6,238 1513.4,237.8 1514.1,237.6 1514.9,237.4 1515.7,237.3 1516.5,237.1 1517.2,237 1518,236.8 1518.7,236.7 1519.4,236.6 1520.2,236.4 1520.9,236.3 1521.6,236.2 1522.3,236.1 1522.9,236 1523.6,235.9 1524.2,235.8 1524.8,235.7 1525.4,235.6 1526,235.6 1526.6,235.5 1527.1,235.4 1527.7,235.3 1528.3,235.3 1528.8,235.2 1529.4,235.2 1529.9,235.1 1530.4,235 1531,235 1531.5,235 1532.1,234.9 1532.6,234.9 1533.2,234.8 1533.7,234.8 1534.3,234.8 1534.9,234.7 1535.5,234.7 1536.1,234.7 1536.7,234.6 1537.3,234.6 1537.9,234.6 1538.6,234.6 1539.3,234.5 1540,234.5 1540.7,234.5 1541.4,234.5 1542.2,234.4 1543,234.4 1543.8,234.4 1544.6,234.4 1545.5,234.4 1546.4,234.3 1547.3,234.3 1548.2,234.3 1549.2,234.3 1550.2,234.2 1551.3,234.2 1552.4,234.2 1552.9,234.2 1553.4,234.2 1554,234.2 1554.5,234.2 1555.1,234.1 1555.7,234.1 1556.3,234.1 1556.9,234.1 1557.5,234.1 1558.1,234.1 1558.7,234.1 1559.4,234.1 1560,234.1 1560.7,234.1 1561.4,234 1562.1,234 1562.8,234 1563.5,234 1564.2,234 1564.9,234 1565.6,234 1566.4,234 1567.1,234 1567.9,234 1568.6,234 1569.4,234 1570.1,234 1570.9,233.9 1571.7,233.9 1572.5,233.9 1573.3,233.9 1574.1,233.9 1574.9,233.9 1575.7,233.9 1576.5,233.9 1577.3,233.9 1578.1,233.9 1578.9,233.9 1579.7,233.9 1580.6,233.9 1581.4,233.9 1582.2,233.9 1583,233.9 1583.9,233.9 1584.7,233.9 1585.5,233.9 1586.3,233.9 1587.2,233.9 1588,233.9 1588.8,233.8 1589.6,233.8 1590.5,233.8 1591.3,233.8 1592.1,233.8 1592.9,233.8 1593.7,233.8 1594.5,233.8 1595.3,233.8 1596.1,233.8 1596.9,233.8 1597.7,233.8 1598.5,233.8 1599.3,233.8 1600.1,233.8 1600.9,233.8 1601.6,233.8 1602.4,233.8 1603.1,233.8 1603.9,233.8 1604.6,233.8 1605.4,233.8 1606.1,233.8 1606.8,233.8 1607.5,233.8 1608.2,233.8 1608.9,233.8 1609.6,233.8 1610.3,233.8 1610.9,233.8 1611.6,233.8 1612.2,233.8 1612.9,233.8 1613.5,233.8 1614.1,233.8 1614.7,233.8 1615.3,233.9 1615.9,233.9 1616.4,233.9 1617,233.9 1617.5,233.9 1618,233.9 1618.5,233.9 1619,233.9 1619.5,233.9 1620,233.9 1620.4,233.9 1620.9,233.9 1621.3,233.9 1621.7,233.9 1624.2,233.9 1626.1,234 1627.6,234 1628.6,234 1629.2,234.1 1629.6,234.1 1629.8,234.2 1629.8,234.2 1629.7,234.3 1629.7,234.4 1629.7,234.6 1629.9,234.7 1630.2,234.9 1630.9,235.1 1631.5,235.3 1632.1,235.5 1632.7,235.7 1633.3,235.9 1633.9,236.2 1634.6,236.5 1635.2,236.8 1635.9,237.1 1636.6,237.4 1637.3,237.7 1638,238 1638.7,238.3 1639.4,238.6 1640.1,238.9 1640.8,239.1 1641.5,239.4 1642.2,239.6 1642.9,239.8 1643.6,240 1644.3,240.1 1645,240.2 1645.7,240.3 1646.3,240.3 1647,240.4 1647.6,240.4 1648.2,240.4 1648.8,240.4 1649.4,240.3 1650.1,240.3 1650.7,240.2 1651.3,240.1 1651.9,240.1 1652.6,240 1653.2,239.8 1653.9,239.7 1654.6,239.6 1655.3,239.4 1656.1,239.3 1656.9,239.1 1657.7,239 1658.5,238.8 1659.4,238.6 1660,238.5 1660.6,238.3 1661.2,238.2 1661.9,238 1662.5,237.9 1663.2,237.7 1663.9,237.5 1664.7,237.3 1665.4,237.1 1666.2,236.9 1667,236.7 1667.7,236.4 1668.5,236.2 1669.3,236 1670.1,235.8 1670.9,235.5 1671.7,235.3 1672.5,235.1 1673.3,234.8 1674,234.6 1674.8,234.4 1675.6,234.2 1676.3,234 1677,233.8 1677.7,233.6 1678.4,233.4 1679.1,233.2 1679.7,233.1 1680.3,232.9 1680.9,232.8 1681.4,232.7 1682,232.6 1682.5,232.5 1682.9,232.4 1684.3,232.2 1685.3,232.2 1686,232.3 1686.5,232.5 1686.9,232.7 1687.2,233 1687.5,233.4 1688,233.7 1688.6,234 1689.2,234.3 1689.8,234.6 1690.5,235 1691.2,235.4 1691.9,235.8 1692.6,236.2 1693.4,236.6 1694.1,237 1694.8,237.3 1695.4,237.5 1696,237.7 1696.6,237.7 1697.3,237.6 1697.8,237.3 1698.2,236.8 1698.5,236.2 1699,235.6 1699.6,234.9 1700.4,234.1 1701.5,233.4 1702,233.2 1702.4,232.9 1703,232.6 1703.5,232.3 1704.1,232 1704.7,231.7 1705.3,231.4 1705.9,231.1 1706.6,230.8 1707.3,230.5 1708,230.1 1708.7,229.8 1709.4,229.5 1710.2,229.1 1710.9,228.8 1711.6,228.5 1712.4,228.2 1713.2,227.9 1713.9,227.6 1714.7,227.3 1715.4,227.1 1716.2,226.8 1717,226.6 1717.7,226.4 1718.3,226.2 1719,226.1 1719.7,225.9 1720.3,225.8 1721,225.6 1721.7,225.5 1722.4,225.4 1723.1,225.3 1723.8,225.1 1724.5,225 1725.2,224.9 1725.9,224.8 1726.6,224.8 1727.3,224.7 1728,224.6 1728.7,224.5 1729.4,224.4 1730.2,224.3 1730.9,224.3 1731.6,224.2 1732.3,224.1 1733,224.1 1733.7,224 1734.4,223.9 1735.1,223.9 1735.8,223.8 1736.4,223.8 1737.1,223.7 1737.8,223.6 1738.5,223.6 1739.2,223.5 1740,223.4 1740.7,223.4 1741.4,223.3 1742.1,223.2 1742.8,223.2 1743.5,223.1 1744.2,223.1 1744.9,223 1745.6,223 1746.3,222.9 1747,222.9 1747.7,222.8 1748.4,222.8 1749,222.8 1749.7,222.8 1750.4,222.8 1751,222.8 1751.7,222.8 1752.4,222.8 1753,222.8 1753.6,222.8 1754.3,222.9 1754.9,222.9 1755.7,223 1756.4,223 1757.2,223.1 1757.9,223.2 1758.7,223.3 1759.4,223.5 1760.2,223.6 1760.9,223.7 1761.6,223.9 1762.3,224 1763,224.2 1763.7,224.4 1764.4,224.6 1765.1,224.8 1765.8,225 1766.4,225.2 1767.1,225.4 1767.7,225.6 1768.3,225.9 1768.9,226.1 1769.5,226.4 1770.3,226.8 1771.1,227.2 1771.8,227.6 1772.5,228.1 1773.2,228.6 1773.9,229 1774.5,229.6 1775.1,230.1 1775.8,230.6 1776.4,231.2 1777,231.8 1777.6,232.3 1778.2,233 1778.8,233.6 1779.4,234.2 1780.1,234.9 1780.8,235.7 1781,235.9 1781.3,238.7 1783.4,238.7 1783.8,241.9 1785.8,241.9 1786.2,245.7 1788.2,245.7 1788.6,250.1 1790.6,250.1 1791,255.1 1793,255.1 1793.4,260.2 1795.4,260.2 1795.8,265.2 1797.8,265.2 1798.2,270.6 1800,270.6 1800,270.6 1800.6,272.2 1801.3,273.7 1801.9,275 1802.6,276 1803.2,276.9 1803.8,277.4 1804.5,277.6 1805.2,277.4 1805.8,276.8 1806.5,276 1807.2,274.9 1807.8,273.5 1808.5,272 1809.2,270.5 1809.8,268.8 1810.5,267.2 1811.1,265.6 1811.8,264.1 1812.4,262.8 1813.1,261.3 1813.9,259.6 1814.6,258 1815.3,256.3 1816,254.6 1816.7,253 1817.4,251.6 1818,250.2 1818.7,249 1819.3,248.1 1820,247.3 1820.6,246.7 1821.2,246.4 1821.8,246.3 1822.4,246.3 1823,246.4 1823.7,246.4 1824.5,246.4 1825,246.4 1825.6,246.4 1826.2,246.4 1826.9,246.5 1827.5,246.6 1828.2,246.6 1828.9,246.7 1829.6,246.8 1830.3,246.9 1831,246.9 1831.7,247 1832.5,246.9 1833.2,246.9 1833.8,246.8 1834.4,246.7 1835.1,246.5 1835.7,246.3 1836.3,246 1836.9,245.8 1837.5,245.5 1838.2,245.3 1838.9,245 1839.6,244.8 1840.3,244.7 1841.1,244.6 1841.9,244.5 1842.7,244.5 1843.6,244.6 1844.2,244.7 1844.8,244.8 1845.4,245 1846,245.2 1846.7,245.4 1847.4,245.7 1848.1,246 1848.8,246.3 1849.5,246.6 1850.3,246.9 1851,247.2 1851.8,247.6 1852.5,247.9 1853.3,248.2 1854,248.5 1854.8,248.9 1855.5,249.2 1856.2,249.5 1857,249.7 1857.7,250 1858.4,250.2 1859,250.4 1859.7,250.5 1860.3,250.6 1860.9,250.7 1861.7,250.7 1862.5,250.7 1863.3,250.6 1864.1,250.5 1864.8,250.3 1865.6,250.1 1866.3,249.9 1867,249.6 1867.7,249.3 1868.4,249.1 1869,248.8 1869.7,248.5 1870.3,248.2 1870.9,247.9 1871.4,247.7 1872,247.5 1872.5,247.3 1873,247.2 1873.9,247.1 1874.6,247 1875.1,247.1 1875.5,247.2 1876,247.3 1876.5,247.3 1877.2,247.2 1878.2,246.9 1878.7,246.7 1879.3,246.4 1879.9,246.1 1880.5,245.7 1881.2,245.4 1881.9,244.9 1882.6,244.5 1883.4,244 1884.2,243.6 1884.9,243.1 1885.7,242.7 1886.5,242.3 1887.2,241.9 1888,241.5 1888.7,241.1 1889.4,240.8 1890,240.6 1890.6,240.4 1891.2,240.3 1892,240.2 1892.8,240.1 1893.5,240 1894.2,240 1894.9,240 1895.5,240.1 1896.1,240.4 1896.7,240.7 1897.2,241.2 1897.8,241.9 1898.4,242.8 1899,243.8 1899.4,244.7 1899.9,245.9 1900.3,247.3 1900.7,248.9 1901.1,250.6 1901.5,252.3 1901.9,254.2 1902.4,256.1 1902.8,257.9 1903.2,259.7 1903.6,261.4 1904,263 1904.4,264.5 1904.8,265.7 1905.2,266.8 1905.6,267.5 1906,268 1906.7,268.1 1907.4,267.6 1908,266.6 1908.7,265.1 1909.3,263.3 1910,261.4 1910.7,259.4 1911.4,257.4 1912.1,255.6 1912.9,254.2 1913.5,253.2 1914.1,252.2 1914.8,251.1 1915.4,250 1916,249 1916.7,247.9 1917.4,247 1918.1,246 1918.7,245.2 1919.4,244.4 1920.2,243.8 1920.9,243.3 1921.6,242.9 1922.3,242.7 1922.9,242.7 1923.6,242.8 1924.4,243 1925.1,243.3 1925.9,243.6 1926.6,244 1927.4,244.4 1928.1,244.9 1928.8,245.3 1929.5,245.7 1930.2,246.1 1930.8,246.4 1931.4,246.7 1931.9,246.8 1932.9,246.9 1933.7,247 1934.4,246.9 1935,246.7 1935.5,246.4 1936,246.1 1936.5,245.8 1937.3,245.1 1938,244.3 1938.7,243.2 1939.3,242.1 1939.8,241 1940.3,239.8 1940.7,238.6 1941.1,237.3 1941.6,236.1 1942.2,235 1942.8,234.1 1943.4,232.8 1943.9,230.6 1944,229.6 1944.1,228.3 1944.2,226.9 1944.3,225.4 1944.3,223.7 1944.4,222.1 1944.4,220.4 1944.5,218.7 1944.5,217.1 1944.5,215.7 1944.5,214.4 1944.6,213.3 1944.6,212.5" fill="none" stroke="#0000ff" stroke-width="3.4" stroke-linejoin="round" stroke-linecap="round"/>
<polyline points="1079.5,388.6 1079.9,388.6 1080.2,388.5 1080.6,388.5 1081.1,388.5 1081.5,388.4 1082,388.4 1082.5,388.3 1083,388.3 1083.5,388.3 1084,388.2 1084.6,388.2 1085.1,388.1 1085.7,388.1 1086.3,388 1087,388 1087.6,387.9 1088.2,387.9 1088.9,387.8 1089.6,387.7 1090.3,387.7 1091,387.6 1091.7,387.6 1092.4,387.5 1093.1,387.4 1093.9,387.4 1094.6,387.3 1095.4,387.2 1096.1,387.2 1096.9,387.1 1097.7,387 1098.5,387 1099.3,386.9 1100.1,386.8 1100.9,386.8 1101.7,386.7 1102.5,386.6 1103.3,386.6 1104.1,386.5 1104.9,386.4 1105.8,386.4 1106.6,386.3 1107.4,386.2 1108.2,386.1 1109.1,386.1 1109.9,386 1110.7,385.9 1111.5,385.9 1112.3,385.8 1113.2,385.7 1114,385.7 1114.8,385.6 1115.6,385.5 1116.4,385.5 1117.2,385.4 1118,385.3 1118.7,385.3 1119.5,385.2 1120.3,385.1 1121,385.1 1121.8,385 1122.5,385 1123.2,384.9 1124,384.8 1124.7,384.8 1125.4,384.7 1126,384.7 1126.7,384.6 1127.4,384.6 1128,384.5 1128.6,384.5 1129.3,384.4 1129.8,384.4 1130.4,384.3 1131,384.3 1131.9,384.2 1132.8,384.2 1133.7,384.1 1134.6,384 1135.4,384 1136.3,383.9 1137.1,383.8 1138,383.8 1138.8,383.7 1139.6,383.6 1140.4,383.6 1141.2,383.5 1142,383.5 1142.7,383.4 1143.5,383.4 1144.2,383.3 1145,383.2 1145.7,383.2 1146.4,383.1 1147.1,383.1 1147.8,383 1148.5,383 1149.2,382.9 1149.9,382.9 1150.5,382.9 1151.2,382.8 1151.8,382.8 1152.5,382.7 1153.1,382.7 1153.7,382.7 1154.3,382.7 1154.9,382.6 1155.5,382.6 1156.1,382.6 1156.7,382.6 1157.3,382.5 1157.9,382.5 1158.4,382.5 1159,382.5 1159.5,382.5 1160.1,382.5 1160.6,382.5 1161.1,382.5 1161.7,382.5 1162.2,382.5 1163.2,382.5 1164.1,382.6 1165,382.6 1165.8,382.7 1166.6,382.8 1167.3,382.9 1168,383.1 1168.6,383.2 1169.3,383.3 1169.9,383.5 1170.5,383.6 1171,383.8 1171.6,383.9 1172.2,384.1 1172.7,384.2 1173.3,384.4 1173.9,384.5 1174.5,384.6 1175.1,384.7 1175.7,384.9 1176.4,385 1177.1,385 1177.8,385.1 1178.4,385.1 1179.1,385.2 1179.8,385.2 1180.4,385.2 1181.1,385.2 1181.8,385.2 1182.6,385.2 1183.3,385.2 1184,385.2 1184.8,385.2 1185.5,385.2 1186.3,385.2 1187,385.2 1187.8,385.2 1188.5,385.1 1189.3,385.1 1190,385.1 1190.7,385.1 1191.4,385.1 1192.1,385 1192.8,385 1193.4,385 1194.1,385 1194.7,385 1195.3,385 1195.8,385.1 1196.4,385.1 1196.9,385.1 1197.9,385.2 1198.7,385.3 1199.3,385.4 1199.9,385.6 1200.4,385.7 1200.8,385.9 1201.3,386.1 1201.7,386.2 1202.2,386.4 1202.9,386.5 1203.6,386.7 1204.5,386.8 1205.6,386.9 1206.1,386.9 1206.6,387 1207.2,387 1207.7,387 1208.3,387 1208.9,387 1209.6,387 1210.2,387 1210.9,387 1211.6,387 1212.3,387 1213.1,387 1213.8,387 1214.5,387 1215.3,387 1216,387 1216.8,387 1217.6,387 1218.3,387 1219.1,387 1219.8,387 1220.6,387 1221.3,387 1222.1,387.1 1222.8,387.1 1223.5,387.1 1224.2,387.1 1224.9,387.2 1225.6,387.2 1226.3,387.2 1226.9,387.3 1227.5,387.3 1228.1,387.4 1228.9,387.5 1229.7,387.6 1230.5,387.7 1231.2,387.8 1231.9,387.9 1232.6,387.9 1233.3,388 1234,388.2 1234.6,388.3 1235.3,388.4 1235.9,388.5 1236.5,388.6 1237.2,388.8 1237.8,389 1238.4,389.1 1239,389.3 1239.7,389.5 1240.3,389.8 1241,390 1241.6,390.3 1242.3,390.6 1243,390.9 1243.7,391.2 1244.4,391.5 1245,391.9 1245.7,392.3 1246.4,392.8 1247.1,393.2 1247.8,393.7 1248.4,394.2 1249.1,394.7 1249.8,395.3 1250.5,395.8 1251.2,396.4 1251.9,396.9 1252.6,397.5 1253.4,398.1 1254.1,398.6 1254.8,399.2 1255.5,399.7 1256.2,400.2 1256.9,400.7 1257.6,401.2 1258.3,401.7 1259,402.2 1259.7,402.6 1260.4,403 1261.1,403.3 1261.8,403.6 1262.5,403.9 1263.1,404.2 1263.8,404.4 1264.4,404.6 1265.1,404.8 1265.7,405 1266.3,405.1 1267,405.3 1267.6,405.4 1268.2,405.5 1268.9,405.7 1269.5,405.8 1270.2,405.9 1270.9,406 1271.5,406.1 1272.2,406.2 1272.9,406.4 1273.6,406.5 1274.4,406.7 1275.1,406.8 1275.9,407 1276.7,407.2 1277.5,407.5 1278.4,407.7 1279,407.9 1279.6,408.1 1280.2,408.2 1280.8,408.4 1281.5,408.6 1282.1,408.8 1282.8,409.1 1283.5,409.3 1284.1,409.5 1284.8,409.7 1285.5,409.9 1286.3,410.2 1287,410.4 1287.7,410.6 1288.4,410.9 1289.2,411.1 1289.9,411.3 1290.7,411.6 1291.4,411.8 1292.1,412.1 1292.9,412.3 1293.6,412.6 1294.3,412.8 1295.1,413.1 1295.8,413.3 1296.5,413.6 1297.2,413.8 1298,414.1 1298.6,414.3 1299.3,414.6 1300,414.8 1300.7,415 1301.3,415.3 1302,415.5 1302.6,415.7 1303.2,416 1303.8,416.2 1304.4,416.4 1305.2,416.7 1306.1,417.1 1306.8,417.4 1307.6,417.7 1308.3,418 1309,418.4 1309.7,418.7 1310.3,419 1311,419.3 1311.6,419.6 1312.2,419.9 1312.8,420.3 1313.5,420.6 1314.1,420.9 1314.7,421.2 1315.3,421.5 1316,421.8 1316.6,422.1 1317.3,422.4 1318,422.7 1318.7,423 1319.4,423.3 1320.2,423.6 1321,423.9 1321.8,424.2 1322.4,424.4 1323,424.6 1323.7,424.8 1324.3,425.1 1325,425.3 1325.7,425.5 1326.4,425.7 1327.1,426 1327.8,426.2 1328.5,426.4 1329.3,426.7 1330,426.9 1330.8,427.1 1331.6,427.3 1332.3,427.6 1333.1,427.8 1333.9,428 1334.6,428.2 1335.4,428.5 1336.1,428.7 1336.9,428.9 1337.7,429.1 1338.4,429.3 1339.1,429.5 1339.9,429.7 1340.6,429.8 1341.3,430 1342,430.2 1342.7,430.3 1343.3,430.5 1344,430.6 1344.6,430.7 1345.2,430.8 1345.8,430.9 1346.4,431 1346.9,431.1 1347.9,431.2 1348.7,431.3 1349.5,431.4 1350.2,431.5 1350.9,431.5 1351.5,431.5 1352.1,431.5 1352.6,431.4 1353.1,431.4 1353.7,431.3 1354.2,431.2 1354.7,431 1355.3,430.9 1355.9,430.7 1356.6,430.5 1357.3,430.2 1358.1,430 1359,429.7 1360,429.4 1360.5,429.2 1361.1,429.1 1361.6,428.9 1362.2,428.7 1362.8,428.4 1363.4,428.2 1364,428 1364.6,427.7 1365.3,427.5 1365.9,427.2 1366.6,426.9 1367.3,426.6 1367.9,426.4 1368.6,426.1 1369.3,425.8 1370,425.5 1370.8,425.2 1371.5,424.8 1372.2,424.5 1372.9,424.2 1373.7,423.9 1374.4,423.6 1375.1,423.3 1375.9,423 1376.6,422.6 1377.3,422.3 1378.1,422 1378.8,421.7 1379.6,421.4 1380.3,421.1 1381,420.8 1381.8,420.5 1382.5,420.3 1383.2,420 1383.9,419.7 1384.6,419.5 1385.3,419.2 1386,419 1386.7,418.8 1387.4,418.5 1388.1,418.3 1388.7,418.1 1389.4,417.9 1390.1,417.7 1390.8,417.5 1391.5,417.3 1392.2,417.1 1392.8,416.9 1393.5,416.7 1394.2,416.5 1394.9,416.3 1395.6,416.1 1396.3,415.9 1396.9,415.7 1397.6,415.5 1398.3,415.3 1399,415.2 1399.7,415 1400.4,414.8 1401.1,414.6 1401.7,414.4 1402.4,414.3 1403.1,414.1 1403.8,413.9 1404.5,413.8 1405.2,413.6 1405.8,413.4 1406.5,413.3 1407.2,413.1 1407.9,412.9 1408.6,412.8 1409.3,412.6 1409.9,412.5 1410.6,412.3 1411.3,412.2 1412,412 1412.7,411.8 1413.4,411.7 1414,411.5 1414.7,411.4 1415.4,411.2 1416.1,411.1 1416.8,410.9 1417.4,410.8 1418.1,410.6 1418.8,410.5 1419.5,410.3 1420.1,410.2 1420.8,410.1 1421.5,409.9 1422.2,409.8 1422.9,409.6 1423.5,409.5 1424.2,409.4 1424.9,409.2 1425.6,409.1 1426.2,409 1426.9,408.9 1427.6,408.7 1428.3,408.6 1429,408.5 1429.7,408.4 1430.3,408.3 1431,408.1 1431.7,408 1432.4,407.9 1433.1,407.8 1433.8,407.7 1434.5,407.6 1435.2,407.5 1435.9,407.5 1436.6,407.4 1437.3,407.3 1438,407.2 1438.7,407.1 1439.4,407.1 1440.1,407 1440.8,406.9 1441.6,406.9 1442.3,406.8 1443.1,406.7 1443.8,406.7 1444.6,406.6 1445.4,406.6 1446.2,406.5 1447,406.5 1447.8,406.4 1448.6,406.4 1449.4,406.4 1450.2,406.3 1451,406.3 1451.8,406.3 1452.5,406.2 1453.3,406.2 1454.1,406.2 1454.9,406.2 1455.6,406.1 1456.4,406.1 1457.1,406.1 1457.8,406.1 1458.5,406.1 1459.2,406 1459.9,406 1460.5,406 1461.2,406 1461.8,406 1462.4,406 1462.9,406 1463.5,406 1464,406 1464.5,406 1465,406 1465.4,406 1465.8,406 1468,406.1 1468.7,406.3 1468.7,406.7 1468.6,407.1 1469,407.5 1469.5,407.8 1470.1,408.3 1470.7,408.8 1471.4,409.2 1472,409.7 1472.8,410.1 1473.6,410.4 1474.4,410.6 1474.9,410.7 1475.4,410.8 1475.9,410.9 1476.3,411 1476.8,411 1477.3,411.1 1477.9,411 1478.5,410.9 1479.2,410.8 1480,410.5 1480.9,410.1 1481.9,409.6 1483.1,408.9 1483.6,408.6 1484.1,408.3 1484.6,407.9 1485.2,407.5 1485.8,407.1 1486.4,406.7 1487.1,406.2 1487.7,405.7 1488.4,405.2 1489.1,404.7 1489.8,404.1 1490.5,403.5 1491.3,403 1492,402.4 1492.8,401.8 1493.6,401.2 1494.3,400.6 1495.1,400 1495.9,399.4 1496.7,398.8 1497.4,398.2 1498.2,397.6 1499,397 1499.8,396.4 1500.5,395.8 1501.3,395.3 1502,394.7 1502.7,394.2 1503.5,393.7 1504.2,393.2 1504.8,392.8 1505.5,392.3 1506.2,391.9 1506.8,391.5 1507.4,391.2 1508.2,390.8 1508.9,390.3 1509.6,390 1510.3,389.6 1510.9,389.3 1511.5,389 1512,388.7 1512.5,388.4 1513.1,388.2 1513.6,388 1514.1,387.8 1514.6,387.6 1515.1,387.4 1515.7,387.3 1516.2,387.1 1516.8,387 1517.5,386.8 1518.2,386.7 1518.9,386.6 1519.7,386.4 1520.5,386.3 1521.5,386.1 1522.5,386 1523.5,385.9 1524.7,385.7 1525.2,385.6 1525.7,385.6 1526.2,385.5 1526.8,385.4 1527.3,385.4 1527.9,385.3 1528.5,385.2 1529.1,385.2 1529.7,385.1 1530.3,385 1530.9,385 1531.6,384.9 1532.2,384.8 1532.9,384.8 1533.6,384.7 1534.3,384.6 1535,384.6 1535.7,384.5 1536.4,384.5 1537.1,384.4 1537.8,384.3 1538.5,384.3 1539.3,384.2 1540,384.2 1540.7,384.1 1541.5,384 1542.3,384 1543,383.9 1543.8,383.9 1544.5,383.8 1545.3,383.8 1546.1,383.7 1546.9,383.7 1547.6,383.6 1548.4,383.6 1549.2,383.5 1550,383.5 1550.7,383.4 1551.5,383.4 1552.3,383.4 1553.1,383.3 1553.8,383.3 1554.6,383.3 1555.4,383.2 1556.1,383.2 1556.9,383.2 1557.6,383.2 1558.4,383.1 1559.1,383.1 1559.9,383.1 1560.6,383.1 1561.3,383.1 1562,383.1 1562.7,383.1 1563.4,383.1 1564.1,383.1 1564.8,383.1 1565.5,383.1 1566.2,383.1 1566.8,383.1 1567.5,383.1 1568.1,383.1 1568.9,383.1 1569.7,383.2 1570.4,383.2 1571.2,383.2 1572,383.3 1572.7,383.3 1573.5,383.4 1574.3,383.4 1575,383.5 1575.8,383.6 1576.5,383.7 1577.3,383.7 1578,383.8 1578.7,383.9 1579.5,384 1580.2,384.1 1580.9,384.2 1581.7,384.3 1582.4,384.4 1583.1,384.5 1583.8,384.6 1584.5,384.7 1585.2,384.8 1585.9,384.9 1586.6,385 1587.3,385.2 1588,385.3 1588.7,385.4 1589.4,385.5 1590.1,385.6 1590.8,385.7 1591.4,385.8 1592.1,386 1592.8,386.1 1593.4,386.2 1594.1,386.3 1594.7,386.4 1595.4,386.5 1596,386.6 1596.7,386.8 1597.3,386.9 1597.9,387 1598.6,387.1 1599.2,387.2 1599.8,387.3 1600.4,387.4 1601,387.4 1601.6,387.5 1602.2,387.6 1602.8,387.7 1603.6,387.8 1604.5,387.9 1605.3,388 1606.1,388.1 1606.9,388.2 1607.7,388.3 1608.5,388.4 1609.3,388.4 1610.1,388.5 1610.9,388.6 1611.6,388.6 1612.4,388.7 1613.2,388.8 1613.9,388.8 1614.6,388.9 1615.4,389 1616.1,389 1616.8,389.1 1617.5,389.2 1618.1,389.3 1618.8,389.3 1619.5,389.4 1620.1,389.5 1620.8,389.6 1621.4,389.7 1622,389.8 1622.6,389.9 1623.2,390 1623.8,390.1 1624.4,390.2 1624.9,390.3 1625.5,390.5 1626,390.6 1626.5,390.7 1627,390.9 1628.1,391.3 1629.1,391.8 1630,392.3 1630.8,392.9 1631.5,393.5 1632.2,394.1 1632.8,394.7 1633.4,395.4 1634,396 1634.5,396.6 1635.1,397.2 1635.6,397.7 1636.2,398.2 1636.8,398.6 1637.4,399 1638.1,399.3 1638.8,399.6 1639.5,399.8 1640.2,399.9 1640.9,400 1641.6,400.1 1642.2,400.1 1642.9,400.1 1643.6,400.2 1644.3,400.2 1645,400.3 1645.7,400.4 1646.5,400.5 1647.1,400.6 1647.7,400.8 1648.4,401 1649,401.2 1649.7,401.4 1650.4,401.7 1651.1,401.9 1651.8,402.1 1652.5,402.3 1653.2,402.5 1653.8,402.7 1654.5,402.9 1655.2,403.1 1655.9,403.2 1656.5,403.3 1657.2,403.4 1657.8,403.4 1658.5,403.4 1659.2,403.3 1659.9,403.2 1660.5,403.1 1661.2,402.9 1661.8,402.7 1662.4,402.5 1663.1,402.3 1663.7,402 1664.4,401.7 1665.1,401.4 1665.9,401.1 1666.7,400.8 1667.5,400.5 1668.1,400.3 1668.7,400 1669.4,399.7 1670.1,399.4 1670.9,399.1 1671.6,398.7 1672.4,398.4 1673.2,398 1674,397.6 1674.8,397.3 1675.6,396.9 1676.4,396.5 1677.2,396.2 1677.9,395.9 1678.6,395.6 1679.3,395.3 1680,395 1680.6,394.8 1681.1,394.6 1681.6,394.4 1682.1,394.3 1683.5,394.1 1684.2,394.3 1684.6,394.8 1684.9,395.5 1685.3,396.4 1685.8,397.6 1686.2,399.1 1686.7,400.8 1687.1,402.4 1687.7,403.7 1688.3,404.5 1689,405 1689.8,405.5 1690.5,406 1691.2,406.7 1691.8,407.7 1692.2,408.7 1692.5,410 1692.8,411.3 1693.1,412.8 1693.4,414.3 1693.6,415.7 1693.9,417.1 1694.2,418.3 1694.7,420.2 1695.2,422 1695.6,423.7 1696.1,424.9 1696.6,425.5 1697.2,425.2 1697.9,424 1698.5,422.1 1699.1,419.9 1699.3,418.8 1699.5,417.4 1699.6,416 1699.7,414.4 1699.9,412.9 1700,411.3 1700.2,409.7 1700.4,408.2 1700.7,406.9 1701.1,405.3 1701.6,403.8 1702.2,402.3 1702.8,400.9 1703.4,399.6 1704.1,398.3 1704.7,397.2 1705.3,396.2 1705.8,395.3 1706.4,394.5 1707,393.7 1707.7,393 1708.6,392.3 1709.6,391.6 1710.1,391.3 1710.6,391 1711.1,390.7 1711.7,390.3 1712.3,390 1712.9,389.7 1713.6,389.4 1714.2,389.1 1714.9,388.8 1715.6,388.5 1716.3,388.2 1717,387.9 1717.8,387.7 1718.5,387.4 1719.3,387.2 1720.1,386.9 1720.9,386.7 1721.5,386.6 1722.1,386.4 1722.7,386.3 1723.3,386.1 1723.9,386 1724.5,385.9 1725.2,385.8 1725.8,385.7 1726.5,385.6 1727.1,385.5 1727.8,385.4 1728.5,385.3 1729.2,385.2 1729.9,385.1 1730.6,385 1731.3,384.9 1732,384.9 1732.7,384.8 1733.4,384.7 1734.2,384.6 1734.9,384.5 1735.6,384.5 1736.4,384.4 1737.1,384.3 1737.7,384.2 1738.4,384.2 1739.1,384.1 1739.8,384 1740.5,383.9 1741.2,383.8 1741.9,383.8 1742.6,383.7 1743.3,383.6 1744.1,383.5 1744.8,383.4 1745.6,383.4 1746.3,383.3 1747,383.2 1747.8,383.2 1748.5,383.1 1749.2,383 1749.9,383 1750.7,382.9 1751.4,382.9 1752.1,382.8 1752.7,382.8 1753.4,382.8 1754.1,382.7 1754.7,382.7 1755.3,382.7 1755.9,382.7 1756.5,382.7 1757.4,382.7 1758.2,382.8 1759,382.8 1759.8,382.9 1760.6,382.9 1761.3,383 1762,383.1 1762.7,383.2 1763.4,383.4 1764.1,383.5 1764.7,383.6 1765.4,383.8 1766,383.9 1766.6,384 1767.2,384.2 1767.8,384.3 1768.4,384.5 1769,384.6 1769.8,384.8 1770.6,385 1771.3,385.2 1772.1,385.4 1772.8,385.6 1773.4,385.8 1774.1,386.1 1774.7,386.3 1775.4,386.5 1775.9,386.8 1776.5,387 1777.1,387.3 1777.6,387.5 1778.4,387.8 1779.1,388.1 1779.8,388.4 1780.4,388.7 1781,389 1781.5,389.5 1782,390 1782.5,390.8 1783,391.9 1783.2,392.4 1783.5,401.2 1785.6,401.2 1786,408 1788,408 1788.4,416 1790.4,416 1790.8,426.2 1792.8,426.2 1793.2,439.7 1795.2,439.7 1795.6,456.2 1797.6,456.2 1798,472.4 1800,472.4 1800.4,475.8 1800.5,475.8 1800.6,476.2 1800.8,477.7 1801,479.1 1801.2,480.5 1801.4,481.8 1801.7,483.1 1801.9,484.3 1802.1,485.4 1802.3,486.5 1802.8,488.8 1803.2,491 1803.7,493 1804.1,494.7 1804.6,496.1 1805,497.1 1805.5,497.8 1806,498 1806.5,497.8 1807.1,497.1 1807.7,496 1808.3,494.5 1808.9,492.8 1809.5,490.9 1810,488.7 1810.6,486.5 1810.9,485.4 1811.1,484.1 1811.4,482.7 1811.6,481.3 1811.8,479.8 1812.1,478.2 1812.3,476.6 1812.5,474.9 1812.8,473.3 1813,471.6 1813.3,470 1813.5,468.4 1813.8,466.9 1814,465.4 1814.3,464 1814.5,462.8 1814.8,461.6 1815.3,459.6 1815.8,457.8 1816.4,456.1 1816.9,454.6 1817.5,453.2 1818.1,452 1818.7,450.9 1819.3,449.9 1820,449.1 1820.6,448.6 1821.2,448.2 1821.8,448 1822.5,447.9 1823.1,447.8 1823.8,447.8 1824.5,447.9 1825.2,447.9 1825.9,447.8 1826.6,447.7 1827.3,447.4 1828,447.1 1828.6,446.7 1829.3,446.3 1830,445.8 1830.6,445.3 1831.3,444.8 1832,444.3 1832.7,443.8 1833.4,443.3 1834.1,442.8 1834.9,442.3 1835.6,441.8 1836.2,441.4 1836.9,440.9 1837.6,440.4 1838.3,439.8 1839,439.3 1839.7,438.8 1840.4,438.2 1841.1,437.7 1841.8,437.3 1842.4,436.9 1843.1,436.6 1843.7,436.4 1844.3,436.2 1844.9,436.2 1845.7,436.3 1846.5,436.7 1847.1,437.1 1847.8,437.7 1848.4,438.5 1849.1,439.4 1849.7,440.4 1850.4,441.6 1851.2,442.8 1851.8,443.9 1852.5,445.3 1853.2,446.8 1853.9,448.5 1854.6,450.2 1855.3,452 1856,453.7 1856.7,455.3 1857.4,456.7 1858.2,457.9 1858.8,458.9 1859.5,459.5 1860.2,459.8 1860.9,459.7 1861.6,459.4 1862.3,458.8 1863,458.1 1863.7,457.2 1864.3,456.3 1865,455.4 1865.6,454.5 1866.2,453.8 1866.8,453.2 1867.6,452.5 1868.3,451.9 1868.9,451.2 1869.6,450.6 1870.2,450.1 1870.8,449.6 1871.4,449.3 1872,449.1 1872.6,449.2 1873.2,449.7 1873.7,450.4 1874.2,451.1 1874.7,451.6 1875.4,451.6 1876.2,451.1 1876.7,450.5 1877.3,449.6 1877.9,448.6 1878.6,447.4 1879.3,446.1 1880,444.8 1880.7,443.4 1881.4,441.9 1882.2,440.5 1882.9,439.1 1883.7,437.8 1884.5,436.6 1885.1,435.7 1885.8,434.7 1886.5,433.7 1887.3,432.6 1888,431.6 1888.8,430.5 1889.6,429.5 1890.3,428.5 1891.1,427.6 1891.8,426.7 1892.5,425.9 1893.2,425.2 1893.8,424.6 1894.4,424.1 1894.9,423.7 1896,423.1 1896.8,422.8 1897.4,423 1897.9,423.8 1898.4,425.1 1899,427.2 1899.2,428.1 1899.4,429.1 1899.6,430.2 1899.8,431.4 1900,432.7 1900.1,434 1900.3,435.5 1900.5,437 1900.7,438.5 1900.8,440.1 1901,441.7 1901.2,443.4 1901.3,445 1901.5,446.7 1901.7,448.4 1901.9,450 1902,451.6 1902.2,453.2 1902.3,454.6 1902.5,456.1 1902.6,457.7 1902.8,459.3 1902.9,461 1903.1,462.8 1903.2,464.6 1903.3,466.4 1903.5,468.1 1903.6,469.9 1903.8,471.6 1903.9,473.3 1904,474.9 1904.2,476.4 1904.3,477.8 1904.5,479.1 1904.6,480.3 1904.8,481.3 1905,482.2 1905.1,482.9 1905.3,483.4 1905.7,483.9 1906.1,483.7 1906.4,483.1 1906.9,481.9 1907.3,480.4 1907.7,478.5 1908.1,476.5 1908.6,474.3 1909,472.1 1909.5,469.9 1909.7,468.8 1910,467.5 1910.2,466.2 1910.5,464.7 1910.7,463.2 1911,461.6 1911.2,460 1911.5,458.4 1911.7,456.7 1912,455 1912.2,453.3 1912.5,451.7 1912.8,450 1913,448.4 1913.3,446.9 1913.6,445.5 1913.9,444.1 1914.1,442.9 1914.4,441.7 1914.7,440.7 1915.4,438.8 1916,437.2 1916.8,435.9 1917.5,434.8 1918.2,434 1918.9,433.3 1919.6,432.8 1920.3,432.3 1920.9,432 1921.7,431.7 1922.4,431.8 1923,432.1 1923.7,432.6 1924.3,433.2 1924.9,434 1925.5,434.8 1926.1,435.8 1926.6,437.2 1927,438.7 1927.5,440.3 1928,441.8 1928.5,443 1929,443.8 1929.6,444.2 1930.2,444.2 1930.8,443.9 1931.5,443.6 1932.1,443.2 1932.7,442.9 1933.2,442.9 1934,443.6 1934.7,444.9 1935.3,445.7 1936,445.3 1936.4,444.5 1936.7,443.2 1937.1,441.7 1937.5,439.9 1937.9,438.1 1938.3,436.3 1938.6,434.6 1939,433.2 1939.3,432.2 1939.9,430.9 1940.4,430.6 1940.9,430.6 1941.5,430.5 1942.2,430.3 1943,430.1 1943.7,430 1944.2,429.9" fill="none" stroke="#ff0000" stroke-width="3.4" stroke-linejoin="round" stroke-linecap="round"/>
<polyline points="1079.5,556 1079.9,556 1080.2,556 1080.6,555.9 1081.1,555.9 1081.5,555.9 1082,555.9 1082.5,555.8 1083,555.8 1083.5,555.8 1084.1,555.7 1084.6,555.7 1085.2,555.7 1085.8,555.6 1086.4,555.6 1087,555.6 1087.7,555.5 1088.3,555.5 1089,555.4 1089.7,555.4 1090.4,555.4 1091.1,555.3 1091.8,555.3 1092.6,555.2 1093.3,555.2 1094,555.1 1094.8,555.1 1095.6,555.1 1096.4,555 1097.1,555 1097.9,554.9 1098.7,554.9 1099.5,554.8 1100.3,554.8 1101.2,554.7 1102,554.7 1102.8,554.6 1103.6,554.6 1104.5,554.5 1105.3,554.5 1106.1,554.4 1106.9,554.4 1107.8,554.3 1108.6,554.3 1109.4,554.2 1110.3,554.2 1111.1,554.1 1111.9,554.1 1112.7,554 1113.5,554 1114.4,553.9 1115.2,553.9 1116,553.8 1116.8,553.8 1117.5,553.7 1118.3,553.7 1119.1,553.7 1119.9,553.6 1120.6,553.6 1121.4,553.5 1122.1,553.5 1122.8,553.4 1123.5,553.4 1124.2,553.3 1124.9,553.3 1125.6,553.3 1126.3,553.2 1126.9,553.2 1127.5,553.1 1128.2,553.1 1128.8,553 1129.3,553 1129.9,553 1130.5,552.9 1131,552.9 1132,552.8 1132.9,552.8 1133.9,552.7 1134.7,552.6 1135.6,552.5 1136.4,552.5 1137.1,552.4 1137.8,552.3 1138.5,552.3 1139.2,552.2 1139.9,552.1 1140.5,552 1141.1,552 1141.7,551.9 1142.3,551.8 1142.9,551.8 1143.4,551.7 1144,551.6 1144.5,551.5 1145,551.5 1145.6,551.4 1146.1,551.4 1146.7,551.3 1147.2,551.3 1147.8,551.2 1148.4,551.1 1149,551.1 1149.6,551.1 1150.2,551 1150.8,551 1151.5,550.9 1152.2,550.9 1152.9,550.9 1153.7,550.9 1154.4,550.8 1155.3,550.8 1156.1,550.8 1157,550.8 1157.6,550.8 1158.1,550.8 1158.7,550.8 1159.3,550.8 1159.9,550.8 1160.5,550.8 1161.2,550.8 1161.8,550.8 1162.4,550.9 1163.1,550.9 1163.8,550.9 1164.4,550.9 1165.1,550.9 1165.8,551 1166.5,551 1167.2,551 1167.9,551.1 1168.6,551.1 1169.4,551.1 1170.1,551.1 1170.8,551.2 1171.6,551.2 1172.3,551.2 1173,551.3 1173.8,551.3 1174.5,551.4 1175.3,551.4 1176.1,551.4 1176.8,551.5 1177.6,551.5 1178.3,551.5 1179.1,551.6 1179.8,551.6 1180.6,551.7 1181.3,551.7 1182.1,551.7 1182.9,551.8 1183.6,551.8 1184.4,551.9 1185.1,551.9 1185.8,551.9 1186.6,552 1187.3,552 1188,552.1 1188.8,552.1 1189.5,552.1 1190.2,552.2 1190.9,552.2 1191.6,552.2 1192.3,552.2 1193,552.3 1193.6,552.3 1194.3,552.3 1195,552.4 1195.6,552.4 1196.2,552.4 1196.9,552.4 1197.5,552.4 1198.1,552.5 1198.7,552.5 1199.3,552.5 1199.8,552.5 1200.4,552.5 1201.3,552.5 1202.2,552.5 1203.1,552.5 1203.9,552.5 1204.7,552.5 1205.6,552.5 1206.4,552.5 1207.2,552.4 1207.9,552.4 1208.7,552.4 1209.5,552.3 1210.2,552.3 1210.9,552.3 1211.6,552.2 1212.3,552.2 1213,552.2 1213.7,552.1 1214.4,552.1 1215,552 1215.7,552 1216.3,552 1217,551.9 1217.6,551.9 1218.2,551.9 1218.8,551.8 1219.4,551.8 1220,551.8 1220.6,551.7 1221.2,551.7 1221.8,551.7 1222.4,551.7 1223,551.7 1223.5,551.7 1224.1,551.7 1224.7,551.7 1225.3,551.7 1225.8,551.7 1226.4,551.7 1227.3,551.7 1228.1,551.8 1228.9,551.8 1229.7,551.9 1230.4,551.9 1231.2,552 1231.9,552 1232.6,552.1 1233.3,552.2 1233.9,552.2 1234.6,552.3 1235.3,552.4 1235.9,552.5 1236.6,552.6 1237.2,552.7 1237.8,552.8 1238.5,553 1239.1,553.1 1239.7,553.2 1240.4,553.4 1241,553.6 1241.7,553.7 1242.3,553.9 1243,554.1 1243.7,554.3 1244.4,554.5 1245.1,554.8 1245.8,555 1246.5,555.3 1247.2,555.6 1247.9,555.9 1248.6,556.2 1249.3,556.6 1250,556.9 1250.7,557.3 1251.4,557.6 1252.1,558 1252.7,558.3 1253.4,558.7 1254.1,559 1254.8,559.4 1255.5,559.7 1256.2,560.1 1256.9,560.4 1257.6,560.7 1258.3,561 1259,561.3 1259.7,561.6 1260.4,561.9 1261.1,562.1 1261.8,562.3 1262.5,562.5 1263.1,562.7 1263.8,562.9 1264.4,563 1265.1,563.2 1265.7,563.3 1266.3,563.5 1267,563.6 1267.6,563.7 1268.2,563.8 1268.9,563.9 1269.5,564 1270.2,564.1 1270.9,564.2 1271.5,564.3 1272.2,564.4 1272.9,564.5 1273.6,564.7 1274.4,564.8 1275.1,564.9 1275.9,565 1276.7,565.2 1277.5,565.3 1278.4,565.5 1279,565.6 1279.5,565.7 1280.1,565.8 1280.7,565.9 1281.3,566.1 1281.9,566.2 1282.5,566.3 1283.1,566.4 1283.7,566.5 1284.3,566.6 1284.9,566.7 1285.5,566.9 1286.1,567 1286.7,567.1 1287.4,567.2 1288,567.3 1288.7,567.5 1289.3,567.6 1290,567.7 1290.7,567.8 1291.3,568 1292,568.1 1292.7,568.2 1293.4,568.4 1294.1,568.5 1294.9,568.7 1295.6,568.8 1296.3,569 1297.1,569.1 1297.9,569.3 1298.6,569.4 1299.4,569.6 1300.2,569.8 1301,570 1301.9,570.1 1302.7,570.3 1303.5,570.5 1304.4,570.7 1305,570.8 1305.6,571 1306.2,571.1 1306.8,571.3 1307.5,571.4 1308.1,571.6 1308.8,571.7 1309.4,571.9 1310.1,572.1 1310.8,572.3 1311.5,572.4 1312.2,572.6 1312.9,572.8 1313.7,573 1314.4,573.2 1315.1,573.4 1315.9,573.6 1316.6,573.8 1317.4,574 1318.1,574.2 1318.9,574.4 1319.7,574.6 1320.4,574.8 1321.2,575 1322,575.2 1322.7,575.4 1323.5,575.6 1324.3,575.8 1325.1,576 1325.8,576.2 1326.6,576.4 1327.4,576.6 1328.1,576.8 1328.9,577 1329.7,577.2 1330.4,577.3 1331.2,577.5 1331.9,577.7 1332.6,577.9 1333.4,578.1 1334.1,578.2 1334.8,578.4 1335.5,578.6 1336.2,578.7 1336.9,578.9 1337.6,579 1338.3,579.2 1338.9,579.3 1339.6,579.5 1340.2,579.6 1340.8,579.7 1341.4,579.8 1342,579.9 1342.6,580 1343.2,580.1 1343.8,580.2 1344.3,580.3 1345.3,580.4 1346.2,580.6 1347.2,580.7 1348,580.7 1348.9,580.8 1349.7,580.9 1350.5,580.9 1351.2,580.9 1351.9,580.9 1352.6,580.9 1353.3,580.9 1354,580.9 1354.6,580.8 1355.3,580.8 1355.9,580.7 1356.5,580.7 1357.1,580.6 1357.7,580.5 1358.3,580.5 1358.9,580.4 1359.5,580.3 1360,580.2 1360.6,580.1 1361.2,580 1361.8,579.9 1362.5,579.8 1363.1,579.7 1363.8,579.6 1364.4,579.5 1365.1,579.4 1365.8,579.3 1366.5,579.2 1367.2,579.1 1367.8,579 1368.5,578.8 1369.2,578.7 1369.9,578.6 1370.5,578.4 1371.2,578.3 1371.9,578.1 1372.5,578 1373.2,577.8 1373.9,577.7 1374.6,577.5 1375.2,577.3 1375.9,577.1 1376.6,577 1377.3,576.8 1378,576.6 1378.7,576.4 1379.4,576.3 1380.1,576.1 1380.8,575.9 1381.5,575.7 1382.2,575.6 1383,575.4 1383.7,575.2 1384.5,575 1385.2,574.9 1386,574.7 1386.6,574.6 1387.2,574.4 1387.9,574.3 1388.5,574.2 1389.2,574 1389.8,573.9 1390.5,573.7 1391.1,573.6 1391.8,573.5 1392.5,573.3 1393.2,573.2 1393.8,573 1394.5,572.9 1395.2,572.7 1395.9,572.6 1396.6,572.4 1397.3,572.3 1398,572.1 1398.7,572 1399.4,571.9 1400.1,571.7 1400.8,571.6 1401.5,571.4 1402.2,571.3 1402.9,571.1 1403.6,571 1404.3,570.9 1405,570.7 1405.7,570.6 1406.4,570.5 1407.1,570.3 1407.8,570.2 1408.5,570.1 1409.2,570 1409.9,569.8 1410.6,569.7 1411.3,569.6 1412,569.5 1412.7,569.4 1413.4,569.3 1414,569.2 1414.7,569.1 1415.4,569 1416.1,568.9 1416.7,568.8 1417.4,568.7 1418.1,568.6 1418.8,568.5 1419.4,568.4 1420.1,568.3 1420.8,568.2 1421.4,568.1 1422.1,568 1422.8,567.9 1423.4,567.8 1424.1,567.8 1424.8,567.7 1425.5,567.6 1426.1,567.5 1426.8,567.4 1427.5,567.4 1428.2,567.3 1428.8,567.2 1429.5,567.1 1430.2,567.1 1430.9,567 1431.6,566.9 1432.3,566.9 1433,566.8 1433.7,566.7 1434.4,566.7 1435.1,566.6 1435.8,566.6 1436.5,566.5 1437.3,566.5 1438,566.4 1438.7,566.4 1439.3,566.3 1440,566.3 1440.7,566.2 1441.4,566.2 1442.2,566.1 1442.9,566.1 1443.6,566 1444.4,566 1445.2,566 1445.9,565.9 1446.7,565.9 1447.5,565.9 1448.3,565.8 1449.1,565.8 1449.9,565.8 1450.7,565.7 1451.5,565.7 1452.2,565.7 1453,565.6 1453.8,565.6 1454.6,565.6 1455.3,565.6 1456.1,565.5 1456.8,565.5 1457.6,565.5 1458.3,565.5 1459,565.5 1459.7,565.5 1460.4,565.5 1461.1,565.4 1461.7,565.4 1462.4,565.4 1463,565.4 1463.6,565.4 1464.2,565.4 1464.7,565.4 1465.3,565.4 1465.8,565.4 1466.2,565.5 1466.7,565.5 1467.1,565.5 1467.5,565.5 1469.8,565.8 1470.6,566.2 1470.5,566.8 1470.3,567.4 1470.5,568 1471,568.5 1471.6,569.2 1472.1,569.8 1472.7,570.5 1473.5,571 1474.4,571.3 1474.9,571.4 1475.4,571.5 1475.9,571.6 1476.5,571.7 1477.1,571.7 1477.7,571.7 1478.3,571.7 1479,571.7 1479.8,571.6 1480.5,571.5 1481.3,571.3 1482.2,571 1483.1,570.7 1483.6,570.5 1484.2,570.2 1484.7,570 1485.3,569.7 1485.8,569.4 1486.4,569 1487,568.7 1487.6,568.3 1488.2,567.9 1488.8,567.5 1489.5,567.1 1490.2,566.7 1490.8,566.3 1491.5,565.8 1492.2,565.4 1493,565 1493.7,564.6 1494.5,564.1 1495.3,563.7 1496.1,563.3 1496.9,562.9 1497.8,562.5 1498.7,562.1 1499.2,561.9 1499.8,561.6 1500.4,561.4 1500.9,561.2 1501.5,560.9 1502,560.7 1502.6,560.4 1503.2,560.2 1503.8,559.9 1504.4,559.7 1504.9,559.4 1505.5,559.2 1506.2,558.9 1506.8,558.6 1507.4,558.4 1508,558.1 1508.7,557.9 1509.3,557.6 1510,557.4 1510.6,557.1 1511.3,556.9 1512,556.6 1512.7,556.4 1513.4,556.2 1514.1,555.9 1514.8,555.7 1515.6,555.5 1516.3,555.3 1517.1,555 1517.9,554.8 1518.7,554.6 1519.5,554.4 1520.3,554.2 1521.2,554.1 1522,553.9 1522.9,553.7 1523.8,553.6 1524.7,553.4 1525.3,553.3 1525.8,553.2 1526.4,553.1 1527,553 1527.6,553 1528.2,552.9 1528.9,552.8 1529.5,552.7 1530.2,552.6 1530.8,552.6 1531.5,552.5 1532.1,552.4 1532.8,552.3 1533.5,552.3 1534.2,552.2 1534.9,552.1 1535.6,552.1 1536.3,552 1537,552 1537.7,551.9 1538.4,551.8 1539.2,551.8 1539.9,551.7 1540.6,551.7 1541.4,551.6 1542.1,551.6 1542.9,551.5 1543.6,551.5 1544.4,551.4 1545.1,551.4 1545.9,551.3 1546.6,551.3 1547.4,551.3 1548.1,551.2 1548.9,551.2 1549.6,551.1 1550.4,551.1 1551.1,551.1 1551.9,551.1 1552.6,551 1553.4,551 1554.1,551 1554.9,550.9 1555.6,550.9 1556.4,550.9 1557.1,550.9 1557.8,550.9 1558.5,550.9 1559.3,550.8 1560,550.8 1560.7,550.8 1561.4,550.8 1562.1,550.8 1562.8,550.8 1563.5,550.8 1564.2,550.8 1564.8,550.8 1565.5,550.8 1566.2,550.8 1566.8,550.8 1567.5,550.8 1568.1,550.8 1568.9,550.8 1569.7,550.8 1570.4,550.9 1571.2,550.9 1572,550.9 1572.7,550.9 1573.5,551 1574.2,551 1575,551.1 1575.7,551.1 1576.5,551.2 1577.2,551.2 1578,551.3 1578.7,551.4 1579.4,551.4 1580.2,551.5 1580.9,551.6 1581.6,551.7 1582.3,551.7 1583,551.8 1583.7,551.9 1584.4,552 1585.1,552.1 1585.8,552.2 1586.5,552.3 1587.2,552.3 1587.9,552.4 1588.6,552.5 1589.3,552.6 1590,552.7 1590.6,552.8 1591.3,552.9 1592,553 1592.6,553.1 1593.3,553.2 1594,553.2 1594.6,553.3 1595.3,553.4 1595.9,553.5 1596.6,553.6 1597.2,553.7 1597.8,553.8 1598.5,553.8 1599.1,553.9 1599.7,554 1600.3,554 1601,554.1 1601.6,554.2 1602.2,554.2 1602.8,554.3 1603.6,554.4 1604.4,554.4 1605.2,554.5 1606,554.6 1606.8,554.6 1607.6,554.7 1608.4,554.7 1609.1,554.8 1609.9,554.8 1610.7,554.9 1611.5,554.9 1612.2,555 1613,555 1613.8,555.1 1614.5,555.1 1615.3,555.1 1616,555.2 1616.7,555.2 1617.4,555.3 1618.1,555.3 1618.8,555.4 1619.5,555.4 1620.2,555.4 1620.9,555.5 1621.5,555.5 1622.2,555.6 1622.8,555.6 1623.4,555.7 1624,555.7 1624.6,555.8 1625.2,555.9 1625.8,555.9 1626.3,556 1626.8,556.1 1627.4,556.1 1627.9,556.2 1628.3,556.3 1628.8,556.4 1630,556.7 1631.1,557 1631.9,557.4 1632.7,557.8 1633.3,558.2 1633.8,558.7 1634.3,559.1 1634.7,559.6 1635.2,560 1635.6,560.3 1636.1,560.7 1636.7,561 1637.4,561.2 1638,561.3 1638.6,561.4 1639.3,561.5 1640,561.6 1640.6,561.6 1641.3,561.6 1642,561.6 1642.7,561.6 1643.4,561.5 1644.1,561.5 1644.8,561.5 1645.4,561.5 1646.1,561.5 1646.8,561.5 1647.5,561.5 1648.1,561.6 1648.8,561.7 1649.5,561.9 1650.2,562 1650.8,562.2 1651.4,562.4 1652.1,562.6 1652.7,562.8 1653.4,563 1654,563.2 1654.7,563.4 1655.4,563.5 1656.2,563.6 1657,563.7 1657.8,563.7 1658.4,563.7 1659,563.6 1659.7,563.6 1660.3,563.5 1661,563.4 1661.7,563.2 1662.5,563.1 1663.2,563 1663.9,562.8 1664.7,562.7 1665.4,562.5 1666.2,562.3 1666.9,562.2 1667.7,562 1668.4,561.8 1669.1,561.7 1669.8,561.5 1670.5,561.4 1671.1,561.3 1671.8,561.2 1672.4,561.1 1673.2,561 1673.9,560.9 1674.7,560.7 1675.4,560.6 1676.1,560.5 1676.8,560.4 1677.5,560.3 1678.2,560.2 1678.9,560.1 1679.5,560.1 1680.1,560 1680.7,560 1681.3,560.1 1681.8,560.1 1682.4,560.2 1682.9,560.4 1683.7,560.8 1684.5,561.4 1685.2,562 1685.8,562.8 1686.4,563.6 1686.9,564.4 1687.5,565.3 1688,566.1 1688.6,566.9 1689.3,567.8 1690.1,568.8 1690.8,569.7 1691.5,570.7 1692.1,571.6 1692.8,572.6 1693.4,573.7 1694.1,575.1 1694.7,576.8 1695.3,578.5 1695.8,580.1 1696.4,581.4 1697,582.1 1697.6,582.3 1698.2,582.2 1698.9,581.7 1699.5,580.9 1700.1,579.9 1700.7,578.6 1701.1,577.5 1701.4,576.2 1701.7,574.7 1702,573.1 1702.3,571.4 1702.7,569.7 1703,568.2 1703.4,566.8 1703.9,565.6 1704.4,564.6 1704.9,563.8 1705.4,563.1 1706,562.5 1706.5,562 1707.2,561.5 1707.9,561 1708.7,560.5 1709.6,559.9 1710.1,559.6 1710.6,559.3 1711.1,559 1711.6,558.7 1712.1,558.4 1712.7,558.1 1713.2,557.8 1713.8,557.5 1714.4,557.2 1715,556.9 1715.7,556.6 1716.5,556.4 1717.2,556.1 1718.1,555.8 1718.9,555.6 1719.9,555.3 1720.9,555.1 1721.4,555 1722,554.9 1722.5,554.7 1723.1,554.6 1723.7,554.5 1724.3,554.4 1724.9,554.3 1725.6,554.2 1726.2,554 1726.9,553.9 1727.6,553.8 1728.3,553.7 1729,553.6 1729.7,553.5 1730.4,553.4 1731.1,553.3 1731.9,553.2 1732.6,553.1 1733.4,553 1734.1,552.9 1734.9,552.8 1735.6,552.7 1736.4,552.6 1737.1,552.5 1737.9,552.4 1738.6,552.3 1739.4,552.3 1740.1,552.2 1740.9,552.1 1741.6,552 1742.3,552 1743.1,551.9 1743.8,551.9 1744.5,551.8 1745.2,551.8 1745.9,551.8 1746.6,551.7 1747.3,551.7 1748.1,551.7 1748.8,551.7 1749.5,551.6 1750.3,551.6 1751,551.6 1751.8,551.6 1752.6,551.6 1753.3,551.6 1754.1,551.6 1754.9,551.6 1755.6,551.6 1756.4,551.6 1757.1,551.7 1757.9,551.7 1758.6,551.7 1759.4,551.7 1760.1,551.8 1760.8,551.8 1761.5,551.8 1762.2,551.9 1762.9,551.9 1763.6,551.9 1764.3,552 1764.9,552 1765.6,552.1 1766.2,552.1 1766.8,552.2 1767.4,552.2 1767.9,552.3 1768.5,552.4 1769,552.4 1769.5,552.5 1770.6,552.7 1771.6,552.8 1772.5,553 1773.3,553.2 1774,553.5 1774.7,553.7 1775.3,553.9 1775.9,554.2 1776.4,554.5 1776.9,554.8 1777.4,555.1 1777.9,555.5 1778.4,555.8 1778.9,556.2 1779.4,556.6 1780.3,557.3 1781,558.1 1781.8,558.9 1782.5,559.8 1783.1,560.7 1783.7,561.7 1784,562.2 1784.3,566.5 1786.4,566.5 1786.8,571.9 1788.8,571.9 1789.2,578.9 1791.2,578.9 1791.6,590 1793.6,590 1794,603.1 1796,603.1 1796.4,614.4 1798.4,614.4 1798.8,623.7 1800.8,623.7 1801.2,624.3 1801,624.3 1801.3,625.3 1801.9,627.2 1802.4,629.1 1803,630.8 1803.6,632.4 1804.2,633.6 1804.8,634.4 1805.4,634.7 1806,634.5 1806.6,633.8 1807.3,632.9 1807.9,631.6 1808.6,630.2 1809.3,628.6 1809.9,626.9 1810.6,625.3 1811,624.1 1811.5,622.8 1811.9,621.4 1812.3,620 1812.8,618.4 1813.2,616.9 1813.6,615.3 1814.1,613.8 1814.5,612.4 1814.9,611 1815.4,609.8 1815.8,608.7 1816.4,607.3 1817,606 1817.6,604.9 1818.2,604 1818.8,603.1 1819.5,602.4 1820.2,601.9 1821,601.4 1821.6,601.2 1822.2,601.1 1822.9,601.2 1823.5,601.3 1824.2,601.5 1824.9,601.7 1825.7,601.9 1826.4,602.1 1827.1,602.3 1827.9,602.4 1828.6,602.5 1829.3,602.4 1829.9,602.3 1830.6,602.1 1831.2,601.8 1831.9,601.5 1832.5,601.2 1833.2,600.9 1833.8,600.5 1834.5,600.1 1835.1,599.8 1835.8,599.4 1836.4,599 1837.1,598.6 1837.7,598.3 1838.4,597.9 1839.1,597.5 1839.8,597 1840.6,596.5 1841.3,596 1842,595.5 1842.7,595 1843.4,594.6 1844.1,594.2 1844.7,593.9 1845.4,593.8 1846,593.7 1846.8,593.8 1847.5,594 1848.1,594.3 1848.8,594.7 1849.4,595.2 1850,595.8 1850.7,596.6 1851.4,597.4 1852.2,598.3 1852.8,599.1 1853.5,600.1 1854.2,601.2 1854.9,602.4 1855.7,603.7 1856.4,605 1857.1,606.2 1857.9,607.4 1858.6,608.5 1859.3,609.4 1860,610.2 1860.6,610.7 1861.4,611 1862.1,611.1 1862.9,610.8 1863.6,610.4 1864.2,609.9 1864.9,609.2 1865.5,608.6 1866.2,608 1866.8,607.6 1867.5,607.1 1868.2,606.6 1868.9,606.1 1869.5,605.6 1870.2,605.1 1870.8,604.6 1871.4,604.3 1872,604.1 1872.6,604.1 1873.2,604.5 1873.7,604.9 1874.2,605.4 1874.8,605.7 1875.5,605.8 1876.2,605.5 1876.7,605.1 1877.3,604.5 1877.8,603.8 1878.4,603 1879,602.1 1879.6,601.2 1880.3,600.2 1881,599.2 1881.7,598.2 1882.5,597.2 1883.4,596.2 1884,595.6 1884.6,594.9 1885.3,594.2 1886,593.5 1886.7,592.7 1887.5,591.9 1888.3,591.1 1889,590.3 1889.8,589.5 1890.6,588.8 1891.4,588.1 1892.2,587.4 1892.9,586.7 1893.6,586.2 1894.2,585.7 1894.8,585.3 1895.4,584.9 1895.9,584.7 1897.1,584.4 1898,584.5 1898.6,585.1 1899.1,586.2 1899.6,587.8 1900.1,590 1900.3,591 1900.5,592.1 1900.7,593.3 1900.9,594.7 1901.1,596.1 1901.3,597.7 1901.5,599.3 1901.7,600.9 1901.8,602.6 1902,604.3 1902.2,605.9 1902.4,607.6 1902.5,609.2 1902.7,610.7 1902.9,612.2 1903,613.6 1903.2,614.9 1903.4,616.7 1903.7,618.5 1903.9,620.4 1904.1,622.3 1904.3,624.1 1904.5,625.9 1904.7,627.4 1904.9,628.8 1905.1,630 1905.3,630.8 1905.6,631.4 1905.9,631.6 1906.2,631.4 1906.5,630.8 1906.9,629.8 1907.2,628.6 1907.6,627.1 1908,625.5 1908.4,623.7 1908.8,621.9 1909.2,620 1909.6,618.2 1910.1,616.5 1910.5,614.9 1910.9,613.5 1911.4,612 1911.8,610.4 1912.3,608.9 1912.8,607.2 1913.3,605.6 1913.8,604.1 1914.3,602.5 1914.8,601 1915.3,599.6 1915.7,598.4 1916.2,597.2 1916.7,596.2 1917.4,595 1918.1,593.9 1918.7,593.1 1919.4,592.4 1920.1,591.8 1920.7,591.4 1921.4,591.1 1922,590.9 1922.6,590.8 1923.3,590.8 1924,591.1 1924.6,591.5 1925.3,592 1925.9,592.6 1926.5,593.3 1927,593.9 1927.5,594.5 1928.3,595.8 1928.9,597.4 1929.4,598.7 1930,599.6 1930.6,599.7 1931.2,599.3 1931.9,598.8 1932.6,598.3 1933.2,598.2 1933.9,599 1934.6,600.3 1935.3,601.3 1936,601 1936.4,600.2 1936.7,599.1 1937.1,597.6 1937.5,596 1937.9,594.3 1938.3,592.6 1938.6,591 1939,589.6 1939.3,588.5 1939.9,587.1 1940.5,586.4 1941,585.9 1941.6,584.8 1942,583.7 1942.4,582.3 1942.9,580.8 1943.4,579.2 1943.8,577.7 1944.1,576.5 1944.4,575.6" fill="none" stroke="#000000" stroke-width="3.4" stroke-linejoin="round" stroke-linecap="round"/>
<path d="M1342.5 64.6L1334.8 92.3 M1473.9 61.9L1461.6 92.3 M1697.1 56.8L1682.1 80.1 M1820.8 51.6L1835.4 68.6 M1803 97.7L1797.3 113.9 M1861.3 75.8L1850.7 99.3 M1905.8 92L1886.4 126 M1931.7 75.8L1920.3 100.9 M1343 258.5L1330.7 283.9 M1474.7 254.6L1467 273.1 M1697.5 239.4L1687.7 263.6 M1812.4 224.7L1832.3 243.8 M1804.5 279.3L1795.9 296.6 M1860.9 251.6L1854 268 M1906 269.8L1882.6 301 M1931.1 248.1L1920.7 273.2 M1348.6 433.7L1343.4 463.2 M1475.8 413.8L1466.1 443.2 M1697 428.8L1687.4 447.4 M1818.5 421L1828.3 446 M1806.5 500L1795 513.6 M1860.6 461.6L1851.2 481.3 M1905.3 484.4L1886.6 517.7 M1930.9 447L1914.7 488.6 M1351.2 584.6L1336.5 609.8 M1476.5 574.2L1468.9 608.9 M1697.5 584.2L1686.9 609.3 M1820 577.5L1830.4 601.4 M1806 636.8L1795.6 658.6 M1860.6 611.8L1856.4 642 M1905.3 632.6L1889.7 666.9 M1930.9 604.5L1917.1 638.8" stroke="#000" stroke-width="1.7" fill="none"/>
<g style="font-family:'Liberation Serif','Times New Roman',serif;font-size:30.5px" fill="#000"><text x="1339.5" y="115.4" text-anchor="middle">2910</text><text x="1465.4" y="114.6" text-anchor="middle">2360</text><text x="1681.6" y="102.6" text-anchor="middle">1430</text><text x="1816.8" y="51.6" text-anchor="middle">863</text><text x="1797" y="139" text-anchor="middle">989</text><text x="1850.3" y="122" text-anchor="middle">746</text><text x="1886.3" y="147.1" text-anchor="middle">565</text><text x="1920.3" y="124.4" text-anchor="middle">462</text><text x="1338.8" y="307.7" text-anchor="middle">2910</text><text x="1470.8" y="296.9" text-anchor="middle">2360</text><text x="1687.6" y="285.5" text-anchor="middle">1430</text><text x="1811.3" y="223" text-anchor="middle">869</text><text x="1798.5" y="321.9" text-anchor="middle">987</text><text x="1853.5" y="291.5" text-anchor="middle">748</text><text x="1881.2" y="323.6" text-anchor="middle">565</text><text x="1919.4" y="296.7" text-anchor="middle">461</text><text x="1347.8" y="488.4" text-anchor="middle">2880</text><text x="1471" y="466.7" text-anchor="middle">2360</text><text x="1687.6" y="468.4" text-anchor="middle">1430</text><text x="1817.2" y="420.2" text-anchor="middle">889</text><text x="1793.8" y="537.3" text-anchor="middle">979</text><text x="1851.2" y="504.4" text-anchor="middle">751</text><text x="1885" y="538.8" text-anchor="middle">564</text><text x="1918.8" y="512.4" text-anchor="middle">460</text><text x="1340.4" y="634.6" text-anchor="middle">2880</text><text x="1473.6" y="632.9" text-anchor="middle">2360</text><text x="1692" y="630.3" text-anchor="middle">1430</text><text x="1819.8" y="576.7" text-anchor="middle">881</text><text x="1797.1" y="682.8" text-anchor="middle">980</text><text x="1854.3" y="666.1" text-anchor="middle">747</text><text x="1887.6" y="690.7" text-anchor="middle">563</text><text x="1919.7" y="660.9" text-anchor="middle">461</text></g>
<g style="font-family:'Liberation Serif','Times New Roman',serif;font-size:37px" fill="#000"><text x="855.5" y="88.7">(a)</text><text x="854.0" y="291.3">(b)</text><text x="853.0" y="432.5">(c)</text><text x="851.5" y="504.4">(d)</text></g>
<g style="font-family:'Liberation Serif','Times New Roman',serif;font-size:40px" fill="#000"><text x="1145" y="130.1">(a)</text><text x="1146.5" y="314.5">(b)</text><text x="1146" y="465.2">(c)</text><text x="1147.5" y="641.8">(d)</text></g>
<text x="488" y="637.4" style="font-family:'Liberation Serif','Times New Roman',serif;font-size:27.8px" fill="#000">Stanrdard struvite on PDF card 15-0762</text>
<text x="516.7" y="856" text-anchor="middle" style="font-family:'Liberation Serif','Times New Roman',serif;font-size:38px" fill="#000">2θ (degree)</text>
<text transform="translate(27.8 402.6) rotate(-90)" text-anchor="middle" style="font-family:'Liberation Serif','Times New Roman',serif;font-size:38px" fill="#000">Intensity (a.u.)</text>
<text transform="translate(1026 403.2) rotate(-90)" text-anchor="middle" style="font-family:'Liberation Serif','Times New Roman',serif;font-size:37.5px" fill="#000">Transmittance (%)</text>
<text x="1357" y="855" style="font-family:'Liberation Serif','Times New Roman',serif;font-size:37.5px" fill="#000">Wavenumbers (cm<tspan dy="-18.5" style="font-size:21px">-1</tspan><tspan dy="18.5">)</tspan></text>
<text x="12.5" y="24.2" style="font-family:'Liberation Sans',Arial,sans-serif;font-weight:bold;font-size:30px" fill="#000">A</text>
<text x="1013.5" y="24.4" style="font-family:'Liberation Sans',Arial,sans-serif;font-weight:bold;font-size:30px" fill="#000">B</text>
</svg>
</body></html>
